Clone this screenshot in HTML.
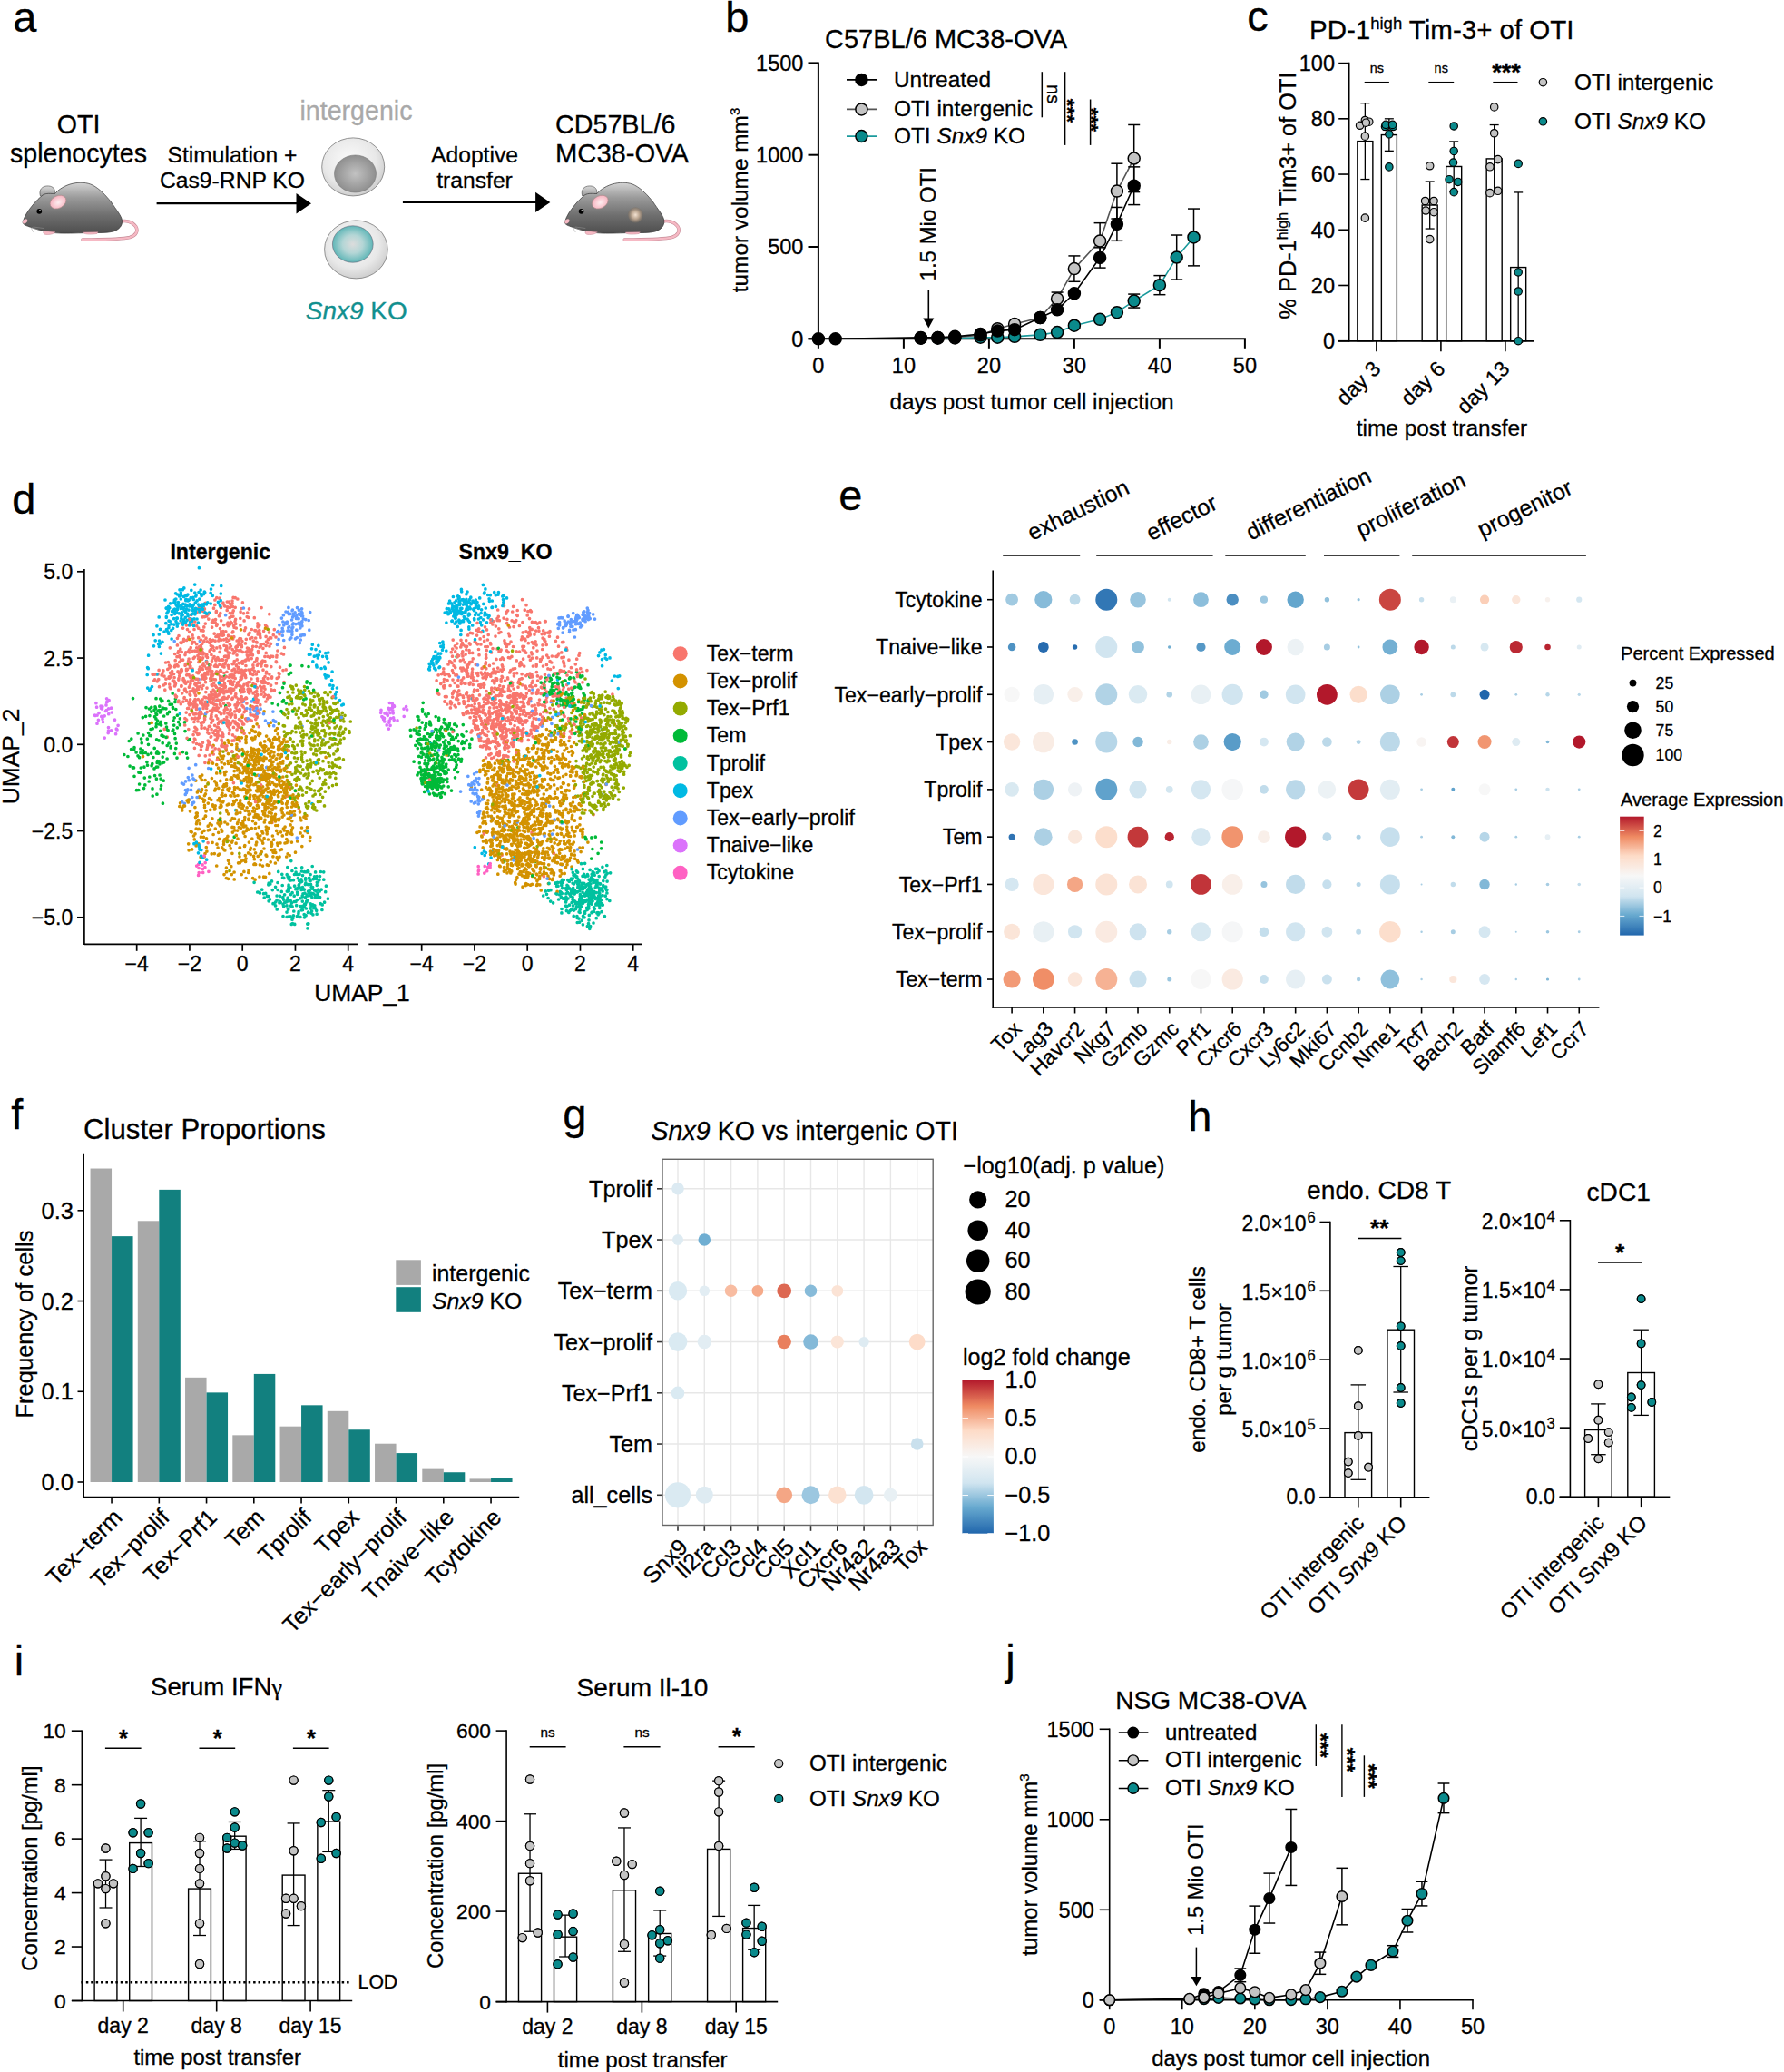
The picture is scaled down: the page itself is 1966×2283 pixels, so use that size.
<!DOCTYPE html>
<html><head><meta charset="utf-8"><title>Figure</title>
<style>html,body{margin:0;padding:0;background:#fff}svg{display:block}text{font-family:"Liberation Sans",sans-serif;stroke-width:.3px}text:not([fill]){stroke:#000}</style>
</head><body>
<svg width="1966" height="2283" viewBox="0 0 1966 2283" fill="#000">
<rect width="1966" height="2283" fill="#fff"/>
<defs><linearGradient id="mg" x1="0" y1="0" x2="0" y2="1"><stop offset="0" stop-color="#d4d4d4"/><stop offset="0.3" stop-color="#9a9a9a"/><stop offset="0.65" stop-color="#6e6e6e"/><stop offset="1" stop-color="#4e4e4e"/></linearGradient><linearGradient id="mg2" x1="0" y1="0" x2="0" y2="1"><stop offset="0" stop-color="#d8d8d8"/><stop offset="1" stop-color="#8a8a8a"/></linearGradient><radialGradient id="eg1" cx="0.5" cy="0.55" r="0.6"><stop offset="0" stop-color="#fdeef0"/><stop offset="0.6" stop-color="#f9c6cf"/><stop offset="1" stop-color="#f3a9b8"/></radialGradient><radialGradient id="tg"><stop offset="0" stop-color="#f3e2d2"/><stop offset="0.55" stop-color="#b9a38e"/><stop offset="1" stop-color="#7d7266" stop-opacity="0.6"/></radialGradient><radialGradient id="co" cx="0.45" cy="0.4" r="0.6"><stop offset="0" stop-color="#fbfbfb"/><stop offset="0.7" stop-color="#e8e8e8"/><stop offset="1" stop-color="#cfcfcf"/></radialGradient><radialGradient id="cn1" cx="0.5" cy="0.5" r="0.55"><stop offset="0" stop-color="#c2c2c2"/><stop offset="1" stop-color="#8a8a8a"/></radialGradient><radialGradient id="cn2" cx="0.5" cy="0.5" r="0.55"><stop offset="0" stop-color="#dcdcdc"/><stop offset="0.45" stop-color="#b4d6d6"/><stop offset="1" stop-color="#4fb0b1"/></radialGradient></defs>
<text x="14.2" y="35" font-size="47">a</text>
<text x="86.5" y="146.7" font-size="28.6" text-anchor="middle">OTI</text>
<text x="86.5" y="179.3" font-size="28.6" text-anchor="middle">splenocytes</text>
<g transform="translate(0 0)">
<path d="M132 244.2 C139 242.3 146 244.5 149.6 249.5 C152.6 254.5 150 259.6 143 261.6 C132 264.2 110 263.8 91 264" fill="none" stroke="#c58b97" stroke-width="3.6" stroke-linecap="round"/>
<path d="M132 244.2 C139 242.3 146 244.5 149.6 249.5 C152.6 254.5 150 259.6 143 261.6 C132 264.2 110 263.8 91 264" fill="none" stroke="#f6b9c4" stroke-width="2.5" stroke-linecap="round"/>
<path d="M44.5 216 C42.8 210.5 45 206.3 50 205.2 C55 204.2 59.6 206 60.3 210 C60.6 212 60.5 213 60.5 214.5 L52 219 Z" fill="url(#mg2)" stroke="#444" stroke-width="0.6"/>
<path d="M25.1 244.7 C27 238 31 232 36 226 C40 221 44 217.5 47 215 C51 212.5 56 213.5 60.5 213.5 C64 209 72 204 80 202.3 C88 200.5 96 201 102 204 C110 208 117 216 122 222 C128 231 134 238 134.5 243 C135 249 131 253 125 255 C118 257 108 256.4 100 256.5 C88 256.7 75 257.3 67 257 C59 256.7 52 256 48 254.8 C42 253 37 251.5 33.6 250.3 C29 248.7 25 247.5 25.1 244.7 Z" fill="url(#mg)" stroke="#333" stroke-width="0.7"/>
<path d="M49 254.5 C47 255.5 47.2 258 50.5 258.4 C55 259 59.5 257.5 61 255.8 Z" fill="#f6b9c4" stroke="#c58b97" stroke-width="0.5"/>
<path d="M92 256 C92 258 99 258.8 107 257.4 L108 255.8 Z" fill="#f6b9c4" stroke="#c58b97" stroke-width="0.5"/>
<path d="M33.5 250 L37 256 M35 250.5 L43.5 253.5 M36.5 250 L48 251.5" fill="none" stroke="#999" stroke-width="0.5"/>
<ellipse cx="27.6" cy="243.8" rx="3" ry="2.1" fill="#f6b9c4" transform="rotate(-35 27.6 243.8)"/>
<ellipse cx="64" cy="222.6" rx="9.4" ry="6.8" fill="url(#eg1)" stroke="#a88" stroke-width="0.6" transform="rotate(-27 64 222.6)"/>
<circle cx="43.3" cy="232.8" r="2.9" fill="#000"/>
<circle cx="44" cy="232.1" r="0.9" fill="#fff"/>
</g>
<line x1="172.6" y1="224.2" x2="330" y2="224.2" stroke="#000" stroke-width="2.2"/>
<path d="M326.5 213 L343 224.2 L326.5 235.4 Z" fill="#000"/>
<text x="256" y="179.4" font-size="24.6" text-anchor="middle">Stimulation +</text>
<text x="256" y="207.2" font-size="24.7" text-anchor="middle">Cas9-RNP KO</text>
<text x="392.5" y="132" font-size="28.6" text-anchor="middle" fill="#a9a9a9" stroke="#a9a9a9">intergenic</text>
<ellipse cx="389.2" cy="183.9" rx="34.5" ry="32" fill="url(#co)" stroke="#777" stroke-width="0.8"/>
<ellipse cx="391.5" cy="191.5" rx="23" ry="20.5" fill="url(#cn1)" stroke="#777" stroke-width="0.6"/>
<ellipse cx="392.4" cy="274.9" rx="34.8" ry="32" fill="url(#co)" stroke="#777" stroke-width="0.8"/>
<ellipse cx="388.8" cy="269" rx="22.4" ry="20.2" fill="url(#cn2)" stroke="#667" stroke-width="0.6"/>
<text x="392.8" y="352" font-size="28" text-anchor="middle" fill="#12908f" stroke="#12908f"><tspan font-style="italic">Snx9</tspan> KO</text>
<line x1="443.9" y1="222.9" x2="594" y2="222.9" stroke="#000" stroke-width="2.2"/>
<path d="M590.1 211.7 L606.3 222.9 L590.1 234.1 Z" fill="#000"/>
<text x="523" y="179.4" font-size="24.7" text-anchor="middle">Adoptive</text>
<text x="523" y="207.2" font-size="24.7" text-anchor="middle">transfer</text>
<text x="612" y="146.6" font-size="28.7">CD57BL/6</text>
<text x="612" y="179.4" font-size="29.2">MC38-OVA</text>
<g transform="translate(597.3 0)">
<path d="M132 244.2 C139 242.3 146 244.5 149.6 249.5 C152.6 254.5 150 259.6 143 261.6 C132 264.2 110 263.8 91 264" fill="none" stroke="#c58b97" stroke-width="3.6" stroke-linecap="round"/>
<path d="M132 244.2 C139 242.3 146 244.5 149.6 249.5 C152.6 254.5 150 259.6 143 261.6 C132 264.2 110 263.8 91 264" fill="none" stroke="#f6b9c4" stroke-width="2.5" stroke-linecap="round"/>
<path d="M44.5 216 C42.8 210.5 45 206.3 50 205.2 C55 204.2 59.6 206 60.3 210 C60.6 212 60.5 213 60.5 214.5 L52 219 Z" fill="url(#mg2)" stroke="#444" stroke-width="0.6"/>
<path d="M25.1 244.7 C27 238 31 232 36 226 C40 221 44 217.5 47 215 C51 212.5 56 213.5 60.5 213.5 C64 209 72 204 80 202.3 C88 200.5 96 201 102 204 C110 208 117 216 122 222 C128 231 134 238 134.5 243 C135 249 131 253 125 255 C118 257 108 256.4 100 256.5 C88 256.7 75 257.3 67 257 C59 256.7 52 256 48 254.8 C42 253 37 251.5 33.6 250.3 C29 248.7 25 247.5 25.1 244.7 Z" fill="url(#mg)" stroke="#333" stroke-width="0.7"/>
<path d="M49 254.5 C47 255.5 47.2 258 50.5 258.4 C55 259 59.5 257.5 61 255.8 Z" fill="#f6b9c4" stroke="#c58b97" stroke-width="0.5"/>
<path d="M92 256 C92 258 99 258.8 107 257.4 L108 255.8 Z" fill="#f6b9c4" stroke="#c58b97" stroke-width="0.5"/>
<path d="M33.5 250 L37 256 M35 250.5 L43.5 253.5 M36.5 250 L48 251.5" fill="none" stroke="#999" stroke-width="0.5"/>
<ellipse cx="27.6" cy="243.8" rx="3" ry="2.1" fill="#f6b9c4" transform="rotate(-35 27.6 243.8)"/>
<ellipse cx="64" cy="222.6" rx="9.4" ry="6.8" fill="url(#eg1)" stroke="#a88" stroke-width="0.6" transform="rotate(-27 64 222.6)"/>
<circle cx="43.3" cy="232.8" r="2.9" fill="#000"/>
<circle cx="44" cy="232.1" r="0.9" fill="#fff"/>
<ellipse cx="103" cy="236.8" rx="8.2" ry="8.6" fill="url(#tg)"/>
</g>
<text x="799.2" y="34.8" font-size="47">b</text>
<line x1="901.9" y1="374.3" x2="901.9" y2="68.4" stroke="#000" stroke-width="2"/>
<line x1="890.5" y1="373.3" x2="1372.9" y2="373.3" stroke="#000" stroke-width="2"/>
<line x1="890.5" y1="373.3" x2="901.9" y2="373.3" stroke="#000" stroke-width="2"/>
<text x="885.4" y="381.5" font-size="23.5" text-anchor="end">0</text>
<line x1="890.5" y1="272" x2="901.9" y2="272" stroke="#000" stroke-width="2"/>
<text x="885.4" y="280.2" font-size="23.5" text-anchor="end">500</text>
<line x1="890.5" y1="170.7" x2="901.9" y2="170.7" stroke="#000" stroke-width="2"/>
<text x="885.4" y="178.9" font-size="23.5" text-anchor="end">1000</text>
<line x1="890.5" y1="69.4" x2="901.9" y2="69.4" stroke="#000" stroke-width="2"/>
<text x="885.4" y="77.6" font-size="23.5" text-anchor="end">1500</text>
<line x1="901.9" y1="373.3" x2="901.9" y2="383.8" stroke="#000" stroke-width="2"/>
<text x="901.9" y="411.2" font-size="23.5" text-anchor="middle">0</text>
<line x1="995.9" y1="373.3" x2="995.9" y2="383.8" stroke="#000" stroke-width="2"/>
<text x="995.9" y="411.2" font-size="23.5" text-anchor="middle">10</text>
<line x1="1089.9" y1="373.3" x2="1089.9" y2="383.8" stroke="#000" stroke-width="2"/>
<text x="1089.9" y="411.2" font-size="23.5" text-anchor="middle">20</text>
<line x1="1183.9" y1="373.3" x2="1183.9" y2="383.8" stroke="#000" stroke-width="2"/>
<text x="1183.9" y="411.2" font-size="23.5" text-anchor="middle">30</text>
<line x1="1277.9" y1="373.3" x2="1277.9" y2="383.8" stroke="#000" stroke-width="2"/>
<text x="1277.9" y="411.2" font-size="23.5" text-anchor="middle">40</text>
<line x1="1371.9" y1="373.3" x2="1371.9" y2="383.8" stroke="#000" stroke-width="2"/>
<text x="1371.9" y="411.2" font-size="23.5" text-anchor="middle">50</text>
<text x="1042.5" y="52.8" font-size="29" text-anchor="middle">C57BL/6 MC38-OVA</text>
<text x="1137" y="450.8" font-size="24.4" text-anchor="middle">days post tumor cell injection</text>
<text transform="translate(824 220.5) rotate(-90)" font-size="24.4" text-anchor="middle">tumor volume mm<tspan font-size="15" dy="-9">3</tspan></text>
<line x1="1023.3" y1="319" x2="1023.3" y2="353" stroke="#000" stroke-width="1.6"/>
<path d="M1017.3 350.5 L1029.3 350.5 L1023.3 361.5 Z" fill="#000"/>
<text font-size="24" transform="translate(1031 309.4) rotate(-90)">1.5 Mio OTI</text>
<path d="M1014.7 372.69 L1033.5 372.69 L1052.3 372.49 L1080.5 371.68 L1099.3 371.68 L1118.1 370.87 L1146.3 368.84 L1165.1 366.01 L1183.9 358.71 L1212.1 351.82 L1230.9 344.13 L1249.7 331.56 L1277.9 314.14 L1296.7 283.55 L1315.5 261.46" fill="none" stroke="#1a9a9c" stroke-width="1.6" stroke-linejoin="round"/>
<line x1="1249.7" y1="324.07" x2="1249.7" y2="339.06" stroke="#000" stroke-width="1.5"/>
<line x1="1243.2" y1="324.07" x2="1256.2" y2="324.07" stroke="#000" stroke-width="1.5"/>
<line x1="1243.2" y1="339.06" x2="1256.2" y2="339.06" stroke="#000" stroke-width="1.5"/>
<line x1="1277.9" y1="303.61" x2="1277.9" y2="324.68" stroke="#000" stroke-width="1.5"/>
<line x1="1271.4" y1="303.61" x2="1284.4" y2="303.61" stroke="#000" stroke-width="1.5"/>
<line x1="1271.4" y1="324.68" x2="1284.4" y2="324.68" stroke="#000" stroke-width="1.5"/>
<line x1="1296.7" y1="259.03" x2="1296.7" y2="308.06" stroke="#000" stroke-width="1.5"/>
<line x1="1290.2" y1="259.03" x2="1303.2" y2="259.03" stroke="#000" stroke-width="1.5"/>
<line x1="1290.2" y1="308.06" x2="1303.2" y2="308.06" stroke="#000" stroke-width="1.5"/>
<line x1="1315.5" y1="230.06" x2="1315.5" y2="292.87" stroke="#000" stroke-width="1.5"/>
<line x1="1309" y1="230.06" x2="1322" y2="230.06" stroke="#000" stroke-width="1.5"/>
<line x1="1309" y1="292.87" x2="1322" y2="292.87" stroke="#000" stroke-width="1.5"/>
<circle cx="1014.7" cy="372.69" r="6.5" fill="#0a8a8c" stroke="#000" stroke-width="1.5"/>
<circle cx="1033.5" cy="372.69" r="6.5" fill="#0a8a8c" stroke="#000" stroke-width="1.5"/>
<circle cx="1052.3" cy="372.49" r="6.5" fill="#0a8a8c" stroke="#000" stroke-width="1.5"/>
<circle cx="1080.5" cy="371.68" r="6.5" fill="#0a8a8c" stroke="#000" stroke-width="1.5"/>
<circle cx="1099.3" cy="371.68" r="6.5" fill="#0a8a8c" stroke="#000" stroke-width="1.5"/>
<circle cx="1118.1" cy="370.87" r="6.5" fill="#0a8a8c" stroke="#000" stroke-width="1.5"/>
<circle cx="1146.3" cy="368.84" r="6.5" fill="#0a8a8c" stroke="#000" stroke-width="1.5"/>
<circle cx="1165.1" cy="366.01" r="6.5" fill="#0a8a8c" stroke="#000" stroke-width="1.5"/>
<circle cx="1183.9" cy="358.71" r="6.5" fill="#0a8a8c" stroke="#000" stroke-width="1.5"/>
<circle cx="1212.1" cy="351.82" r="6.5" fill="#0a8a8c" stroke="#000" stroke-width="1.5"/>
<circle cx="1230.9" cy="344.13" r="6.5" fill="#0a8a8c" stroke="#000" stroke-width="1.5"/>
<circle cx="1249.7" cy="331.56" r="6.5" fill="#0a8a8c" stroke="#000" stroke-width="1.5"/>
<circle cx="1277.9" cy="314.14" r="6.5" fill="#0a8a8c" stroke="#000" stroke-width="1.5"/>
<circle cx="1296.7" cy="283.55" r="6.5" fill="#0a8a8c" stroke="#000" stroke-width="1.5"/>
<circle cx="1315.5" cy="261.46" r="6.5" fill="#0a8a8c" stroke="#000" stroke-width="1.5"/>
<path d="M1014.7 372.29 L1033.5 372.08 L1052.3 371.68 L1080.5 369.25 L1099.3 362.16 L1118.1 357.09 L1146.3 350 L1165.1 329.13 L1183.9 296.11 L1212.1 265.52 L1230.9 210.61 L1249.7 174.55" fill="none" stroke="#555" stroke-width="1.6" stroke-linejoin="round"/>
<line x1="1165.1" y1="322.04" x2="1165.1" y2="336.22" stroke="#000" stroke-width="1.5"/>
<line x1="1158.6" y1="322.04" x2="1171.6" y2="322.04" stroke="#000" stroke-width="1.5"/>
<line x1="1158.6" y1="336.22" x2="1171.6" y2="336.22" stroke="#000" stroke-width="1.5"/>
<line x1="1183.9" y1="281.93" x2="1183.9" y2="310.29" stroke="#000" stroke-width="1.5"/>
<line x1="1177.4" y1="281.93" x2="1190.4" y2="281.93" stroke="#000" stroke-width="1.5"/>
<line x1="1177.4" y1="310.29" x2="1190.4" y2="310.29" stroke="#000" stroke-width="1.5"/>
<line x1="1212.1" y1="245.66" x2="1212.1" y2="285.37" stroke="#000" stroke-width="1.5"/>
<line x1="1205.6" y1="245.66" x2="1218.6" y2="245.66" stroke="#000" stroke-width="1.5"/>
<line x1="1205.6" y1="285.37" x2="1218.6" y2="285.37" stroke="#000" stroke-width="1.5"/>
<line x1="1230.9" y1="180.22" x2="1230.9" y2="241" stroke="#000" stroke-width="1.5"/>
<line x1="1224.4" y1="180.22" x2="1237.4" y2="180.22" stroke="#000" stroke-width="1.5"/>
<line x1="1224.4" y1="241" x2="1237.4" y2="241" stroke="#000" stroke-width="1.5"/>
<line x1="1249.7" y1="137.47" x2="1249.7" y2="211.63" stroke="#000" stroke-width="1.5"/>
<line x1="1243.2" y1="137.47" x2="1256.2" y2="137.47" stroke="#000" stroke-width="1.5"/>
<line x1="1243.2" y1="211.63" x2="1256.2" y2="211.63" stroke="#000" stroke-width="1.5"/>
<circle cx="1014.7" cy="372.29" r="6.5" fill="#c4c4c4" stroke="#000" stroke-width="1.5"/>
<circle cx="1033.5" cy="372.08" r="6.5" fill="#c4c4c4" stroke="#000" stroke-width="1.5"/>
<circle cx="1052.3" cy="371.68" r="6.5" fill="#c4c4c4" stroke="#000" stroke-width="1.5"/>
<circle cx="1080.5" cy="369.25" r="6.5" fill="#c4c4c4" stroke="#000" stroke-width="1.5"/>
<circle cx="1099.3" cy="362.16" r="6.5" fill="#c4c4c4" stroke="#000" stroke-width="1.5"/>
<circle cx="1118.1" cy="357.09" r="6.5" fill="#c4c4c4" stroke="#000" stroke-width="1.5"/>
<circle cx="1146.3" cy="350" r="6.5" fill="#c4c4c4" stroke="#000" stroke-width="1.5"/>
<circle cx="1165.1" cy="329.13" r="6.5" fill="#c4c4c4" stroke="#000" stroke-width="1.5"/>
<circle cx="1183.9" cy="296.11" r="6.5" fill="#c4c4c4" stroke="#000" stroke-width="1.5"/>
<circle cx="1212.1" cy="265.52" r="6.5" fill="#c4c4c4" stroke="#000" stroke-width="1.5"/>
<circle cx="1230.9" cy="210.61" r="6.5" fill="#c4c4c4" stroke="#000" stroke-width="1.5"/>
<circle cx="1249.7" cy="174.55" r="6.5" fill="#c4c4c4" stroke="#000" stroke-width="1.5"/>
<path d="M901.9 373.3 L920.7 373.3 L1014.7 371.88 L1033.5 371.88 L1052.3 370.87 L1080.5 368.03 L1099.3 364.59 L1118.1 363.17 L1146.3 350 L1165.1 341.29 L1183.9 323.26 L1212.1 283.95 L1230.9 246.88 L1249.7 204.74" fill="none" stroke="#000" stroke-width="1.6" stroke-linejoin="round"/>
<line x1="1212.1" y1="272.81" x2="1212.1" y2="295.1" stroke="#000" stroke-width="1.5"/>
<line x1="1205.6" y1="272.81" x2="1218.6" y2="272.81" stroke="#000" stroke-width="1.5"/>
<line x1="1205.6" y1="295.1" x2="1218.6" y2="295.1" stroke="#000" stroke-width="1.5"/>
<line x1="1230.9" y1="228.44" x2="1230.9" y2="265.31" stroke="#000" stroke-width="1.5"/>
<line x1="1224.4" y1="228.44" x2="1237.4" y2="228.44" stroke="#000" stroke-width="1.5"/>
<line x1="1224.4" y1="265.31" x2="1237.4" y2="265.31" stroke="#000" stroke-width="1.5"/>
<line x1="1249.7" y1="183.87" x2="1249.7" y2="225.6" stroke="#000" stroke-width="1.5"/>
<line x1="1243.2" y1="183.87" x2="1256.2" y2="183.87" stroke="#000" stroke-width="1.5"/>
<line x1="1243.2" y1="225.6" x2="1256.2" y2="225.6" stroke="#000" stroke-width="1.5"/>
<circle cx="901.9" cy="373.3" r="6.5" fill="#000" stroke="#000" stroke-width="1.5"/>
<circle cx="920.7" cy="373.3" r="6.5" fill="#000" stroke="#000" stroke-width="1.5"/>
<circle cx="1014.7" cy="371.88" r="6.5" fill="#000" stroke="#000" stroke-width="1.5"/>
<circle cx="1033.5" cy="371.88" r="6.5" fill="#000" stroke="#000" stroke-width="1.5"/>
<circle cx="1052.3" cy="370.87" r="6.5" fill="#000" stroke="#000" stroke-width="1.5"/>
<circle cx="1080.5" cy="368.03" r="6.5" fill="#000" stroke="#000" stroke-width="1.5"/>
<circle cx="1099.3" cy="364.59" r="6.5" fill="#000" stroke="#000" stroke-width="1.5"/>
<circle cx="1118.1" cy="363.17" r="6.5" fill="#000" stroke="#000" stroke-width="1.5"/>
<circle cx="1146.3" cy="350" r="6.5" fill="#000" stroke="#000" stroke-width="1.5"/>
<circle cx="1165.1" cy="341.29" r="6.5" fill="#000" stroke="#000" stroke-width="1.5"/>
<circle cx="1183.9" cy="323.26" r="6.5" fill="#000" stroke="#000" stroke-width="1.5"/>
<circle cx="1212.1" cy="283.95" r="6.5" fill="#000" stroke="#000" stroke-width="1.5"/>
<circle cx="1230.9" cy="246.88" r="6.5" fill="#000" stroke="#000" stroke-width="1.5"/>
<circle cx="1249.7" cy="204.74" r="6.5" fill="#000" stroke="#000" stroke-width="1.5"/>
<line x1="933" y1="87.9" x2="966.6" y2="87.9" stroke="#000" stroke-width="1.6"/>
<circle cx="949.4" cy="87.9" r="6.5" fill="#000" stroke="#000" stroke-width="1.5"/>
<line x1="933" y1="120.4" x2="966.6" y2="120.4" stroke="#555" stroke-width="1.6"/>
<circle cx="949.4" cy="120.4" r="6.5" fill="#c4c4c4" stroke="#000" stroke-width="1.5"/>
<line x1="933" y1="150.1" x2="966.6" y2="150.1" stroke="#1a9a9c" stroke-width="1.6"/>
<circle cx="949.4" cy="150.1" r="6.5" fill="#0a8a8c" stroke="#000" stroke-width="1.5"/>
<text x="985" y="95.8" font-size="24.4">Untreated</text>
<text x="985" y="128.3" font-size="24.4">OTI intergenic</text>
<text x="985" y="157.7" font-size="24.4">OTI <tspan font-style="italic">Snx9</tspan> KO</text>
<line x1="1148.3" y1="79.2" x2="1148.3" y2="129.3" stroke="#000" stroke-width="1.5"/>
<line x1="1173.6" y1="79.2" x2="1173.6" y2="159.9" stroke="#000" stroke-width="1.5"/>
<line x1="1201.6" y1="109.5" x2="1201.6" y2="159.9" stroke="#000" stroke-width="1.5"/>
<text font-size="20" text-anchor="middle" transform="translate(1153.7 103.6) rotate(90)">ns</text>
<text font-size="22.5" text-anchor="middle" font-weight="bold" transform="translate(1168.7 122) rotate(90)">***</text>
<text font-size="22.5" text-anchor="middle" font-weight="bold" transform="translate(1195.4 132) rotate(90)">***</text>
<text x="1374.2" y="34" font-size="47">c</text>
<line x1="1486.7" y1="376.5" x2="1486.7" y2="68.8" stroke="#000" stroke-width="1.6"/>
<line x1="1474.8" y1="375.7" x2="1690.2" y2="375.7" stroke="#000" stroke-width="1.6"/>
<rect x="1495.86" y="155.61" width="17" height="220.09" fill="#fff" stroke="#000" stroke-width="1.4"/>
<rect x="1522.36" y="148.57" width="17" height="227.13" fill="#fff" stroke="#000" stroke-width="1.4"/>
<rect x="1567.19" y="226.02" width="17" height="149.68" fill="#fff" stroke="#000" stroke-width="1.4"/>
<rect x="1593.69" y="183.47" width="17" height="192.23" fill="#fff" stroke="#000" stroke-width="1.4"/>
<rect x="1638.18" y="174.9" width="17" height="200.8" fill="#fff" stroke="#000" stroke-width="1.4"/>
<rect x="1664.68" y="294.58" width="17" height="81.12" fill="#fff" stroke="#000" stroke-width="1.4"/>
<line x1="1474.8" y1="375.7" x2="1690.2" y2="375.7" stroke="#000" stroke-width="1.6"/>
<line x1="1504.36" y1="113.68" x2="1504.36" y2="197.55" stroke="#000" stroke-width="1.3"/>
<line x1="1499.36" y1="113.68" x2="1509.36" y2="113.68" stroke="#000" stroke-width="1.3"/>
<line x1="1499.36" y1="197.55" x2="1509.36" y2="197.55" stroke="#000" stroke-width="1.3"/>
<line x1="1530.86" y1="130.82" x2="1530.86" y2="166.33" stroke="#000" stroke-width="1.3"/>
<line x1="1525.86" y1="130.82" x2="1535.86" y2="130.82" stroke="#000" stroke-width="1.3"/>
<line x1="1525.86" y1="166.33" x2="1535.86" y2="166.33" stroke="#000" stroke-width="1.3"/>
<line x1="1575.69" y1="200" x2="1575.69" y2="252.04" stroke="#000" stroke-width="1.3"/>
<line x1="1570.69" y1="200" x2="1580.69" y2="200" stroke="#000" stroke-width="1.3"/>
<line x1="1570.69" y1="252.04" x2="1580.69" y2="252.04" stroke="#000" stroke-width="1.3"/>
<line x1="1602.19" y1="155.92" x2="1602.19" y2="211.02" stroke="#000" stroke-width="1.3"/>
<line x1="1597.19" y1="155.92" x2="1607.19" y2="155.92" stroke="#000" stroke-width="1.3"/>
<line x1="1597.19" y1="211.02" x2="1607.19" y2="211.02" stroke="#000" stroke-width="1.3"/>
<line x1="1646.68" y1="137.55" x2="1646.68" y2="212.24" stroke="#000" stroke-width="1.3"/>
<line x1="1641.68" y1="137.55" x2="1651.68" y2="137.55" stroke="#000" stroke-width="1.3"/>
<line x1="1641.68" y1="212.24" x2="1651.68" y2="212.24" stroke="#000" stroke-width="1.3"/>
<line x1="1673.18" y1="211.94" x2="1673.18" y2="377.23" stroke="#000" stroke-width="1.3"/>
<line x1="1668.18" y1="211.94" x2="1678.18" y2="211.94" stroke="#000" stroke-width="1.3"/>
<line x1="1668.18" y1="377.23" x2="1678.18" y2="377.23" stroke="#000" stroke-width="1.3"/>
<circle cx="1504.36" cy="132.49" r="4.2" fill="#c4c4c4" stroke="#000" stroke-width="1.2"/>
<circle cx="1498.59" cy="138.27" r="4.2" fill="#c4c4c4" stroke="#000" stroke-width="1.2"/>
<circle cx="1508.78" cy="134.19" r="4.2" fill="#c4c4c4" stroke="#000" stroke-width="1.2"/>
<circle cx="1505.38" cy="135.21" r="4.2" fill="#c4c4c4" stroke="#000" stroke-width="1.2"/>
<circle cx="1504.36" cy="150.16" r="4.2" fill="#c4c4c4" stroke="#000" stroke-width="1.2"/>
<circle cx="1504.36" cy="240.17" r="4.2" fill="#c4c4c4" stroke="#000" stroke-width="1.2"/>
<circle cx="1526.51" cy="139.52" r="4.2" fill="#0a8a8c" stroke="#000" stroke-width="1.2"/>
<circle cx="1535.2" cy="139.52" r="4.2" fill="#0a8a8c" stroke="#000" stroke-width="1.2"/>
<circle cx="1530.86" cy="147.78" r="4.2" fill="#0a8a8c" stroke="#000" stroke-width="1.2"/>
<circle cx="1530.86" cy="183.92" r="4.2" fill="#0a8a8c" stroke="#000" stroke-width="1.2"/>
<circle cx="1527.12" cy="137.42" r="4.2" fill="#0a8a8c" stroke="#000" stroke-width="1.2"/>
<circle cx="1534.59" cy="137.42" r="4.2" fill="#0a8a8c" stroke="#000" stroke-width="1.2"/>
<circle cx="1575.69" cy="182.77" r="4.2" fill="#c4c4c4" stroke="#000" stroke-width="1.2"/>
<circle cx="1570.6" cy="221.49" r="4.2" fill="#c4c4c4" stroke="#000" stroke-width="1.2"/>
<circle cx="1580.11" cy="221.49" r="4.2" fill="#c4c4c4" stroke="#000" stroke-width="1.2"/>
<circle cx="1571.28" cy="232.02" r="4.2" fill="#c4c4c4" stroke="#000" stroke-width="1.2"/>
<circle cx="1580.11" cy="233.72" r="4.2" fill="#c4c4c4" stroke="#000" stroke-width="1.2"/>
<circle cx="1575.69" cy="263.61" r="4.2" fill="#c4c4c4" stroke="#000" stroke-width="1.2"/>
<circle cx="1602.19" cy="138.95" r="4.2" fill="#0a8a8c" stroke="#000" stroke-width="1.2"/>
<circle cx="1602.19" cy="166.46" r="4.2" fill="#0a8a8c" stroke="#000" stroke-width="1.2"/>
<circle cx="1601.51" cy="179.03" r="4.2" fill="#0a8a8c" stroke="#000" stroke-width="1.2"/>
<circle cx="1597.09" cy="197.71" r="4.2" fill="#0a8a8c" stroke="#000" stroke-width="1.2"/>
<circle cx="1606.6" cy="200.43" r="4.2" fill="#0a8a8c" stroke="#000" stroke-width="1.2"/>
<circle cx="1602.19" cy="211.64" r="4.2" fill="#0a8a8c" stroke="#000" stroke-width="1.2"/>
<circle cx="1646.68" cy="117.89" r="4.2" fill="#c4c4c4" stroke="#000" stroke-width="1.2"/>
<circle cx="1646.68" cy="146.76" r="4.2" fill="#c4c4c4" stroke="#000" stroke-width="1.2"/>
<circle cx="1650.76" cy="175.63" r="4.2" fill="#c4c4c4" stroke="#000" stroke-width="1.2"/>
<circle cx="1641.93" cy="183.78" r="4.2" fill="#c4c4c4" stroke="#000" stroke-width="1.2"/>
<circle cx="1641.93" cy="212.66" r="4.2" fill="#c4c4c4" stroke="#000" stroke-width="1.2"/>
<circle cx="1650.76" cy="210.28" r="4.2" fill="#c4c4c4" stroke="#000" stroke-width="1.2"/>
<circle cx="1673.18" cy="180.39" r="4.2" fill="#0a8a8c" stroke="#000" stroke-width="1.2"/>
<circle cx="1673.18" cy="299.95" r="4.2" fill="#0a8a8c" stroke="#000" stroke-width="1.2"/>
<circle cx="1673.18" cy="321.01" r="4.2" fill="#0a8a8c" stroke="#000" stroke-width="1.2"/>
<circle cx="1673.18" cy="375.7" r="4.2" fill="#0a8a8c" stroke="#000" stroke-width="1.2"/>
<line x1="1475.2" y1="375.7" x2="1486.7" y2="375.7" stroke="#000" stroke-width="1.6"/>
<text x="1471" y="384" font-size="23.5" text-anchor="end">0</text>
<line x1="1475.2" y1="314.48" x2="1486.7" y2="314.48" stroke="#000" stroke-width="1.6"/>
<text x="1471" y="322.78" font-size="23.5" text-anchor="end">20</text>
<line x1="1475.2" y1="253.26" x2="1486.7" y2="253.26" stroke="#000" stroke-width="1.6"/>
<text x="1471" y="261.56" font-size="23.5" text-anchor="end">40</text>
<line x1="1475.2" y1="192.04" x2="1486.7" y2="192.04" stroke="#000" stroke-width="1.6"/>
<text x="1471" y="200.34" font-size="23.5" text-anchor="end">60</text>
<line x1="1475.2" y1="130.82" x2="1486.7" y2="130.82" stroke="#000" stroke-width="1.6"/>
<text x="1471" y="139.12" font-size="23.5" text-anchor="end">80</text>
<line x1="1475.2" y1="69.6" x2="1486.7" y2="69.6" stroke="#000" stroke-width="1.6"/>
<text x="1471" y="77.9" font-size="23.5" text-anchor="end">100</text>
<line x1="1516.9" y1="375.7" x2="1516.9" y2="387.2" stroke="#000" stroke-width="1.6"/>
<text font-size="23.5" text-anchor="end" transform="translate(1522.9 407.7) rotate(-45)">day 3</text>
<line x1="1587.9" y1="375.7" x2="1587.9" y2="387.2" stroke="#000" stroke-width="1.6"/>
<text font-size="23.5" text-anchor="end" transform="translate(1593.9 407.7) rotate(-45)">day 6</text>
<line x1="1658.9" y1="375.7" x2="1658.9" y2="387.2" stroke="#000" stroke-width="1.6"/>
<text font-size="23.5" text-anchor="end" transform="translate(1664.9 407.7) rotate(-45)">day 13</text>
<text x="1443" y="43.1" font-size="29.5">PD-1<tspan font-size="18.5" dy="-11.5">high</tspan><tspan dy="11.5"> Tim-3+ of OTI</tspan></text>
<text transform="translate(1428 215.5) rotate(-90)" font-size="25.4" text-anchor="middle">% PD-1<tspan font-size="16" dy="-9.5">high</tspan><tspan dy="9.5"> Tim3+ of OTI</tspan></text>
<text x="1589" y="479.6" font-size="24.4" text-anchor="middle">time post transfer</text>
<line x1="1503.7" y1="90.7" x2="1530.9" y2="90.7" stroke="#000" stroke-width="1.5"/>
<text x="1517.3" y="79.5" font-size="14.5" text-anchor="middle">ns</text>
<line x1="1574.3" y1="90.7" x2="1602.2" y2="90.7" stroke="#000" stroke-width="1.5"/>
<text x="1588.25" y="79.5" font-size="14.5" text-anchor="middle">ns</text>
<line x1="1645.3" y1="90.7" x2="1672.5" y2="90.7" stroke="#000" stroke-width="1.5"/>
<text x="1659.9" y="89.2" font-size="27" text-anchor="middle" font-weight="bold">***</text>
<circle cx="1700.4" cy="90.7" r="4.2" fill="#c4c4c4" stroke="#000" stroke-width="1.2"/>
<circle cx="1700.4" cy="133.8" r="4.2" fill="#0a8a8c" stroke="#000" stroke-width="1.2"/>
<text x="1735" y="99.2" font-size="24.4">OTI intergenic</text>
<text x="1735" y="142" font-size="24.4">OTI <tspan font-style="italic">Snx9</tspan> KO</text>
<text x="13.2" y="566" font-size="47">d</text>
<line x1="92.9" y1="627" x2="92.9" y2="1041.1" stroke="#000" stroke-width="1.7"/>
<line x1="92.9" y1="1040.3" x2="394.5" y2="1040.3" stroke="#000" stroke-width="1.7"/>
<line x1="406.3" y1="1040.3" x2="707.7" y2="1040.3" stroke="#000" stroke-width="1.7"/>
<line x1="85" y1="629.8" x2="92.9" y2="629.8" stroke="#000" stroke-width="1.7"/>
<text x="80.2" y="638.3" font-size="23" text-anchor="end">5.0</text>
<line x1="85" y1="725.05" x2="92.9" y2="725.05" stroke="#000" stroke-width="1.7"/>
<text x="80.2" y="733.55" font-size="23" text-anchor="end">2.5</text>
<line x1="85" y1="820.3" x2="92.9" y2="820.3" stroke="#000" stroke-width="1.7"/>
<text x="80.2" y="828.8" font-size="23" text-anchor="end">0.0</text>
<line x1="85" y1="915.55" x2="92.9" y2="915.55" stroke="#000" stroke-width="1.7"/>
<text x="80.2" y="924.05" font-size="23" text-anchor="end">−2.5</text>
<line x1="85" y1="1010.8" x2="92.9" y2="1010.8" stroke="#000" stroke-width="1.7"/>
<text x="80.2" y="1019.3" font-size="23" text-anchor="end">−5.0</text>
<line x1="150.68" y1="1040.3" x2="150.68" y2="1047.8" stroke="#000" stroke-width="1.7"/>
<text x="150.68" y="1070.3" font-size="23" text-anchor="middle">−4</text>
<line x1="208.94" y1="1040.3" x2="208.94" y2="1047.8" stroke="#000" stroke-width="1.7"/>
<text x="208.94" y="1070.3" font-size="23" text-anchor="middle">−2</text>
<line x1="267.2" y1="1040.3" x2="267.2" y2="1047.8" stroke="#000" stroke-width="1.7"/>
<text x="267.2" y="1070.3" font-size="23" text-anchor="middle">0</text>
<line x1="325.46" y1="1040.3" x2="325.46" y2="1047.8" stroke="#000" stroke-width="1.7"/>
<text x="325.46" y="1070.3" font-size="23" text-anchor="middle">2</text>
<line x1="383.72" y1="1040.3" x2="383.72" y2="1047.8" stroke="#000" stroke-width="1.7"/>
<text x="383.72" y="1070.3" font-size="23" text-anchor="middle">4</text>
<line x1="464.68" y1="1040.3" x2="464.68" y2="1047.8" stroke="#000" stroke-width="1.7"/>
<text x="464.68" y="1070.3" font-size="23" text-anchor="middle">−4</text>
<line x1="522.94" y1="1040.3" x2="522.94" y2="1047.8" stroke="#000" stroke-width="1.7"/>
<text x="522.94" y="1070.3" font-size="23" text-anchor="middle">−2</text>
<line x1="581.2" y1="1040.3" x2="581.2" y2="1047.8" stroke="#000" stroke-width="1.7"/>
<text x="581.2" y="1070.3" font-size="23" text-anchor="middle">0</text>
<line x1="639.46" y1="1040.3" x2="639.46" y2="1047.8" stroke="#000" stroke-width="1.7"/>
<text x="639.46" y="1070.3" font-size="23" text-anchor="middle">2</text>
<line x1="697.72" y1="1040.3" x2="697.72" y2="1047.8" stroke="#000" stroke-width="1.7"/>
<text x="697.72" y="1070.3" font-size="23" text-anchor="middle">4</text>
<text x="399" y="1102.6" font-size="26.4" text-anchor="middle">UMAP_1</text>
<text font-size="26.4" text-anchor="middle" transform="translate(21 833.5) rotate(-90)">UMAP_2</text>
<text x="242.8" y="615.8" font-size="23.2" text-anchor="middle" font-weight="bold">Intergenic</text>
<text x="557" y="615.8" font-size="23.2" text-anchor="middle" font-weight="bold">Snx9_KO</text>
<path d="M232.8 743.2h.01M243.5 762.6h.01M270.3 781.4h.01M248.4 756.3h.01M243.0 827.4h.01M240.6 726.1h.01M195.1 732.6h.01M267.2 788.1h.01M228.5 724.4h.01M174.0 742.9h.01M214.4 824.3h.01M237.3 767.8h.01M245.7 745.8h.01M298.4 709.3h.01M218.4 741.7h.01M198.2 724.1h.01M264.1 703.7h.01M288.3 750.5h.01M220.8 774.9h.01M256.1 761.4h.01M268.0 756.1h.01M283.1 725.5h.01M270.6 738.3h.01M247.9 668.0h.01M251.2 733.4h.01M252.7 705.2h.01M256.7 746.6h.01M298.4 755.5h.01M227.1 722.9h.01M192.0 750.7h.01M259.2 795.2h.01M264.0 774.8h.01M288.4 731.3h.01M281.2 762.5h.01M233.5 765.9h.01M208.2 732.2h.01M225.6 778.0h.01M297.2 702.8h.01M235.9 716.5h.01M264.9 749.0h.01M198.9 708.0h.01M262.4 799.2h.01M187.1 746.5h.01M229.0 743.0h.01M247.2 792.7h.01M252.3 663.1h.01M200.3 738.9h.01M210.3 729.6h.01M230.3 800.4h.01M242.9 714.0h.01M222.1 717.4h.01M215.5 752.6h.01M253.6 759.2h.01M234.1 755.6h.01M238.2 741.0h.01M256.7 703.9h.01M226.8 768.7h.01M210.2 713.6h.01M257.2 719.9h.01M228.0 758.1h.01M216.6 807.1h.01M247.0 786.0h.01M284.4 717.6h.01M279.9 773.1h.01M184.8 737.4h.01M232.0 791.6h.01M251.8 801.1h.01M302.4 760.5h.01M217.1 717.7h.01M280.9 694.6h.01M253.1 804.0h.01M253.9 665.7h.01M249.4 827.1h.01M262.2 798.6h.01M258.2 728.7h.01M215.9 755.1h.01M232.7 745.1h.01M293.2 719.4h.01M290.9 749.7h.01M208.8 696.3h.01M202.2 706.6h.01M258.7 783.9h.01M196.9 772.1h.01M186.7 754.0h.01M193.1 733.0h.01M209.3 733.2h.01M213.7 772.8h.01M251.5 761.7h.01M259.8 687.3h.01M242.3 751.7h.01M207.6 780.4h.01M259.2 658.7h.01M237.3 762.8h.01M229.8 682.1h.01M246.1 732.2h.01M199.8 756.2h.01M260.4 797.7h.01M270.5 691.9h.01M282.3 712.3h.01M231.8 738.6h.01M226.5 746.9h.01M236.6 805.3h.01M247.3 667.5h.01M293.5 707.1h.01M195.4 710.9h.01M215.6 766.3h.01M286.0 713.3h.01M244.4 762.7h.01M186.3 747.3h.01M233.0 790.1h.01M223.4 818.2h.01M255.1 701.8h.01M266.0 729.8h.01M184.3 812.0h.01M245.6 727.1h.01M259.9 713.2h.01M273.6 751.8h.01M254.7 796.5h.01M187.9 745.5h.01M221.4 796.3h.01M247.0 734.9h.01M259.2 788.2h.01M235.4 775.6h.01M212.1 699.9h.01M195.0 723.7h.01M226.3 832.8h.01M196.0 739.9h.01M261.6 752.4h.01M204.4 731.5h.01M209.9 753.2h.01M211.6 709.1h.01M208.9 787.6h.01M276.3 721.1h.01M232.6 774.4h.01M248.7 779.3h.01M242.6 803.8h.01M283.4 774.4h.01M265.8 748.3h.01M222.5 758.7h.01M244.6 759.8h.01M283.2 789.6h.01M284.0 740.1h.01M257.0 794.4h.01M236.0 781.8h.01M278.4 721.8h.01M257.2 731.5h.01M235.0 769.7h.01M279.0 753.4h.01M186.1 746.0h.01M259.8 764.7h.01M268.7 798.0h.01M266.2 767.7h.01M190.4 750.2h.01M219.3 669.2h.01M209.9 734.1h.01M185.3 729.6h.01M216.9 674.8h.01M298.7 702.9h.01M209.6 770.8h.01M291.9 728.7h.01M203.0 769.2h.01M237.4 742.0h.01M293.9 690.7h.01M247.5 723.4h.01M243.3 760.2h.01M233.5 839.2h.01M285.3 800.7h.01M288.3 751.9h.01M276.0 759.6h.01M189.6 739.5h.01M242.7 776.3h.01M266.6 794.9h.01M257.0 731.3h.01M239.1 783.1h.01M242.5 739.4h.01M270.4 744.4h.01M240.8 706.0h.01M244.6 816.9h.01M274.0 759.0h.01M266.4 740.8h.01M283.6 766.1h.01M244.8 698.4h.01M233.2 754.7h.01M245.9 664.2h.01M286.5 697.9h.01M236.9 661.0h.01M298.6 755.0h.01M232.8 765.4h.01M296.8 676.7h.01M295.0 747.6h.01M244.6 821.9h.01M233.1 803.7h.01M236.7 781.5h.01M214.3 814.0h.01M239.8 724.5h.01M211.2 781.8h.01M203.2 768.5h.01M214.1 805.8h.01M264.9 761.5h.01M249.4 703.9h.01M247.3 782.5h.01M207.8 803.5h.01M242.1 718.4h.01M210.5 677.4h.01M221.7 719.1h.01M259.0 776.9h.01M196.1 733.9h.01M256.6 754.4h.01M238.7 742.0h.01M208.1 726.0h.01M229.5 817.0h.01M295.5 766.4h.01M252.5 777.4h.01M236.4 734.0h.01M249.3 727.4h.01M282.2 778.9h.01M263.1 716.8h.01M226.8 762.6h.01M237.5 755.8h.01M237.5 682.6h.01M304.6 729.6h.01M206.5 693.6h.01M250.3 663.0h.01M272.5 714.1h.01M245.8 664.9h.01M289.7 752.5h.01M234.7 705.4h.01M273.4 762.4h.01M246.5 769.9h.01M246.7 688.6h.01M266.0 770.8h.01M230.1 735.3h.01M203.4 760.1h.01M206.6 780.5h.01M224.5 795.6h.01M269.5 694.6h.01M234.9 827.4h.01M246.6 756.1h.01M257.2 672.9h.01M240.8 701.8h.01M192.6 734.4h.01M229.1 816.0h.01M254.9 743.8h.01M249.9 821.8h.01M292.6 733.5h.01M259.6 682.3h.01M236.7 776.4h.01M250.0 707.2h.01M246.9 741.5h.01M263.2 751.5h.01M287.7 757.3h.01M260.3 692.0h.01M201.9 773.1h.01M168.2 743.1h.01M272.6 717.6h.01M295.4 704.7h.01M238.4 673.3h.01M286.7 756.1h.01M225.9 742.2h.01M240.3 701.6h.01M256.2 715.7h.01M283.0 778.7h.01M246.4 699.7h.01M258.0 737.0h.01M363.1 796.4h.01M253.6 751.9h.01M220.0 673.4h.01M227.9 721.6h.01M288.6 731.0h.01M249.9 740.3h.01M290.8 762.7h.01M242.2 699.6h.01M275.7 703.7h.01M264.4 782.3h.01M216.6 819.5h.01M278.7 712.4h.01M267.4 663.9h.01M264.1 781.5h.01M231.0 771.8h.01M283.9 686.9h.01M216.9 777.0h.01M253.6 687.8h.01M283.1 790.3h.01M261.2 726.9h.01M219.9 720.3h.01M226.5 664.4h.01M263.5 792.5h.01M209.3 755.4h.01M243.9 794.0h.01M222.7 715.3h.01M295.0 723.3h.01M234.6 774.1h.01M199.5 738.7h.01M277.7 715.5h.01M225.8 787.5h.01M269.0 754.4h.01M252.6 746.3h.01M239.6 771.1h.01M259.2 747.4h.01M239.5 813.1h.01M238.8 658.6h.01M203.3 751.9h.01M264.3 755.7h.01M232.3 711.3h.01M257.8 701.7h.01M223.3 679.8h.01M213.2 817.8h.01M241.7 758.6h.01M251.1 686.1h.01M296.8 742.8h.01M229.9 769.2h.01M280.6 754.5h.01M280.8 774.0h.01M197.9 722.5h.01M205.5 771.7h.01M264.8 681.3h.01M252.0 736.2h.01M275.5 717.4h.01M231.0 771.4h.01M242.6 745.4h.01M257.8 751.0h.01M275.8 793.4h.01M199.2 741.3h.01M256.5 809.8h.01M221.9 771.8h.01M239.4 734.4h.01M281.4 754.6h.01M281.9 771.9h.01M304.4 752.9h.01M192.5 756.0h.01M217.9 722.4h.01M245.3 700.2h.01M249.6 712.2h.01M228.2 706.8h.01M255.5 753.7h.01M312.0 738.6h.01M230.4 820.7h.01M211.4 745.8h.01M279.3 706.1h.01M329.3 891.4h.01M292.2 765.7h.01M263.4 706.7h.01M214.8 754.0h.01M220.3 784.2h.01M257.1 658.4h.01M210.0 746.4h.01M254.8 758.9h.01M298.7 723.0h.01M244.7 733.8h.01M259.2 812.1h.01M239.2 801.0h.01M245.9 695.7h.01M277.2 794.0h.01M245.4 727.3h.01M182.9 748.1h.01M249.7 797.3h.01M283.3 757.9h.01M210.2 750.0h.01M239.3 687.8h.01M208.6 715.8h.01M187.8 758.7h.01M242.1 712.6h.01M261.7 773.5h.01M203.9 791.7h.01M240.4 797.4h.01M228.5 823.4h.01M214.7 791.9h.01M227.4 736.3h.01M208.4 757.2h.01M231.8 768.0h.01M240.2 743.0h.01M244.9 755.3h.01M258.0 691.2h.01M227.5 678.9h.01M263.9 730.8h.01M193.2 766.0h.01M256.1 697.0h.01M228.7 803.6h.01M230.8 708.2h.01M253.4 669.3h.01M237.2 815.2h.01M246.7 704.8h.01M216.7 713.8h.01M268.5 675.8h.01M289.9 714.3h.01M246.9 769.7h.01M298.9 761.4h.01M257.6 689.4h.01M251.9 733.7h.01M277.5 742.3h.01M312.5 721.0h.01M255.2 788.0h.01M224.2 747.5h.01M205.6 793.2h.01M257.4 801.4h.01M281.7 703.0h.01" stroke="#F8766D" stroke-width="3.7" stroke-linecap="round" fill="none"/>
<path d="M321.9 919.3h.01M255.0 839.3h.01M276.1 842.0h.01M258.1 854.5h.01M316.3 889.4h.01M236.7 870.9h.01M301.5 814.4h.01M208.1 936.8h.01M303.7 889.7h.01M297.9 829.9h.01M300.4 921.0h.01M276.8 824.3h.01M304.8 814.7h.01M299.6 899.8h.01M282.3 848.0h.01M292.4 855.5h.01M281.6 952.5h.01M245.5 870.5h.01M269.8 931.5h.01M258.6 914.9h.01M324.6 887.7h.01M265.3 912.4h.01M282.7 862.1h.01M263.5 827.4h.01M291.6 896.1h.01M261.1 814.4h.01M324.6 897.9h.01M222.5 869.5h.01M300.6 849.6h.01M316.4 915.9h.01M301.3 823.1h.01M292.2 887.4h.01M304.8 848.6h.01M289.3 846.5h.01M237.5 869.0h.01M254.8 954.7h.01M284.7 921.4h.01M285.0 807.0h.01M254.9 877.0h.01M295.0 899.1h.01M241.9 880.2h.01M285.4 900.9h.01M266.6 886.4h.01M268.2 887.8h.01M200.8 890.3h.01M300.2 854.1h.01M257.6 882.5h.01M273.9 902.1h.01M316.9 817.1h.01M270.9 814.5h.01M281.4 806.2h.01M319.7 850.8h.01M296.8 962.4h.01M304.2 857.1h.01M270.2 893.2h.01M247.2 925.2h.01M260.8 825.1h.01M280.9 864.3h.01M306.3 876.3h.01M281.6 939.8h.01M320.1 908.9h.01M289.5 954.1h.01M311.2 895.7h.01M296.9 906.5h.01M326.5 860.3h.01M255.9 940.3h.01M287.7 901.0h.01M289.0 926.4h.01M294.2 845.3h.01M263.0 885.7h.01M237.3 913.2h.01M299.1 891.4h.01M277.4 804.1h.01M258.2 849.6h.01M314.0 878.5h.01M240.7 903.7h.01M240.7 917.3h.01M278.9 847.4h.01M224.6 883.3h.01M339.0 917.3h.01M316.1 873.5h.01M268.1 804.8h.01M293.4 827.4h.01M271.8 849.9h.01M330.8 901.0h.01M241.2 908.1h.01M261.6 907.4h.01M274.9 885.8h.01M303.7 939.4h.01M267.9 907.3h.01M251.9 886.2h.01M256.2 926.0h.01M300.2 874.0h.01M260.1 929.2h.01M327.6 887.3h.01M295.3 889.6h.01M217.3 896.1h.01M257.7 844.6h.01M236.5 891.9h.01M238.7 851.9h.01M273.6 894.0h.01M299.2 896.1h.01M305.6 883.7h.01M270.5 879.9h.01M261.9 834.4h.01M277.4 859.1h.01M285.9 966.0h.01M290.5 854.8h.01M218.9 929.8h.01M295.4 863.1h.01M216.5 907.7h.01M265.7 861.6h.01M290.4 837.3h.01M197.8 888.5h.01M246.5 833.0h.01M306.0 884.3h.01M277.3 857.5h.01M294.8 879.3h.01M264.3 851.5h.01M310.4 935.9h.01M269.1 830.0h.01M267.0 890.7h.01M305.4 847.3h.01M332.8 932.6h.01M326.8 877.7h.01M275.2 880.6h.01M289.7 873.5h.01M294.5 853.9h.01M316.0 928.4h.01M303.5 904.9h.01M274.2 861.7h.01M271.9 831.9h.01M250.9 926.8h.01M316.2 825.9h.01M293.3 914.4h.01M288.0 847.9h.01M266.9 790.2h.01M322.3 885.2h.01M234.1 928.3h.01M292.5 966.3h.01M326.4 865.2h.01M300.6 834.3h.01M297.9 844.5h.01M311.1 890.6h.01M308.3 824.9h.01M288.1 872.5h.01M297.6 864.3h.01M264.1 934.0h.01M266.4 842.8h.01M302.6 883.7h.01M224.4 922.3h.01M255.6 820.5h.01M289.0 837.6h.01M307.4 848.2h.01M264.1 848.9h.01M314.2 811.0h.01M272.4 870.6h.01M271.9 851.6h.01M226.6 866.5h.01M283.4 887.4h.01M289.1 843.6h.01M312.0 838.5h.01M294.7 881.4h.01M270.5 836.6h.01M276.6 885.8h.01M310.4 819.6h.01M310.0 840.8h.01M315.6 864.7h.01M226.5 899.0h.01M303.5 897.3h.01M255.7 858.5h.01M270.3 845.0h.01M294.2 918.8h.01M248.7 924.3h.01M207.7 929.8h.01M283.9 834.4h.01M286.4 857.4h.01M337.1 915.1h.01M292.2 852.4h.01M315.7 869.4h.01M292.1 891.6h.01M320.6 918.7h.01M310.4 831.7h.01M260.9 823.0h.01M251.6 896.8h.01M305.6 871.2h.01M227.3 933.6h.01M309.4 848.0h.01M301.1 939.1h.01M284.4 922.2h.01M303.4 951.0h.01M277.8 834.8h.01M246.6 927.4h.01M262.1 906.0h.01M303.6 804.8h.01M273.2 839.9h.01M267.9 904.6h.01M266.1 907.5h.01M305.1 864.9h.01M261.8 857.1h.01M247.9 906.0h.01M295.2 868.2h.01M240.6 846.2h.01M283.6 883.5h.01M279.6 825.4h.01M216.2 913.2h.01M246.0 882.8h.01M283.1 797.8h.01M244.7 933.9h.01M300.5 847.0h.01M298.4 796.2h.01M263.9 888.8h.01M299.5 936.6h.01M295.3 872.7h.01M240.0 907.0h.01M251.3 926.0h.01M295.1 848.6h.01M314.1 911.1h.01M277.5 813.3h.01M225.5 887.3h.01M274.1 897.6h.01M298.7 854.7h.01M288.7 857.0h.01M329.6 876.5h.01M249.4 956.2h.01M258.5 867.5h.01M215.0 918.8h.01M267.5 851.8h.01M309.0 928.8h.01M275.4 877.9h.01M252.5 951.5h.01M280.6 846.3h.01M278.4 893.8h.01M285.5 834.5h.01M287.1 881.4h.01M239.8 835.2h.01M213.5 921.0h.01M215.8 860.1h.01M309.6 849.8h.01M295.7 825.1h.01M298.7 903.5h.01M306.5 825.3h.01M316.7 835.2h.01M226.0 940.5h.01M307.0 826.7h.01M295.4 925.0h.01M295.8 862.8h.01M299.3 827.9h.01M246.0 866.4h.01M311.7 841.0h.01M221.4 922.2h.01M258.5 902.2h.01M307.8 812.3h.01M308.1 816.7h.01M284.7 825.5h.01M274.1 958.9h.01M296.1 814.9h.01M251.6 968.3h.01M285.3 880.2h.01M246.4 935.8h.01M283.6 899.4h.01M272.6 828.4h.01M262.5 846.9h.01M274.4 851.1h.01M303.5 872.5h.01M315.5 885.9h.01M317.2 876.9h.01M281.5 836.4h.01M249.1 850.3h.01M279.7 864.7h.01M245.6 883.8h.01M225.5 889.5h.01M275.8 886.9h.01M306.2 918.6h.01M211.2 916.8h.01M276.3 934.4h.01M273.6 939.9h.01M322.9 898.1h.01M295.7 856.8h.01M289.0 859.3h.01M255.6 857.3h.01M321.4 914.3h.01M291.1 783.9h.01M271.3 811.7h.01M296.9 884.6h.01M222.9 880.1h.01M293.2 877.3h.01M209.5 893.8h.01M320.5 900.3h.01M323.0 875.9h.01M296.5 838.1h.01M311.1 825.0h.01M234.5 841.1h.01M240.1 934.1h.01M308.3 835.2h.01M225.6 881.9h.01M305.2 944.7h.01M284.2 854.0h.01M271.3 856.6h.01M298.6 878.3h.01M225.1 944.0h.01M285.1 847.3h.01M211.6 935.9h.01M318.0 861.9h.01M284.5 881.4h.01M263.2 888.0h.01M266.8 806.8h.01M274.4 928.1h.01M289.8 886.2h.01M279.9 877.1h.01M235.1 821.4h.01M288.9 916.2h.01M337.9 898.7h.01M222.7 854.1h.01M317.1 940.8h.01M293.8 857.4h.01M216.3 899.5h.01M244.2 876.1h.01M303.1 845.8h.01M334.9 900.2h.01M221.1 944.4h.01M231.4 907.7h.01M321.4 928.1h.01M269.5 932.5h.01M229.2 910.2h.01M282.2 839.2h.01M257.3 886.0h.01M288.3 856.6h.01M287.4 947.6h.01" stroke="#D39200" stroke-width="3.7" stroke-linecap="round" fill="none"/>
<path d="M366.0 814.0h.01M368.3 782.6h.01M314.4 821.3h.01M337.8 809.7h.01M333.5 821.3h.01M329.9 858.5h.01M334.1 812.1h.01M346.7 816.7h.01M359.0 818.8h.01M356.7 776.0h.01M368.1 792.2h.01M343.2 789.2h.01M355.3 848.7h.01M318.5 776.0h.01M328.1 856.5h.01M233.3 749.0h.01M294.4 882.6h.01M324.9 858.9h.01M366.3 821.0h.01M368.3 796.4h.01M337.4 873.2h.01M356.1 775.8h.01M369.0 801.9h.01M368.3 808.2h.01M314.5 810.6h.01M347.7 827.4h.01M345.1 850.4h.01M329.2 889.4h.01M360.4 773.1h.01M365.0 807.5h.01M342.9 825.1h.01M339.0 843.9h.01M349.2 827.5h.01M355.3 769.6h.01M341.2 868.9h.01M374.0 806.8h.01M344.8 810.9h.01M311.8 772.9h.01M372.1 820.5h.01M266.4 802.2h.01M349.0 799.1h.01M373.7 817.8h.01M361.9 817.4h.01M351.0 785.1h.01M363.7 851.9h.01M328.8 760.2h.01M343.7 773.0h.01M345.7 830.8h.01M352.2 857.1h.01M329.4 869.6h.01M323.3 879.1h.01M333.9 839.5h.01M346.9 797.7h.01M350.3 837.4h.01M378.3 806.1h.01M363.3 832.7h.01M357.1 774.6h.01M360.9 799.5h.01M352.5 772.7h.01M379.0 813.4h.01M375.5 793.1h.01M334.1 764.7h.01M372.2 825.2h.01M356.0 838.7h.01M327.0 857.7h.01M358.3 872.2h.01M358.6 780.0h.01M323.2 817.4h.01M337.3 782.7h.01M343.0 869.5h.01M366.6 784.2h.01M344.6 889.5h.01M357.1 780.4h.01M359.3 796.2h.01M354.7 796.4h.01M341.7 780.3h.01M378.4 836.9h.01M240.2 760.9h.01M361.4 788.1h.01M339.1 847.2h.01M342.7 842.8h.01M365.1 852.5h.01M344.8 801.1h.01M380.0 788.3h.01M335.4 765.6h.01M346.6 871.0h.01M263.8 940.3h.01M352.8 875.3h.01M338.2 838.2h.01M358.7 762.9h.01M346.0 821.4h.01M363.1 801.9h.01M369.7 814.7h.01M342.0 806.6h.01M370.5 864.4h.01M350.5 796.6h.01M357.8 794.6h.01M354.9 818.5h.01M336.0 829.3h.01M336.6 853.2h.01M340.5 779.8h.01M347.8 841.9h.01M323.0 783.0h.01M351.7 770.4h.01M357.1 804.6h.01M380.6 803.1h.01M340.5 761.5h.01M370.0 782.4h.01M349.8 798.8h.01M335.9 766.8h.01M328.0 843.8h.01M329.9 796.1h.01M314.1 787.6h.01M206.2 731.4h.01M335.5 756.5h.01M340.7 883.3h.01M369.9 836.8h.01M347.9 825.5h.01M264.8 760.0h.01M369.9 852.5h.01M368.7 807.7h.01M347.2 805.1h.01M370.7 827.6h.01M355.6 783.3h.01M352.0 824.9h.01M333.8 847.8h.01M363.1 794.1h.01M350.7 871.4h.01M325.3 882.0h.01M324.7 830.0h.01M346.3 840.4h.01M340.1 852.2h.01M375.0 810.4h.01M367.2 843.3h.01M358.4 852.6h.01M320.7 864.6h.01M321.2 770.4h.01M371.0 844.3h.01M371.3 781.7h.01M385.1 807.3h.01M225.8 789.6h.01M366.1 768.7h.01M355.6 878.3h.01M357.5 887.9h.01M365.1 781.5h.01M344.8 771.9h.01M364.7 786.2h.01M377.7 808.2h.01M342.4 796.0h.01M329.6 764.6h.01" stroke="#93AA00" stroke-width="3.7" stroke-linecap="round" fill="none"/>
<path d="M167.8 841.5h.01M160.6 789.3h.01M191.7 799.1h.01M172.7 787.3h.01M175.8 778.2h.01M201.4 828.6h.01M186.5 784.4h.01M170.2 824.4h.01M152.9 851.1h.01M163.6 807.5h.01M258.2 922.2h.01M143.1 844.1h.01M146.5 769.6h.01M177.1 858.1h.01M334.7 770.8h.01M177.1 795.3h.01M189.4 776.1h.01M155.3 846.0h.01M144.8 814.1h.01M183.5 801.1h.01M177.6 798.9h.01M173.9 830.0h.01M177.9 772.8h.01M345.6 760.4h.01M300.1 775.0h.01M147.5 845.9h.01M179.2 834.1h.01M152.0 832.8h.01M156.2 818.7h.01M320.7 741.3h.01M193.4 770.1h.01M193.7 824.6h.01M158.9 845.2h.01M184.1 836.0h.01M287.4 940.5h.01M195.4 788.2h.01M188.1 822.6h.01M164.9 788.6h.01M166.6 830.1h.01M188.0 824.0h.01M159.3 857.1h.01M164.9 810.4h.01M171.5 780.4h.01M176.0 841.8h.01M203.5 795.9h.01M175.4 838.9h.01M168.0 868.9h.01M247.8 745.2h.01M147.7 825.9h.01M207.7 815.3h.01M172.0 800.7h.01M150.5 870.7h.01M176.3 784.9h.01M177.7 782.6h.01M177.6 865.7h.01M320.1 733.0h.01M153.6 864.0h.01M248.7 777.7h.01M206.6 835.1h.01M340.0 734.5h.01M178.5 810.1h.01M164.2 861.0h.01M160.4 829.5h.01M166.8 779.3h.01M193.8 781.5h.01M175.3 798.0h.01M166.0 803.5h.01M176.4 797.3h.01M311.5 785.2h.01M171.9 791.9h.01M136.8 831.5h.01M338.5 757.7h.01M198.3 798.7h.01M311.2 773.0h.01" stroke="#00BA38" stroke-width="3.7" stroke-linecap="round" fill="none"/>
<path d="M332.7 971.0h.01M311.2 975.5h.01M343.8 984.7h.01M320.3 998.1h.01M312.0 996.3h.01M339.7 960.6h.01M312.0 1009.6h.01M352.5 965.6h.01M328.9 1006.5h.01M339.5 1005.4h.01M346.6 981.0h.01M320.8 948.6h.01M333.5 1002.6h.01M319.0 966.3h.01M305.1 991.7h.01M332.2 1002.8h.01M345.7 1000.6h.01M348.7 1003.3h.01M323.4 969.7h.01M291.2 989.0h.01M355.2 996.9h.01M297.8 973.9h.01M306.7 960.4h.01M349.2 975.3h.01M318.1 975.1h.01M339.8 1017.8h.01M329.6 974.5h.01M330.8 989.8h.01M333.5 977.5h.01M317.2 966.0h.01M316.0 1005.1h.01M292.7 984.3h.01M340.2 983.6h.01M354.1 980.2h.01M341.7 985.2h.01M297.4 990.8h.01M356.8 969.2h.01M342.9 1006.1h.01M332.0 968.9h.01M317.7 1001.9h.01M308.6 987.4h.01M327.6 983.1h.01M332.7 955.8h.01M316.2 992.6h.01M317.8 968.1h.01M321.9 959.5h.01M334.0 984.8h.01M290.6 984.7h.01M322.1 983.7h.01M310.3 982.4h.01M361.4 990.2h.01M336.4 974.6h.01M308.4 993.3h.01M317.1 989.2h.01M331.1 972.0h.01M330.9 1010.4h.01M347.4 986.4h.01M320.3 992.7h.01M344.9 1007.8h.01M348.2 981.8h.01M327.4 1009.5h.01M303.8 993.8h.01M321.5 994.9h.01M317.5 992.8h.01M342.6 986.8h.01M335.5 1010.8h.01M318.2 981.9h.01M330.2 977.7h.01M339.6 982.1h.01M343.8 988.6h.01" stroke="#00C19F" stroke-width="3.7" stroke-linecap="round" fill="none"/>
<path d="M224.2 667.9h.01M238.2 772.3h.01M230.4 675.2h.01M163.6 722.2h.01M222.1 671.7h.01M224.7 673.7h.01M175.3 699.0h.01M201.9 665.3h.01M198.3 786.4h.01M369.5 765.3h.01M220.0 673.9h.01M162.7 758.1h.01M201.2 677.6h.01M213.0 672.4h.01M199.1 684.0h.01M243.3 654.0h.01M206.7 676.3h.01M208.0 672.1h.01M194.8 681.1h.01M369.7 768.8h.01M186.8 669.8h.01M207.2 661.9h.01M227.4 728.7h.01M174.7 709.7h.01M181.0 696.0h.01M216.2 929.1h.01M222.1 656.5h.01M374.5 771.6h.01M350.3 724.9h.01M225.3 652.2h.01M185.8 698.2h.01M199.9 678.7h.01M185.5 672.4h.01M288.7 857.6h.01M206.9 655.1h.01M219.6 671.6h.01M232.2 665.0h.01M217.0 671.0h.01M183.9 675.7h.01M362.3 745.1h.01M191.9 688.1h.01M220.4 667.0h.01M164.8 760.7h.01M195.5 671.6h.01M222.5 669.7h.01M203.1 673.0h.01M162.6 735.6h.01M208.7 689.0h.01M198.0 649.8h.01M219.1 931.0h.01M354.1 736.5h.01M219.4 625.7h.01M224.6 654.6h.01M343.5 714.8h.01M192.3 661.2h.01M220.2 933.3h.01M162.2 743.5h.01M187.2 684.6h.01M219.8 660.1h.01M217.0 682.0h.01M204.8 656.2h.01M208.8 681.5h.01M191.8 663.9h.01M221.6 943.0h.01M192.7 676.3h.01M209.0 665.9h.01M197.3 675.8h.01M204.4 674.2h.01M207.5 661.5h.01M197.3 667.9h.01M228.7 663.9h.01M204.8 661.7h.01M193.0 663.2h.01M194.6 674.8h.01M182.8 686.7h.01M183.5 670.2h.01M194.0 684.6h.01M188.9 687.6h.01" stroke="#00B9E3" stroke-width="3.7" stroke-linecap="round" fill="none"/>
<path d="M356.1 814.8h.01M340.2 683.5h.01M219.0 870.0h.01M330.3 688.2h.01M292.5 794.2h.01M305.6 696.7h.01M207.3 856.5h.01M321.9 695.6h.01M295.5 797.2h.01M219.7 781.2h.01M325.9 687.6h.01M305.5 710.3h.01M277.2 772.8h.01M209.0 881.1h.01M293.7 845.6h.01M319.1 695.1h.01M219.1 748.5h.01M316.4 685.2h.01M248.6 677.7h.01M203.3 885.3h.01M325.1 674.9h.01M322.3 688.0h.01M229.7 846.5h.01M312.7 705.5h.01M312.8 688.8h.01M290.5 786.6h.01M213.6 884.1h.01M321.4 897.9h.01M326.9 678.5h.01M211.9 854.0h.01M212.9 857.8h.01M321.6 683.0h.01M307.1 704.4h.01M321.9 699.3h.01M208.2 859.7h.01M332.5 685.5h.01M220.3 706.4h.01M316.2 687.4h.01M330.9 691.8h.01M331.3 705.0h.01M329.4 672.2h.01M317.4 674.3h.01M207.0 882.9h.01" stroke="#619CFF" stroke-width="3.7" stroke-linecap="round" fill="none"/>
<path d="M112.7 778.4h.01M119.5 801.5h.01M115.2 788.8h.01M104.5 788.2h.01M117.0 776.9h.01M122.6 780.2h.01M106.6 779.2h.01M127.6 808.7h.01M117.3 782.5h.01M113.5 795.5h.01M112.3 780.5h.01M105.0 788.5h.01M130.1 799.3h.01M105.9 774.7h.01M119.7 780.8h.01M111.8 789.4h.01M116.4 783.5h.01M109.0 785.6h.01M113.3 789.6h.01" stroke="#DB72FB" stroke-width="3.7" stroke-linecap="round" fill="none"/>
<path d="M229.9 960.3h.01M218.6 964.4h.01M223.7 961.4h.01M218.7 952.3h.01M223.1 952.9h.01" stroke="#FF61C3" stroke-width="3.7" stroke-linecap="round" fill="none"/>
<path d="M251.4 689.7h.01M222.9 775.4h.01M242.8 675.7h.01M318.5 827.2h.01M248.8 695.8h.01M279.1 763.9h.01M235.0 713.3h.01M243.4 669.4h.01M195.4 703.3h.01M215.0 814.9h.01M277.8 702.5h.01M288.1 765.1h.01M173.2 750.8h.01M231.2 716.9h.01M204.0 721.6h.01M279.1 781.5h.01M259.9 757.0h.01M239.9 699.8h.01M238.4 815.9h.01M214.3 763.1h.01M260.1 768.0h.01M219.4 820.3h.01M222.1 799.4h.01M199.3 775.7h.01M285.8 785.5h.01M242.6 762.9h.01M230.1 818.7h.01M230.3 769.7h.01M215.8 748.1h.01M299.6 745.8h.01M238.8 713.9h.01M252.2 794.6h.01M253.8 796.3h.01M266.9 706.5h.01M265.4 762.8h.01M213.1 758.9h.01M227.9 775.3h.01M251.6 700.7h.01M168.5 743.1h.01M245.4 769.0h.01M223.5 724.8h.01M211.9 747.7h.01M238.7 776.8h.01M178.9 741.8h.01M287.9 758.1h.01M247.5 782.1h.01M200.7 763.8h.01M244.1 815.2h.01M225.3 720.0h.01M287.8 869.7h.01M291.0 756.3h.01M295.0 708.5h.01M244.6 795.7h.01M207.6 728.4h.01M274.7 763.8h.01M203.3 750.2h.01M204.1 733.3h.01M204.0 759.0h.01M271.6 769.5h.01M272.8 722.3h.01M206.1 813.3h.01M290.5 747.5h.01M260.7 716.2h.01M231.1 832.0h.01M307.1 741.6h.01M225.4 670.9h.01M209.3 735.6h.01M182.6 730.0h.01M180.2 755.0h.01M231.5 800.3h.01M253.3 675.4h.01M187.3 713.8h.01M214.5 724.0h.01M300.7 723.4h.01M255.3 668.2h.01M249.3 761.0h.01M237.6 732.8h.01M255.8 786.8h.01M205.4 688.8h.01M205.7 743.8h.01M249.7 793.0h.01M265.1 770.1h.01M205.5 737.3h.01M198.5 741.2h.01M305.2 747.4h.01M225.7 741.7h.01M267.4 770.5h.01M221.5 784.4h.01M262.7 735.4h.01M243.5 778.0h.01M258.8 718.8h.01M284.5 740.2h.01M367.1 767.7h.01M268.2 778.9h.01M214.0 693.5h.01M223.3 694.5h.01M256.0 738.7h.01M243.6 771.1h.01M219.9 717.5h.01M257.8 744.5h.01M277.6 737.5h.01M256.4 668.4h.01M253.1 680.7h.01M282.4 707.4h.01M275.1 697.3h.01M295.2 753.2h.01M235.7 753.0h.01M292.6 688.8h.01M212.6 744.8h.01M251.6 700.0h.01M261.0 712.1h.01M229.2 676.7h.01M262.8 741.3h.01M218.0 756.9h.01M224.5 707.4h.01M254.4 712.1h.01M238.7 739.9h.01M219.2 832.4h.01M261.6 755.2h.01M228.8 821.0h.01M214.8 685.0h.01M275.2 721.9h.01M280.3 680.7h.01M248.7 716.0h.01M215.8 802.4h.01M233.9 745.0h.01M200.1 686.5h.01M250.3 781.5h.01M219.1 715.1h.01M275.7 742.6h.01M261.4 777.1h.01M219.1 808.8h.01M266.6 805.1h.01M269.4 741.9h.01M207.2 743.4h.01M257.0 759.4h.01M308.5 735.2h.01M273.8 680.3h.01M224.2 730.8h.01M250.8 785.8h.01M192.1 746.6h.01M218.4 752.2h.01M259.1 796.7h.01M256.3 769.2h.01M234.9 683.4h.01M223.6 733.1h.01M298.8 734.6h.01M270.2 769.9h.01M308.0 698.7h.01M253.8 798.4h.01M286.6 700.3h.01M289.5 728.1h.01M224.3 700.8h.01M233.0 740.2h.01M215.1 791.8h.01M255.4 686.5h.01M272.2 794.8h.01M204.5 732.6h.01M287.4 711.8h.01M291.4 752.0h.01M241.0 740.5h.01M302.2 760.6h.01M225.7 802.1h.01M243.6 683.8h.01M197.0 700.5h.01M272.7 675.0h.01M273.9 738.0h.01M292.9 773.0h.01M209.3 761.9h.01M212.1 688.1h.01M271.0 727.2h.01M196.7 760.2h.01M227.7 780.4h.01M243.8 761.4h.01M231.3 783.3h.01M237.0 809.7h.01M298.9 759.9h.01M270.6 792.0h.01M221.7 822.5h.01M197.7 744.7h.01M241.6 727.3h.01M253.3 709.7h.01M241.8 659.2h.01M299.9 906.3h.01M267.0 743.8h.01M252.2 687.5h.01M193.1 754.7h.01M237.1 706.2h.01M225.4 733.9h.01M230.2 773.1h.01M217.1 753.0h.01M196.8 717.7h.01M222.1 786.5h.01M198.2 830.4h.01M238.0 772.2h.01M218.6 759.5h.01M284.2 771.3h.01M241.4 784.6h.01M243.5 786.7h.01M228.1 677.7h.01M230.3 766.0h.01M263.5 704.8h.01M257.9 815.9h.01M253.0 713.9h.01M231.7 747.8h.01M282.0 769.0h.01M280.1 779.5h.01M225.3 748.3h.01M261.2 739.9h.01M193.2 727.7h.01M233.3 705.8h.01M223.1 770.8h.01M211.5 791.7h.01M199.9 755.6h.01M214.9 801.4h.01M269.6 728.0h.01M292.4 751.9h.01M223.6 721.0h.01M284.6 696.1h.01M209.7 766.1h.01M256.0 816.2h.01M243.4 750.2h.01M236.3 766.1h.01M222.5 821.9h.01M276.6 761.4h.01M218.6 716.7h.01M272.0 753.3h.01M235.5 670.2h.01M263.7 739.9h.01M187.5 741.3h.01M249.3 745.7h.01M179.9 738.9h.01M276.9 717.7h.01M234.3 712.3h.01M251.0 669.2h.01M281.7 766.7h.01M232.2 812.2h.01M256.1 731.6h.01M239.9 807.7h.01M214.9 774.4h.01M244.5 820.2h.01M238.1 765.2h.01M259.0 684.7h.01M216.7 689.7h.01M236.6 799.3h.01M204.7 718.9h.01M264.9 688.9h.01M284.1 690.8h.01M233.0 766.7h.01M237.9 701.5h.01M192.5 751.8h.01M233.8 739.6h.01M240.0 811.1h.01M233.9 822.8h.01M212.1 707.1h.01M301.3 699.7h.01M214.8 764.0h.01M280.4 739.3h.01M228.3 731.1h.01M259.2 669.3h.01M269.2 762.0h.01M248.3 821.7h.01M233.8 784.4h.01M197.7 729.5h.01M192.7 720.5h.01M207.6 702.0h.01M216.5 779.4h.01M256.0 664.7h.01M226.3 743.6h.01M281.8 792.6h.01M228.8 777.0h.01M228.6 740.3h.01M187.1 757.2h.01M223.1 718.3h.01M217.9 748.4h.01M255.7 702.8h.01M219.4 789.3h.01M293.1 711.5h.01M262.2 736.3h.01M282.5 757.3h.01M219.9 787.4h.01M268.2 744.0h.01M221.5 713.1h.01M241.9 732.2h.01M175.1 738.4h.01M242.5 759.5h.01M265.1 674.2h.01M223.5 673.2h.01M224.1 744.7h.01M245.7 809.3h.01M228.5 777.3h.01M241.7 795.2h.01M235.4 748.7h.01M226.3 687.1h.01M226.5 776.0h.01M241.5 760.9h.01M273.9 699.5h.01M256.0 662.0h.01M232.4 715.4h.01M220.4 735.0h.01M315.8 876.8h.01M280.6 729.5h.01M224.8 690.9h.01M237.7 726.6h.01M235.1 760.2h.01M281.4 771.1h.01M283.7 750.6h.01M231.1 717.8h.01M231.3 704.5h.01M207.4 717.9h.01M212.1 784.8h.01M251.6 750.5h.01M218.0 794.8h.01M263.7 782.5h.01M242.7 762.0h.01M238.3 674.7h.01M245.1 796.6h.01M237.5 734.1h.01M266.6 747.0h.01M313.0 751.5h.01M186.9 746.8h.01M253.1 744.0h.01M214.3 760.5h.01M266.2 710.9h.01M229.7 773.7h.01M181.8 760.2h.01M243.3 749.0h.01M279.2 735.8h.01M273.1 759.6h.01M281.6 883.4h.01M216.4 760.3h.01M283.8 783.3h.01M220.0 726.6h.01M232.7 811.6h.01M202.6 704.3h.01M264.3 816.7h.01M222.7 719.0h.01M287.8 734.0h.01M211.6 775.9h.01M221.4 705.0h.01M238.7 779.5h.01M240.4 771.6h.01M247.0 768.0h.01M244.2 821.2h.01M229.1 928.6h.01M219.5 740.1h.01M222.1 802.2h.01M204.7 753.2h.01M222.7 709.3h.01M246.8 764.0h.01M307.4 745.9h.01M220.5 773.2h.01M194.0 768.1h.01M254.4 750.2h.01M252.5 808.4h.01M224.0 755.3h.01M210.3 776.0h.01M283.4 733.2h.01M281.1 768.5h.01M215.5 786.7h.01M274.5 670.9h.01M214.7 717.2h.01M277.2 725.6h.01M270.9 733.5h.01M266.7 773.6h.01M249.9 723.4h.01M215.1 772.7h.01" stroke="#F8766D" stroke-width="3.7" stroke-linecap="round" fill="none"/>
<path d="M246.4 866.9h.01M293.9 884.3h.01M286.4 952.8h.01M284.9 837.7h.01M291.5 858.6h.01M315.7 919.2h.01M259.6 845.2h.01M240.8 868.4h.01M299.3 820.6h.01M261.4 848.8h.01M281.7 864.2h.01M254.3 934.9h.01M322.6 884.4h.01M271.6 873.9h.01M268.2 909.4h.01M307.9 861.6h.01M243.6 889.1h.01M261.6 895.9h.01M292.0 889.6h.01M290.8 858.3h.01M274.6 855.2h.01M322.5 911.8h.01M318.8 861.9h.01M286.3 834.4h.01M277.0 832.9h.01M300.3 892.2h.01M262.3 826.6h.01M218.4 903.6h.01M308.8 865.5h.01M247.0 963.6h.01M321.7 879.8h.01M280.4 846.8h.01M317.2 902.0h.01M216.1 931.8h.01M290.0 827.1h.01M269.6 903.4h.01M255.6 928.1h.01M307.9 864.3h.01M293.6 811.1h.01M271.1 946.1h.01M278.8 805.4h.01M246.5 930.3h.01M301.9 939.3h.01M313.1 862.1h.01M293.3 911.1h.01M286.6 819.7h.01M287.7 868.1h.01M264.5 934.1h.01M233.2 940.8h.01M275.1 870.3h.01M262.0 854.4h.01M309.8 872.5h.01M214.3 924.9h.01M297.2 879.1h.01M308.1 844.8h.01M304.1 836.5h.01M297.2 815.4h.01M286.5 857.4h.01M257.8 911.7h.01M271.1 818.4h.01M300.9 943.8h.01M292.9 853.8h.01M316.5 865.0h.01M238.7 865.1h.01M321.5 889.0h.01M270.3 858.5h.01M280.9 876.5h.01M312.9 898.1h.01M299.2 822.8h.01M273.6 856.1h.01M250.6 908.0h.01M318.5 842.8h.01M249.1 825.2h.01M295.2 879.5h.01M276.5 828.2h.01M264.3 950.7h.01M250.0 894.2h.01M284.7 846.3h.01M229.3 885.1h.01M277.1 861.5h.01M157.5 833.6h.01M311.7 826.5h.01M293.1 869.3h.01M287.2 834.9h.01M207.3 884.0h.01M260.7 831.9h.01M244.7 916.1h.01M269.8 877.8h.01M249.5 865.8h.01M277.6 851.5h.01M241.7 879.6h.01M299.1 900.5h.01M244.7 845.7h.01M244.7 834.1h.01M302.1 902.3h.01M305.7 929.1h.01M289.3 859.0h.01M222.4 859.4h.01M315.8 827.6h.01M218.1 871.4h.01M300.1 819.1h.01M280.2 880.3h.01M319.2 942.5h.01M299.0 879.2h.01M263.3 903.2h.01M296.2 882.8h.01M282.7 891.0h.01M315.9 885.6h.01M277.8 924.1h.01M255.1 856.9h.01M284.2 868.5h.01M291.1 923.7h.01M242.2 889.4h.01M230.5 879.7h.01M249.9 923.5h.01M242.0 830.6h.01M294.2 916.3h.01M254.8 836.0h.01M290.6 835.9h.01M293.6 855.9h.01M317.2 862.2h.01M323.4 885.9h.01M250.3 887.0h.01M238.7 842.6h.01M291.7 886.6h.01M223.5 944.8h.01M218.0 913.6h.01M272.5 862.0h.01M286.0 868.1h.01M259.9 855.3h.01M296.5 886.0h.01M318.9 896.4h.01M207.8 881.1h.01M292.2 898.7h.01M313.0 827.7h.01M272.3 847.9h.01M281.2 806.5h.01M326.8 884.7h.01M284.0 867.1h.01M258.9 832.9h.01M286.2 826.7h.01M302.7 900.5h.01M272.4 860.9h.01M236.6 860.8h.01M277.3 912.6h.01M297.2 837.8h.01M286.2 883.0h.01M285.1 826.9h.01M210.2 916.2h.01M283.4 832.1h.01M332.5 912.0h.01M280.8 813.8h.01M260.5 881.6h.01M302.7 936.2h.01M276.1 777.9h.01M295.3 885.6h.01M221.0 856.8h.01M312.9 823.6h.01M254.1 858.6h.01M219.5 878.0h.01M270.3 942.7h.01M268.9 849.5h.01M244.9 874.2h.01M321.0 917.1h.01M301.0 839.4h.01M304.7 835.8h.01M306.3 831.7h.01M341.5 926.5h.01M307.3 903.7h.01M268.9 960.4h.01M306.4 909.5h.01M282.5 826.3h.01M291.0 823.7h.01M300.0 886.9h.01M298.7 882.3h.01M273.3 849.7h.01M284.1 898.2h.01M283.3 919.1h.01M295.7 912.3h.01M229.7 840.7h.01M325.7 871.4h.01M311.2 885.2h.01M286.8 920.8h.01M262.0 924.2h.01M305.6 902.9h.01M301.9 828.9h.01M292.4 892.9h.01M281.4 837.2h.01M264.0 943.8h.01M243.3 886.8h.01M280.7 951.8h.01M308.3 850.0h.01M284.1 839.4h.01M286.7 808.5h.01M297.6 848.4h.01M271.6 873.1h.01M299.1 875.3h.01M286.6 820.3h.01M302.1 889.7h.01M234.4 886.8h.01M290.5 838.6h.01M316.8 860.7h.01M285.2 841.4h.01M294.3 952.9h.01M241.2 836.9h.01M359.1 834.4h.01M302.3 852.4h.01M289.6 866.9h.01M287.0 940.9h.01M287.5 902.1h.01M249.4 967.6h.01M318.7 902.7h.01M280.5 840.4h.01M307.9 902.1h.01M283.3 871.8h.01M280.3 946.7h.01M284.2 943.4h.01M301.9 855.9h.01M310.5 867.4h.01M277.6 847.8h.01M275.5 896.8h.01M269.2 858.5h.01M298.2 949.8h.01M293.2 835.4h.01M276.2 941.4h.01M242.1 827.5h.01M297.7 833.0h.01M220.4 907.7h.01M281.3 811.8h.01M316.3 834.9h.01M279.2 832.8h.01M243.9 914.2h.01M270.9 878.1h.01M310.8 860.6h.01M279.4 837.8h.01M299.3 928.3h.01M308.7 839.9h.01M226.4 874.8h.01M262.6 950.8h.01M251.5 841.4h.01M320.4 877.3h.01M268.7 918.1h.01M325.5 939.2h.01M253.9 876.5h.01M260.9 820.2h.01M300.1 903.7h.01M246.7 866.7h.01M266.1 948.8h.01M289.1 822.0h.01M256.4 917.1h.01M315.7 834.8h.01M275.9 870.7h.01M255.0 844.1h.01M229.2 862.9h.01M291.0 857.7h.01M275.7 833.5h.01M281.1 969.2h.01M242.8 851.8h.01M268.3 869.1h.01M257.9 834.8h.01M270.8 910.1h.01M249.5 892.6h.01M310.3 833.3h.01M285.5 870.7h.01M272.3 856.7h.01M306.8 822.6h.01M289.7 929.1h.01M265.3 860.2h.01M307.6 822.1h.01M316.4 859.7h.01M295.7 845.9h.01M259.1 836.5h.01M267.9 888.0h.01M341.8 922.4h.01M317.1 917.0h.01M303.1 902.9h.01M239.0 930.2h.01M222.5 917.4h.01M249.6 960.7h.01M262.6 814.2h.01M267.2 832.6h.01M311.9 856.0h.01M290.0 857.0h.01M238.7 954.0h.01M221.6 872.4h.01M203.5 888.0h.01M240.0 881.7h.01M297.0 860.6h.01M271.3 915.5h.01M333.5 921.2h.01M299.2 932.2h.01M328.0 878.8h.01M272.1 889.8h.01M242.7 883.0h.01M310.4 891.4h.01M312.2 877.2h.01M289.7 918.0h.01M319.3 866.8h.01M296.6 799.6h.01M220.2 855.5h.01M295.8 853.6h.01M255.6 703.0h.01M285.9 861.5h.01M315.0 817.3h.01M225.4 876.6h.01M247.8 853.7h.01M301.9 885.2h.01M297.6 856.2h.01M257.6 874.2h.01M278.9 827.4h.01M290.6 966.2h.01M273.3 846.3h.01M198.6 884.8h.01M272.8 842.5h.01M258.5 870.0h.01M275.0 807.6h.01M219.2 913.4h.01M311.3 920.9h.01M282.4 833.8h.01M264.8 881.9h.01M298.8 887.0h.01M313.8 873.5h.01M274.1 858.7h.01M308.1 944.0h.01M286.0 847.6h.01M280.4 894.2h.01M269.3 848.2h.01M295.5 953.3h.01M276.1 864.5h.01M261.7 825.4h.01M267.0 825.7h.01M277.4 829.5h.01M282.5 897.6h.01M241.6 924.4h.01M278.6 967.6h.01M307.4 873.4h.01M258.8 841.6h.01" stroke="#D39200" stroke-width="3.7" stroke-linecap="round" fill="none"/>
<path d="M357.7 763.1h.01M374.0 790.1h.01M316.7 821.6h.01M315.7 808.8h.01M324.6 879.2h.01M333.6 876.1h.01M253.0 959.4h.01M350.1 765.0h.01M374.8 802.9h.01M356.4 794.0h.01M375.7 801.1h.01M371.3 800.0h.01M349.9 820.9h.01M323.0 759.1h.01M332.5 786.4h.01M352.2 771.9h.01M316.0 781.6h.01M338.7 794.3h.01M339.0 842.7h.01M316.0 845.5h.01M345.0 808.2h.01M355.8 864.4h.01M332.7 836.8h.01M325.3 852.0h.01M326.8 847.8h.01M348.4 831.8h.01M373.4 807.5h.01M363.6 823.3h.01M346.8 777.1h.01M312.2 799.6h.01M364.2 762.6h.01M322.6 821.7h.01M346.8 889.7h.01M351.7 849.3h.01M359.8 851.9h.01M319.5 813.7h.01M352.3 776.1h.01M322.5 782.8h.01M352.2 870.2h.01M354.0 785.1h.01M326.6 860.3h.01M246.0 828.1h.01M360.6 774.2h.01M340.0 854.5h.01M356.6 805.6h.01M363.9 779.2h.01M347.6 801.5h.01M338.9 785.7h.01M332.2 828.1h.01M335.8 760.3h.01M354.2 868.5h.01M333.4 819.7h.01M316.9 768.4h.01M284.5 861.6h.01M355.8 799.3h.01M356.1 778.7h.01M332.0 868.7h.01M333.8 775.8h.01M351.7 808.6h.01M322.1 805.7h.01M345.3 788.5h.01M321.9 853.3h.01M295.2 693.4h.01M363.9 855.9h.01M355.8 815.6h.01M345.0 877.0h.01M376.4 789.1h.01M350.5 852.3h.01M325.9 800.2h.01M361.2 852.4h.01M319.0 864.6h.01M354.7 769.6h.01M313.4 825.6h.01M378.8 806.9h.01M213.6 746.7h.01M348.9 797.6h.01M358.8 808.2h.01M256.0 828.4h.01M356.8 772.4h.01M346.5 784.8h.01M315.7 844.2h.01M369.5 815.2h.01M350.4 883.4h.01M377.3 785.4h.01M339.7 888.6h.01M341.8 775.1h.01M317.3 832.5h.01M354.6 821.1h.01M327.5 767.4h.01M333.4 811.7h.01M372.9 783.3h.01M343.8 800.3h.01M329.1 790.8h.01M361.1 787.8h.01M329.7 768.8h.01M358.2 829.2h.01M353.1 883.2h.01M372.2 774.1h.01M325.8 849.8h.01M320.4 840.8h.01M377.9 791.8h.01M277.9 755.5h.01M346.0 787.4h.01M340.6 842.9h.01M370.7 790.4h.01M369.8 857.4h.01M329.0 800.8h.01M341.7 763.7h.01M328.0 835.6h.01M350.4 782.3h.01M312.6 786.4h.01M338.6 890.1h.01M334.8 809.4h.01M326.2 839.3h.01M373.7 787.2h.01M325.7 845.7h.01M350.7 841.0h.01M344.2 803.1h.01M357.6 779.1h.01M368.6 808.9h.01M358.9 863.9h.01M374.2 835.4h.01M332.9 831.4h.01M321.9 758.7h.01M350.7 809.7h.01M352.7 786.2h.01M327.3 783.1h.01M338.3 857.0h.01M329.5 780.1h.01M351.6 871.3h.01M372.7 835.9h.01M375.1 818.9h.01M344.2 860.4h.01M350.2 779.9h.01M338.2 867.6h.01M342.1 771.1h.01M370.2 827.6h.01M369.1 819.8h.01M326.6 829.4h.01M347.2 875.2h.01M313.6 849.1h.01M348.8 893.0h.01M317.0 790.6h.01M318.3 822.3h.01M356.3 847.8h.01M367.7 851.2h.01M315.2 822.2h.01M363.2 844.3h.01M346.1 891.8h.01" stroke="#93AA00" stroke-width="3.7" stroke-linecap="round" fill="none"/>
<path d="M171.9 786.1h.01M195.0 835.1h.01M176.0 854.0h.01M162.3 814.2h.01M185.1 804.7h.01M158.6 868.6h.01M184.5 786.7h.01M337.1 769.8h.01M175.6 782.6h.01M231.0 732.7h.01M172.4 797.7h.01M325.3 871.1h.01M368.0 813.9h.01M168.2 877.0h.01M171.0 778.8h.01M338.2 750.8h.01M148.0 823.7h.01M190.1 805.3h.01M176.7 805.3h.01M322.8 784.0h.01M192.2 790.8h.01M167.1 843.7h.01M180.2 860.2h.01M184.2 821.5h.01M185.6 772.4h.01M168.2 802.8h.01M172.4 845.1h.01M342.1 753.0h.01M176.7 770.1h.01M182.8 797.0h.01M170.6 789.7h.01M311.5 757.7h.01M319.4 733.3h.01M190.4 779.3h.01M191.0 794.0h.01M176.2 782.8h.01M166.8 784.1h.01M172.6 814.8h.01M209.2 814.5h.01M205.5 830.2h.01M193.1 813.7h.01M321.3 772.0h.01M306.4 776.7h.01M157.8 810.0h.01M190.2 764.0h.01M168.9 834.5h.01M242.6 849.4h.01M178.1 810.4h.01M161.0 779.6h.01M183.1 812.4h.01M183.6 803.3h.01M310.0 783.7h.01M155.6 814.0h.01M150.1 828.9h.01M186.0 819.0h.01M332.9 733.6h.01M173.6 794.1h.01M146.3 845.8h.01M164.4 797.1h.01M175.1 815.9h.01M173.7 845.0h.01M173.2 840.4h.01M318.3 743.1h.01M164.5 781.0h.01M178.9 772.2h.01M170.0 846.9h.01M173.2 827.9h.01M343.4 811.0h.01" stroke="#00BA38" stroke-width="3.7" stroke-linecap="round" fill="none"/>
<path d="M296.0 987.5h.01M322.1 998.9h.01M351.9 969.4h.01M284.4 983.0h.01M333.5 964.6h.01M336.7 969.2h.01M348.7 968.4h.01M327.2 979.4h.01M302.0 995.5h.01M323.4 1008.8h.01M341.3 981.3h.01M312.6 998.5h.01M343.6 1003.9h.01M336.9 972.9h.01M343.0 998.2h.01M326.7 997.7h.01M303.6 997.9h.01M316.0 997.9h.01M296.2 973.1h.01M324.6 976.2h.01M300.3 980.6h.01M305.2 1001.9h.01M309.2 994.4h.01M301.0 995.7h.01M342.5 974.4h.01M283.7 983.0h.01M344.6 977.6h.01M343.1 977.2h.01M316.8 955.5h.01M338.0 985.8h.01M350.1 985.4h.01M350.6 980.1h.01M332.5 960.0h.01M315.3 993.9h.01M294.4 987.4h.01M349.3 972.3h.01M331.1 998.6h.01M337.7 993.2h.01M346.8 997.8h.01M330.9 970.1h.01M306.1 980.5h.01M339.4 959.6h.01M329.1 1004.5h.01M305.1 987.0h.01M342.1 985.5h.01M336.7 967.5h.01M324.2 987.2h.01M306.0 972.5h.01M341.2 969.9h.01M342.2 995.8h.01M350.0 984.0h.01M328.1 983.8h.01M329.6 970.5h.01M311.8 988.7h.01M345.1 968.7h.01M342.1 1000.9h.01M340.7 967.4h.01M316.3 982.1h.01M324.2 993.5h.01M352.2 982.0h.01M333.3 993.1h.01M352.6 988.5h.01M338.8 1018.1h.01M335.5 960.7h.01M303.6 977.3h.01M317.7 979.6h.01M350.6 971.8h.01M318.3 979.9h.01M337.8 960.7h.01M332.9 979.5h.01M319.9 978.1h.01M310.8 963.3h.01M324.7 1018.4h.01M353.2 995.7h.01M335.4 980.1h.01M338.9 1022.8h.01M354.9 1002.5h.01M336.5 996.5h.01M349.1 1007.2h.01" stroke="#00C19F" stroke-width="3.7" stroke-linecap="round" fill="none"/>
<path d="M358.3 736.4h.01M242.7 667.8h.01M187.6 664.8h.01M219.0 652.5h.01M193.9 666.0h.01M169.1 699.6h.01M185.1 673.8h.01M189.1 704.0h.01M200.4 674.8h.01M211.4 684.5h.01M216.1 656.0h.01M192.6 673.6h.01M214.7 644.1h.01M202.8 647.9h.01M179.0 707.4h.01M205.8 656.3h.01M222.3 666.2h.01M184.0 694.8h.01M183.3 680.3h.01M193.8 660.0h.01M217.1 661.9h.01M259.8 892.7h.01M232.6 847.1h.01M350.8 711.3h.01M172.9 689.8h.01M204.2 680.4h.01M186.1 689.1h.01M196.4 663.6h.01M346.3 723.2h.01M242.3 666.6h.01M344.8 728.9h.01M194.9 687.1h.01M172.9 742.8h.01M218.4 686.2h.01M215.3 664.1h.01M221.8 936.6h.01M166.1 758.9h.01M279.5 770.3h.01M343.9 885.5h.01M221.5 654.6h.01M202.4 683.2h.01M215.6 670.4h.01M175.2 679.9h.01M358.8 719.7h.01M361.8 719.0h.01M348.7 733.2h.01M219.4 933.1h.01M219.9 936.1h.01M357.7 735.1h.01M206.7 661.0h.01M213.9 929.7h.01M199.4 670.6h.01M177.4 720.1h.01M340.4 721.3h.01M176.5 693.4h.01M201.2 669.4h.01M191.4 674.0h.01M226.2 675.0h.01M227.7 773.4h.01M211.0 677.1h.01M366.4 758.5h.01M186.0 684.1h.01M201.9 686.0h.01M240.4 663.3h.01M175.5 706.1h.01M223.5 671.3h.01M214.0 681.9h.01M214.5 671.9h.01M193.4 675.3h.01M192.6 671.1h.01M215.7 657.0h.01M209.6 685.3h.01M224.1 926.8h.01M225.0 665.3h.01M314.5 829.5h.01M214.9 676.8h.01M205.8 661.1h.01M215.2 675.3h.01M213.3 660.5h.01M360.6 725.3h.01M204.7 673.6h.01M234.7 644.7h.01M207.1 678.4h.01M182.0 661.0h.01M171.2 705.8h.01M363.8 754.9h.01M192.5 662.9h.01M169.5 711.8h.01M202.7 669.7h.01M199.3 660.0h.01M214.8 653.0h.01M183.3 679.7h.01M201.6 688.1h.01M199.8 681.3h.01M188.7 694.5h.01M216.4 928.2h.01M232.5 649.1h.01M333.9 762.9h.01M189.1 677.5h.01M243.7 645.5h.01M366.1 740.2h.01M204.6 685.5h.01M205.1 667.5h.01" stroke="#00B9E3" stroke-width="3.7" stroke-linecap="round" fill="none"/>
<path d="M285.7 854.5h.01M263.6 826.1h.01M311.9 695.2h.01M333.6 699.7h.01M192.2 706.5h.01M311.3 700.2h.01M206.8 869.8h.01M333.1 800.3h.01M317.9 669.4h.01M302.9 795.0h.01M205.4 873.6h.01M322.6 679.9h.01M310.4 681.1h.01M324.3 678.5h.01M210.5 870.4h.01M211.0 865.1h.01M322.4 672.0h.01M275.9 784.9h.01M322.1 672.8h.01M311.9 685.0h.01M331.6 700.7h.01M330.3 708.4h.01M321.9 692.5h.01M336.8 682.6h.01M202.5 864.1h.01M268.4 773.0h.01M329.6 686.2h.01M306.4 695.7h.01M327.2 702.5h.01M317.0 695.0h.01M318.3 676.6h.01M319.8 676.4h.01M211.6 886.5h.01M376.3 790.4h.01M332.6 670.8h.01M200.7 883.7h.01M335.3 699.7h.01M204.3 875.4h.01M334.3 681.8h.01M318.8 690.5h.01M226.6 786.4h.01M330.8 677.2h.01M328.4 687.0h.01M332.8 684.8h.01M323.2 686.8h.01M317.8 691.7h.01" stroke="#619CFF" stroke-width="3.7" stroke-linecap="round" fill="none"/>
<path d="M126.5 793.2h.01M107.1 788.1h.01M128.3 803.2h.01M107.0 797.2h.01M111.0 778.2h.01M119.2 807.6h.01M111.5 780.2h.01M122.6 804.9h.01M119.7 786.7h.01M113.0 792.2h.01" stroke="#DB72FB" stroke-width="3.7" stroke-linecap="round" fill="none"/>
<path d="M223.3 957.5h.01M219.1 956.5h.01M225.9 955.7h.01M219.2 961.6h.01" stroke="#FF61C3" stroke-width="3.7" stroke-linecap="round" fill="none"/>
<path d="M263.3 799.4h.01M217.8 809.3h.01M181.0 745.1h.01M213.1 809.6h.01M222.4 744.3h.01M221.4 826.1h.01M286.9 702.4h.01M233.5 685.8h.01M251.2 724.6h.01M240.4 810.3h.01M234.6 743.7h.01M218.7 692.2h.01M271.9 774.9h.01M233.7 773.8h.01M248.6 730.3h.01M247.0 711.3h.01M236.8 666.4h.01M211.9 717.3h.01M250.2 687.8h.01M288.5 729.1h.01M198.8 715.2h.01M213.9 795.5h.01M174.7 748.7h.01M268.7 739.2h.01M233.6 691.2h.01M271.3 704.3h.01M230.0 808.2h.01M248.1 731.7h.01M308.0 742.4h.01M238.2 788.9h.01M296.9 712.0h.01M233.6 782.3h.01M251.8 734.3h.01M241.7 764.7h.01M263.8 801.1h.01M292.3 752.1h.01M288.1 669.6h.01M199.4 727.4h.01M285.8 689.0h.01M275.3 751.5h.01M216.7 709.7h.01M196.0 719.3h.01M170.6 748.8h.01M239.8 791.9h.01M261.5 782.5h.01M267.3 718.4h.01M284.4 731.1h.01M320.5 867.7h.01M248.8 824.0h.01M251.6 722.6h.01M221.2 774.0h.01M234.9 807.3h.01M276.1 787.7h.01M282.0 769.5h.01M266.4 712.7h.01M255.8 827.9h.01M283.6 765.3h.01M232.0 747.4h.01M262.1 752.4h.01M272.2 679.6h.01M261.8 660.0h.01M226.8 747.2h.01M253.7 753.4h.01M252.4 762.0h.01M201.6 692.1h.01M201.6 727.2h.01M310.3 720.1h.01M284.1 689.5h.01M191.5 742.5h.01M271.0 718.4h.01M253.5 776.6h.01M262.2 833.7h.01M213.2 725.4h.01M228.1 736.8h.01M242.1 751.5h.01M218.3 770.7h.01M257.7 759.9h.01M209.0 765.1h.01M289.4 757.6h.01M261.0 721.8h.01M224.9 706.1h.01M240.9 825.3h.01M196.3 773.4h.01M253.4 784.0h.01M226.5 776.2h.01M230.7 767.3h.01M220.7 756.4h.01M247.5 753.4h.01M267.9 762.4h.01M217.8 757.9h.01M257.4 862.6h.01M219.9 724.6h.01M243.7 705.2h.01M271.1 768.9h.01M215.1 791.0h.01M224.1 780.5h.01M243.8 740.2h.01M208.6 682.4h.01M226.0 777.5h.01M187.0 745.3h.01M271.1 783.0h.01M187.7 734.3h.01M260.3 732.8h.01M197.3 741.4h.01M223.3 795.9h.01M268.5 759.2h.01M254.2 790.1h.01M205.6 705.5h.01M235.5 780.1h.01M280.4 789.1h.01M261.1 775.9h.01M274.1 714.5h.01M290.6 695.3h.01M204.5 761.2h.01M225.3 747.6h.01M269.1 683.9h.01M234.5 765.0h.01M278.8 788.1h.01M296.5 696.9h.01M205.2 785.1h.01M243.8 810.8h.01M238.6 689.3h.01M261.1 706.0h.01M227.0 703.2h.01M269.1 784.6h.01M242.5 775.6h.01M237.8 804.5h.01M246.0 749.5h.01M252.1 797.6h.01M267.2 771.8h.01M199.7 738.3h.01M228.1 784.6h.01M281.2 762.5h.01M250.1 769.4h.01M224.1 695.1h.01M278.9 732.9h.01M233.5 728.2h.01M248.1 757.4h.01M282.4 787.0h.01M209.1 745.1h.01M175.5 756.7h.01M186.9 735.8h.01M213.5 776.3h.01M293.4 742.0h.01M267.2 728.5h.01M226.5 751.7h.01M278.3 778.6h.01M278.9 743.5h.01M241.1 765.9h.01M293.6 740.4h.01M254.1 781.9h.01M259.1 767.0h.01M225.2 768.2h.01M212.1 737.1h.01M200.0 737.5h.01M288.0 760.4h.01M222.5 747.8h.01M186.6 733.2h.01M284.0 782.4h.01M206.9 751.2h.01M215.1 776.3h.01M178.1 743.9h.01M237.2 685.8h.01M263.4 784.2h.01M216.1 760.0h.01M261.2 740.6h.01M267.0 777.4h.01M224.5 744.1h.01M284.6 719.3h.01M251.4 718.9h.01M246.4 822.6h.01M270.4 708.9h.01M208.0 775.3h.01M258.3 717.6h.01M261.1 803.9h.01M249.1 779.6h.01M205.5 738.7h.01M292.0 745.5h.01M291.0 767.5h.01M233.0 787.3h.01M241.5 704.7h.01M249.9 716.0h.01M212.7 750.0h.01M265.5 703.9h.01M227.7 729.0h.01M218.9 729.5h.01M202.9 749.9h.01M181.2 803.4h.01M246.0 759.3h.01M208.7 773.4h.01M271.8 791.9h.01M170.6 743.1h.01M245.3 759.5h.01M286.8 776.7h.01M241.4 678.7h.01M235.0 770.8h.01M205.8 762.6h.01M212.8 703.1h.01M254.2 745.6h.01M245.9 769.4h.01M283.9 773.7h.01M222.6 726.3h.01M232.0 750.5h.01M228.7 806.9h.01M240.4 801.6h.01M218.8 786.7h.01M256.9 679.1h.01M287.6 731.9h.01M277.8 720.7h.01M293.8 733.8h.01M282.4 743.0h.01M304.0 702.0h.01M247.5 761.9h.01M297.3 724.4h.01M260.1 779.8h.01M246.5 775.1h.01M302.3 693.7h.01M290.0 738.2h.01M262.4 770.2h.01M258.7 737.9h.01M256.4 675.1h.01M265.1 716.6h.01M261.4 712.5h.01M223.4 737.5h.01M276.9 748.0h.01M252.7 787.3h.01M207.5 703.8h.01M263.1 730.5h.01M225.6 792.7h.01M225.5 791.1h.01M251.2 774.7h.01M294.6 769.9h.01M244.9 806.9h.01M267.4 731.2h.01M192.5 734.7h.01M234.6 793.3h.01M253.3 719.3h.01M225.9 840.3h.01M251.2 719.1h.01M219.9 790.5h.01M202.1 747.5h.01M271.4 792.9h.01M208.7 718.8h.01M232.8 796.2h.01M284.1 699.0h.01M220.4 752.3h.01M304.8 724.0h.01M239.4 837.2h.01M260.8 755.2h.01M169.8 750.0h.01M244.5 761.0h.01M206.5 737.6h.01M203.7 799.0h.01M212.2 688.1h.01M196.9 747.7h.01M239.2 780.8h.01M222.6 736.7h.01M262.8 736.4h.01M290.4 751.7h.01M242.7 747.9h.01M250.2 672.4h.01M230.8 817.6h.01M255.3 761.5h.01M265.8 757.1h.01M238.0 727.8h.01M282.0 694.9h.01M240.0 805.7h.01M218.7 702.7h.01M250.1 793.6h.01M252.7 761.1h.01M225.5 679.6h.01M247.1 769.6h.01M298.0 768.1h.01M213.7 787.0h.01M260.5 733.7h.01M199.9 708.4h.01M256.3 743.9h.01M244.1 822.3h.01M194.5 767.5h.01M234.8 685.9h.01M299.5 747.1h.01M264.7 741.4h.01M249.6 714.4h.01M216.8 803.5h.01M254.3 685.4h.01M287.2 710.0h.01M238.6 757.5h.01M226.1 773.3h.01M243.8 697.7h.01M233.0 769.2h.01M283.1 707.9h.01M196.6 717.8h.01M262.3 800.2h.01M214.3 707.6h.01M241.7 753.8h.01M256.8 695.9h.01M250.5 668.8h.01M243.1 738.6h.01M239.1 767.3h.01M275.5 740.0h.01M315.2 737.9h.01M219.5 737.5h.01M277.3 693.5h.01M201.9 749.0h.01M219.7 712.6h.01M200.2 718.3h.01M212.4 761.3h.01M236.3 761.6h.01M230.5 837.1h.01M249.8 762.5h.01M236.2 698.2h.01M243.4 755.0h.01M247.2 747.3h.01M266.2 738.0h.01M240.4 780.0h.01M266.1 760.4h.01M255.8 770.3h.01M232.5 762.3h.01M251.8 767.6h.01M240.8 771.3h.01M282.8 761.7h.01M266.1 670.5h.01M224.1 779.9h.01M244.8 726.8h.01M265.3 746.3h.01M196.8 749.1h.01M237.2 824.8h.01M272.8 755.6h.01M282.7 727.4h.01M304.3 728.8h.01M295.8 768.3h.01M287.6 864.9h.01M252.4 759.0h.01M216.5 781.4h.01M259.4 790.3h.01M248.0 730.7h.01M208.0 743.4h.01M244.4 770.8h.01M269.1 808.2h.01M235.1 725.0h.01M259.0 741.3h.01M270.5 728.0h.01M267.5 797.8h.01M313.4 713.4h.01M248.7 723.0h.01M305.0 722.3h.01M251.2 687.0h.01M261.2 797.7h.01M188.8 744.3h.01M305.9 717.0h.01M291.9 723.4h.01M230.8 738.9h.01M218.4 791.3h.01M270.8 746.6h.01M250.6 799.6h.01M273.0 725.2h.01M215.0 770.6h.01M243.7 695.9h.01M237.4 748.9h.01M221.4 694.7h.01M221.3 711.5h.01M223.8 777.2h.01M290.4 709.5h.01M292.0 759.2h.01M293.1 701.4h.01M208.8 777.0h.01M274.2 727.0h.01M218.6 725.7h.01M280.6 755.6h.01M235.2 831.0h.01M272.3 721.8h.01M232.6 789.1h.01M249.9 790.1h.01M242.5 692.6h.01M254.9 679.2h.01M182.3 753.6h.01M285.8 694.6h.01M262.8 710.2h.01M193.5 753.3h.01M213.3 779.0h.01M231.6 735.9h.01M239.2 810.4h.01M216.9 740.9h.01M236.1 723.7h.01M232.1 732.7h.01M254.6 763.9h.01M283.5 747.8h.01M245.8 811.5h.01M232.9 721.4h.01M228.0 825.7h.01M232.5 706.9h.01M265.4 710.9h.01M265.2 794.0h.01M254.5 760.9h.01" stroke="#F8766D" stroke-width="3.7" stroke-linecap="round" fill="none"/>
<path d="M294.1 878.8h.01M286.0 882.0h.01M270.1 921.5h.01M243.5 905.7h.01M254.4 837.0h.01M274.2 852.3h.01M292.9 822.6h.01M279.6 943.4h.01M282.1 930.8h.01M219.0 763.8h.01M292.0 827.1h.01M331.1 917.9h.01M247.6 819.1h.01M227.0 893.8h.01M248.4 876.4h.01M251.5 948.2h.01M309.4 916.8h.01M303.8 909.5h.01M243.2 832.9h.01M303.9 853.6h.01M238.3 863.1h.01M313.3 914.9h.01M229.3 914.8h.01M286.6 924.8h.01M272.2 912.9h.01M284.4 830.5h.01M312.7 870.0h.01M302.4 864.4h.01M279.3 800.6h.01M316.7 883.4h.01M306.7 877.7h.01M298.2 837.1h.01M302.9 872.7h.01M301.6 925.2h.01M305.7 859.0h.01M312.9 814.6h.01M236.9 890.6h.01M314.0 929.0h.01M220.5 728.0h.01M275.7 936.3h.01M274.4 884.3h.01M324.4 893.8h.01M268.3 845.7h.01M307.3 813.8h.01M266.6 870.5h.01M267.9 831.0h.01M288.3 938.5h.01M245.0 877.1h.01M251.0 869.5h.01M290.5 897.2h.01M280.3 935.8h.01M294.3 853.4h.01M309.8 831.5h.01M290.8 851.0h.01M274.9 832.0h.01M284.5 866.5h.01M267.1 890.5h.01M167.2 796.3h.01M281.8 842.9h.01M307.6 858.6h.01M274.6 866.7h.01M292.0 871.0h.01M306.8 945.6h.01M306.4 947.6h.01M247.1 864.7h.01M304.2 866.0h.01M308.3 821.4h.01M284.0 881.0h.01M247.5 841.8h.01M253.0 868.4h.01M278.3 853.3h.01M227.9 938.1h.01M291.0 935.0h.01M279.9 900.2h.01M285.1 871.7h.01M294.3 865.1h.01M227.2 870.8h.01M250.9 921.4h.01M273.9 903.3h.01M314.1 868.2h.01M300.8 872.0h.01M216.4 896.1h.01M242.3 909.8h.01M232.8 881.3h.01M321.7 895.1h.01M263.3 911.6h.01M270.8 849.0h.01M293.1 942.2h.01M262.0 876.5h.01M224.4 902.1h.01M236.3 940.6h.01M218.9 903.9h.01M331.9 903.8h.01M254.6 836.9h.01M291.5 849.0h.01M292.9 880.2h.01M269.5 839.2h.01M302.8 812.7h.01M200.7 893.0h.01M282.6 871.1h.01M287.8 844.8h.01M217.4 873.0h.01M206.1 882.0h.01M208.9 704.5h.01M243.7 907.1h.01M254.1 904.1h.01M306.1 845.3h.01M268.5 910.9h.01M270.6 949.4h.01M292.1 870.3h.01M292.5 692.2h.01M295.0 878.1h.01M247.7 925.0h.01M293.8 943.2h.01M227.5 923.8h.01M306.1 931.3h.01M251.4 830.5h.01M264.8 841.8h.01M310.6 839.9h.01M274.5 837.2h.01M289.8 822.9h.01M242.8 860.4h.01M214.9 889.6h.01M217.0 905.7h.01M202.4 888.1h.01M291.9 822.2h.01M264.8 895.4h.01M312.4 913.0h.01M299.6 842.9h.01M285.2 902.9h.01M240.4 942.2h.01M314.8 846.2h.01M291.3 824.5h.01M282.7 928.2h.01M271.4 834.9h.01M266.2 963.6h.01M233.2 909.1h.01M286.3 867.1h.01M326.2 888.2h.01M249.5 863.5h.01M300.0 842.9h.01M287.2 819.1h.01M296.4 895.2h.01M330.5 894.8h.01M279.7 877.1h.01M281.9 836.7h.01M260.6 892.8h.01M299.1 878.8h.01M233.9 901.8h.01M300.1 862.2h.01M310.2 893.0h.01M283.0 900.2h.01M224.9 881.3h.01M315.8 924.6h.01M310.4 865.6h.01M306.2 842.2h.01M288.7 854.2h.01M231.5 914.1h.01M268.3 917.2h.01M252.1 818.3h.01M274.5 879.3h.01M265.5 693.8h.01M327.7 926.9h.01M302.0 870.3h.01M255.7 843.8h.01M301.9 832.8h.01M288.1 875.1h.01M264.1 826.9h.01M243.9 888.1h.01M281.9 854.5h.01M249.7 858.9h.01M256.3 886.6h.01M319.6 894.2h.01M311.5 818.0h.01M283.3 878.4h.01M251.5 830.6h.01M256.0 911.4h.01M278.1 837.3h.01M272.2 865.8h.01M233.4 857.5h.01M299.1 906.3h.01M280.5 830.3h.01M311.2 900.1h.01M297.4 816.8h.01M299.7 930.2h.01M215.5 900.6h.01M285.4 889.4h.01M281.4 897.6h.01M261.6 915.1h.01M268.6 860.4h.01M273.1 872.8h.01M295.4 857.2h.01M284.5 809.5h.01M298.6 839.8h.01M290.1 877.7h.01M262.7 812.6h.01M253.1 931.6h.01M235.1 919.5h.01M278.2 813.4h.01M269.9 869.7h.01M247.4 851.2h.01M258.1 961.0h.01M302.7 899.3h.01M258.3 883.7h.01M308.5 936.6h.01M258.2 968.9h.01M302.2 875.3h.01M291.4 828.6h.01M294.2 889.8h.01M264.2 869.6h.01M291.7 816.9h.01M295.9 830.4h.01M291.3 906.0h.01M251.1 815.7h.01M256.3 872.9h.01M277.3 851.0h.01M281.6 907.3h.01M315.2 875.8h.01M319.6 877.5h.01M285.7 839.0h.01M298.1 873.5h.01M306.9 824.5h.01M277.4 826.7h.01M256.2 901.7h.01M295.7 854.6h.01M312.5 864.2h.01M308.9 840.9h.01M273.8 961.4h.01M268.5 947.9h.01M313.7 873.2h.01M290.5 838.4h.01M273.7 866.8h.01M315.7 944.0h.01M279.9 952.5h.01M260.3 920.4h.01M288.8 837.5h.01M290.3 872.9h.01M302.6 845.8h.01M242.8 901.7h.01M273.9 884.9h.01M283.9 887.3h.01M319.6 869.3h.01M274.3 842.6h.01M281.3 912.5h.01M297.6 895.1h.01M263.2 857.0h.01M226.4 899.4h.01M217.2 898.9h.01M281.4 907.5h.01M321.7 904.6h.01M270.3 836.0h.01M273.9 914.2h.01M233.6 829.3h.01M263.1 848.1h.01M252.1 871.3h.01M298.7 827.8h.01M317.6 926.6h.01M335.9 899.7h.01M289.7 871.2h.01M285.4 810.4h.01M245.6 835.7h.01M296.1 814.4h.01M311.2 880.2h.01M260.0 845.4h.01M275.6 887.3h.01M337.1 902.0h.01M237.2 887.8h.01M306.1 808.8h.01M275.8 876.1h.01M291.6 821.6h.01M241.3 904.5h.01M266.9 908.9h.01M268.6 828.0h.01M291.1 834.2h.01M285.2 911.4h.01M225.0 915.3h.01M269.8 900.5h.01M279.5 890.1h.01M271.5 846.7h.01M255.3 963.6h.01M336.1 915.6h.01M297.9 871.5h.01M244.1 840.0h.01M231.8 892.3h.01M310.1 883.5h.01M305.4 802.5h.01M251.0 838.6h.01M284.9 922.7h.01M264.6 884.5h.01M260.3 896.7h.01M241.7 941.1h.01M316.6 896.0h.01M293.5 860.6h.01M219.4 878.4h.01M247.8 937.0h.01M261.6 867.8h.01M289.6 893.9h.01M271.1 967.5h.01M281.7 826.7h.01M286.1 877.0h.01M226.1 859.5h.01M316.7 867.3h.01M316.4 850.3h.01M258.8 877.1h.01M266.3 812.8h.01M292.0 903.4h.01M281.0 900.0h.01M309.0 856.9h.01M235.0 888.4h.01M279.2 843.7h.01M338.5 911.7h.01M304.7 915.4h.01M278.5 904.6h.01M278.5 815.8h.01M315.6 865.2h.01M313.0 847.2h.01M275.7 870.2h.01M274.4 839.5h.01M284.6 828.6h.01" stroke="#D39200" stroke-width="3.7" stroke-linecap="round" fill="none"/>
<path d="M358.4 859.4h.01M250.2 927.4h.01M345.7 821.5h.01M317.1 762.6h.01M353.2 846.8h.01M321.8 775.6h.01M314.0 810.9h.01M352.8 783.7h.01M342.3 776.8h.01M330.9 769.3h.01M326.5 768.7h.01M343.4 796.8h.01M341.6 863.6h.01M331.8 761.4h.01M333.8 805.1h.01M372.5 810.0h.01M335.0 854.4h.01M332.7 816.1h.01M328.1 849.9h.01M325.6 851.0h.01M332.5 834.4h.01M351.2 766.3h.01M362.3 867.6h.01M340.5 781.5h.01M327.9 821.0h.01M343.5 782.5h.01M337.6 888.7h.01M368.0 808.4h.01M348.0 806.7h.01M365.8 795.1h.01M350.6 815.7h.01M361.7 830.4h.01M320.4 756.1h.01M320.6 807.6h.01M321.8 829.5h.01M320.9 770.2h.01M367.8 830.9h.01M361.4 765.7h.01M343.6 763.8h.01M326.3 787.2h.01M347.0 763.0h.01M353.8 829.7h.01M257.3 832.9h.01M317.7 861.0h.01M346.2 777.4h.01M341.9 837.2h.01M331.7 798.0h.01M329.0 802.0h.01M340.8 812.9h.01M326.3 755.2h.01M327.8 769.0h.01M375.4 815.2h.01M331.0 867.0h.01M386.3 795.0h.01M348.9 849.1h.01M350.7 783.1h.01M336.0 896.5h.01M360.9 793.3h.01M331.5 852.0h.01M324.4 824.8h.01M347.9 793.1h.01M342.3 845.0h.01M221.1 715.9h.01M332.1 768.6h.01M313.2 806.2h.01M346.3 767.5h.01M364.2 813.7h.01M336.2 776.8h.01M341.0 819.1h.01M369.5 775.4h.01M363.5 809.0h.01M352.5 824.5h.01M354.9 805.1h.01M324.5 834.9h.01M332.6 801.6h.01M367.8 775.1h.01M242.7 896.0h.01M349.5 807.5h.01M345.4 802.0h.01M338.0 845.4h.01M349.7 804.3h.01M356.3 829.0h.01M326.0 806.7h.01M346.8 778.0h.01M367.6 815.2h.01M324.1 822.8h.01M313.5 799.9h.01M317.9 786.2h.01M374.7 845.5h.01M320.1 814.2h.01M357.6 820.7h.01M322.3 756.9h.01M307.3 797.6h.01M363.5 791.2h.01M356.9 861.6h.01M345.2 886.7h.01M334.0 816.3h.01M331.4 764.0h.01M317.2 808.3h.01M364.4 780.9h.01M301.4 852.1h.01M350.0 809.8h.01M328.8 875.2h.01M349.4 785.8h.01M262.3 840.6h.01M238.9 742.5h.01M326.0 847.6h.01M353.1 812.6h.01M325.5 802.0h.01M337.3 788.2h.01M351.5 791.1h.01M356.3 789.6h.01M340.3 884.0h.01M334.8 788.6h.01M343.3 802.6h.01M322.1 867.8h.01M315.8 855.4h.01M336.8 885.8h.01M319.1 767.1h.01M330.9 816.9h.01M322.9 763.0h.01M368.8 843.2h.01M330.7 807.2h.01M318.0 784.5h.01M229.0 864.0h.01M352.6 812.5h.01M366.2 840.8h.01M333.3 870.9h.01M362.1 840.2h.01M372.1 826.8h.01M346.4 779.0h.01M358.0 810.8h.01M343.0 840.8h.01M350.0 766.8h.01M331.2 844.3h.01M367.6 843.9h.01M384.9 805.6h.01M324.7 780.9h.01M343.0 820.9h.01M360.1 783.8h.01M378.9 794.8h.01M359.1 782.9h.01M346.8 814.9h.01M364.3 790.5h.01M366.5 865.6h.01M329.1 850.1h.01M366.4 845.6h.01M332.5 810.9h.01M331.1 795.4h.01M351.4 836.7h.01M211.2 783.0h.01M365.7 785.3h.01" stroke="#93AA00" stroke-width="3.7" stroke-linecap="round" fill="none"/>
<path d="M204.0 805.6h.01M142.2 816.5h.01M312.5 771.7h.01M179.0 840.6h.01M271.5 879.1h.01M179.4 885.2h.01M144.6 825.5h.01M157.4 826.9h.01M159.8 864.9h.01M166.3 810.6h.01M164.8 856.0h.01M170.6 854.6h.01M154.9 829.4h.01M174.7 830.1h.01M179.2 818.7h.01M180.7 789.0h.01M172.5 829.9h.01M173.9 783.1h.01M338.0 752.1h.01M179.2 780.1h.01M315.2 774.8h.01M187.1 776.2h.01M307.3 883.7h.01M162.5 843.2h.01M153.6 834.7h.01M367.9 793.4h.01M182.9 780.8h.01M180.6 839.9h.01M190.6 780.3h.01M157.4 829.8h.01M161.9 839.6h.01M242.2 903.1h.01M172.0 769.7h.01M196.6 795.6h.01M152.7 870.5h.01M154.9 825.0h.01M148.0 855.3h.01M198.3 791.8h.01M194.3 819.1h.01M180.5 828.8h.01M172.9 875.2h.01M192.9 773.4h.01M267.4 831.1h.01M190.9 804.2h.01M140.9 833.5h.01M192.4 830.4h.01M172.4 858.2h.01M157.3 790.6h.01M170.0 782.4h.01M180.6 780.6h.01M173.4 838.7h.01M177.2 869.0h.01M273.2 843.4h.01M152.1 808.0h.01M154.4 851.3h.01M195.3 801.8h.01M180.2 811.3h.01M308.4 763.4h.01M192.5 808.4h.01M163.5 820.3h.01M313.0 753.1h.01M280.5 853.1h.01M163.1 831.4h.01M319.7 879.0h.01M307.8 855.8h.01" stroke="#00BA38" stroke-width="3.7" stroke-linecap="round" fill="none"/>
<path d="M329.2 975.6h.01M339.4 974.6h.01M325.7 956.5h.01M347.6 1000.8h.01M356.7 960.8h.01M335.2 1007.6h.01M347.2 989.2h.01M339.0 991.8h.01M320.4 985.6h.01M320.4 970.0h.01M327.3 991.6h.01M327.3 963.5h.01M312.8 967.4h.01M327.8 978.7h.01M333.2 988.0h.01M337.4 1001.0h.01M317.4 1001.3h.01M307.9 994.7h.01M335.9 984.1h.01M337.8 994.0h.01M337.1 1008.7h.01M344.1 979.2h.01M327.7 985.3h.01M320.1 1009.9h.01M335.7 999.6h.01M326.1 961.2h.01M318.0 1010.2h.01M344.7 996.8h.01M335.7 996.1h.01M318.1 978.6h.01M339.7 1005.1h.01M330.1 963.2h.01M313.6 985.8h.01M333.7 979.0h.01M311.5 967.1h.01M280.1 972.3h.01M342.1 970.4h.01M322.4 1017.5h.01M345.2 997.7h.01M299.5 970.9h.01M358.7 982.7h.01M353.4 960.5h.01M325.9 993.5h.01M347.6 960.9h.01M322.3 1011.1h.01M350.2 988.5h.01M333.2 987.1h.01M333.5 998.4h.01M349.1 965.5h.01M316.1 1010.3h.01M324.5 963.5h.01M312.7 991.2h.01M345.5 984.9h.01M357.6 994.2h.01M322.9 1011.5h.01M288.7 980.2h.01M319.3 969.9h.01M332.1 971.5h.01M344.2 954.5h.01M318.0 976.8h.01M295.8 974.8h.01M313.6 994.5h.01M323.8 1004.0h.01M342.1 963.6h.01M338.9 987.0h.01M359.4 976.2h.01M328.4 967.7h.01M346.9 968.1h.01M343.4 984.4h.01M336.6 988.5h.01M322.0 1013.2h.01M316.2 963.7h.01M340.7 967.6h.01M286.4 983.9h.01M346.6 965.8h.01M317.7 991.2h.01M321.3 1018.4h.01M325.8 979.7h.01M332.1 980.4h.01M296.1 992.8h.01M333.9 980.0h.01" stroke="#00C19F" stroke-width="3.7" stroke-linecap="round" fill="none"/>
<path d="M191.7 681.7h.01M227.4 665.8h.01M362.1 729.9h.01M213.5 689.4h.01M212.6 672.5h.01M219.7 667.5h.01M191.6 671.8h.01M294.2 877.6h.01M212.8 658.4h.01M348.0 715.6h.01M208.9 668.0h.01M344.3 710.2h.01M349.1 735.0h.01M212.6 676.0h.01M195.9 667.6h.01M199.3 653.1h.01M196.2 687.1h.01M210.8 650.3h.01M348.4 840.3h.01M365.6 749.5h.01M183.5 693.5h.01M243.2 661.7h.01M266.2 863.0h.01M185.3 696.7h.01M359.1 746.8h.01M202.0 670.6h.01M167.5 756.6h.01M351.3 721.8h.01M212.2 738.7h.01M210.2 658.5h.01M349.1 722.3h.01M177.0 708.9h.01M193.6 653.8h.01M227.7 947.2h.01M204.9 660.4h.01M199.7 667.2h.01M205.6 671.1h.01M358.0 743.5h.01M190.6 692.3h.01M218.5 939.8h.01M288.1 831.3h.01M201.3 649.7h.01M195.7 655.0h.01M195.3 681.2h.01M213.3 666.3h.01M195.8 669.9h.01M376.7 777.0h.01M208.2 661.0h.01M338.9 915.6h.01M370.7 762.5h.01M211.4 667.5h.01M223.5 944.6h.01M241.3 752.4h.01M195.3 690.1h.01M358.7 745.1h.01M227.9 676.1h.01M205.9 667.7h.01M202.6 657.4h.01M206.0 683.4h.01M211.6 682.3h.01M175.4 712.5h.01M212.3 667.9h.01M246.7 796.1h.01M208.9 688.2h.01M359.7 723.4h.01M360.3 744.5h.01M197.7 656.9h.01M215.4 673.4h.01M232.1 653.4h.01M352.4 717.8h.01M371.4 758.0h.01M185.9 691.6h.01M367.0 755.6h.01M342.0 720.9h.01M225.7 652.8h.01M232.3 653.6h.01M189.6 673.5h.01M218.5 666.0h.01M185.6 668.3h.01M234.3 656.3h.01M378.3 776.2h.01M280.8 756.7h.01M183.2 670.0h.01M199.4 656.0h.01M204.4 666.1h.01M163.3 736.7h.01M221.1 650.1h.01M194.7 667.2h.01M355.6 723.3h.01M212.1 669.3h.01M220.0 950.3h.01" stroke="#00B9E3" stroke-width="3.7" stroke-linecap="round" fill="none"/>
<path d="M273.3 791.9h.01M307.9 688.7h.01M287.1 781.2h.01M332.2 674.1h.01M283.4 786.4h.01M332.9 689.7h.01M329.4 676.3h.01M214.3 859.4h.01M323.1 676.7h.01M329.1 681.7h.01M312.4 677.7h.01M319.2 704.3h.01M331.3 700.1h.01M272.0 780.5h.01M341.7 674.6h.01M211.8 884.9h.01M320.9 702.8h.01M215.7 842.7h.01M340.8 694.2h.01M200.4 863.0h.01M310.0 696.1h.01M315.0 674.0h.01M333.0 675.2h.01M208.1 846.3h.01M300.9 784.1h.01M311.2 692.3h.01M301.7 799.7h.01M333.6 678.8h.01M204.5 870.5h.01M326.5 681.4h.01M282.8 780.3h.01M301.3 793.6h.01M268.4 670.0h.01M275.7 781.2h.01M280.9 783.4h.01M327.3 923.1h.01M204.5 860.9h.01M211.8 878.5h.01M206.0 871.6h.01M327.5 669.6h.01M217.1 878.5h.01M322.8 691.0h.01M303.8 795.2h.01M325.5 703.8h.01M332.6 678.7h.01M326.8 694.2h.01M314.6 686.2h.01" stroke="#619CFF" stroke-width="3.7" stroke-linecap="round" fill="none"/>
<path d="M119.5 805.1h.01M118.2 773.3h.01M117.6 773.7h.01M108.4 793.3h.01M123.2 785.0h.01M117.6 769.8h.01M129.0 804.0h.01M115.2 813.1h.01M120.1 771.7h.01M112.5 780.9h.01M112.6 778.8h.01" stroke="#DB72FB" stroke-width="3.7" stroke-linecap="round" fill="none"/>
<path d="M226.2 950.6h.01M216.7 954.1h.01M225.0 943.0h.01" stroke="#FF61C3" stroke-width="3.7" stroke-linecap="round" fill="none"/>
<path d="M597.4 757.9h.01M569.4 770.1h.01M528.5 765.9h.01M520.7 719.4h.01M536.5 802.6h.01M604.5 745.9h.01M537.0 794.2h.01M512.7 712.1h.01M513.8 715.8h.01M542.6 750.4h.01M622.0 733.9h.01M576.7 703.7h.01M496.5 772.8h.01M554.7 776.5h.01M540.8 710.0h.01M579.7 788.4h.01M552.3 775.6h.01M540.4 708.5h.01M532.9 821.6h.01M580.2 806.7h.01M571.4 794.0h.01M595.4 787.3h.01M490.1 743.4h.01M537.6 766.7h.01M585.1 804.4h.01M490.0 772.9h.01M527.7 781.6h.01M612.4 706.3h.01M521.2 754.4h.01M585.6 718.8h.01M575.9 685.7h.01M639.8 806.8h.01M544.5 768.7h.01M503.1 714.0h.01M556.6 709.6h.01M546.0 759.1h.01M516.1 767.9h.01M612.9 741.8h.01M547.6 749.3h.01M529.7 791.5h.01M514.1 786.1h.01M568.3 772.2h.01M600.5 759.1h.01M572.8 768.1h.01M608.8 753.5h.01M497.1 775.8h.01M592.7 760.7h.01M528.0 813.3h.01M573.5 792.0h.01M624.1 769.0h.01M523.2 707.2h.01M577.3 807.2h.01M535.2 788.1h.01M544.4 775.9h.01M496.3 729.7h.01M499.6 763.1h.01M552.1 800.3h.01M559.9 794.4h.01M488.8 740.3h.01M614.9 722.1h.01M600.5 778.4h.01M596.4 726.6h.01M556.9 812.4h.01M576.3 787.0h.01M587.3 795.5h.01M534.0 799.4h.01M534.7 795.2h.01M500.8 761.4h.01M547.6 798.5h.01M589.0 699.1h.01M597.2 698.6h.01M485.8 753.4h.01M626.9 727.2h.01M510.7 746.9h.01M526.9 809.6h.01M547.7 779.4h.01M489.1 751.4h.01M523.1 781.3h.01M596.2 764.5h.01M576.6 726.2h.01M551.8 786.8h.01M547.6 797.9h.01M540.0 789.6h.01M562.3 761.6h.01M550.0 717.9h.01M525.4 786.4h.01M558.7 709.8h.01M586.6 797.6h.01M514.5 738.7h.01M498.1 730.4h.01M514.5 712.3h.01M548.1 714.9h.01M514.1 764.8h.01M595.5 728.6h.01M551.5 795.7h.01M515.4 745.2h.01M540.6 818.3h.01M555.4 667.6h.01M548.8 758.7h.01M584.5 672.7h.01M602.6 773.6h.01M499.0 749.1h.01M560.2 718.6h.01M582.3 815.4h.01M621.2 757.2h.01M517.5 719.5h.01M612.1 764.8h.01M621.1 787.3h.01M612.2 766.7h.01M517.6 729.5h.01M589.3 787.5h.01M638.7 719.6h.01M591.1 792.2h.01M537.9 797.6h.01M543.6 684.7h.01M482.6 764.0h.01M508.8 749.4h.01M654.1 897.6h.01M550.4 788.8h.01M568.8 683.5h.01M519.6 746.7h.01M523.2 794.0h.01M552.8 766.4h.01M496.9 773.8h.01M543.9 737.3h.01M533.0 817.1h.01M525.9 781.2h.01M620.9 707.3h.01M558.1 803.8h.01M538.4 767.3h.01M541.0 764.6h.01M598.1 703.1h.01M522.5 789.3h.01M530.1 741.2h.01M602.7 793.7h.01M519.9 785.6h.01M674.9 765.1h.01M579.5 795.9h.01M537.5 741.9h.01M520.1 743.0h.01M565.3 737.1h.01M591.7 724.9h.01M575.1 747.5h.01M668.0 864.4h.01M541.0 774.6h.01M548.6 829.8h.01M576.2 696.9h.01M546.9 791.4h.01M582.9 786.4h.01M591.4 740.6h.01M542.5 786.1h.01M539.2 768.6h.01M615.8 759.4h.01M524.7 781.5h.01M545.3 805.4h.01M542.8 800.7h.01M563.1 784.8h.01M532.4 781.9h.01M550.3 683.7h.01M614.5 702.2h.01M540.8 745.2h.01M562.3 779.5h.01M576.7 783.4h.01M565.4 764.9h.01M536.2 745.7h.01M501.7 717.9h.01M594.7 685.9h.01M575.4 701.9h.01M598.7 694.9h.01M544.4 792.9h.01M553.7 803.8h.01M525.1 793.3h.01M471.5 852.4h.01M601.2 684.7h.01M518.1 790.6h.01M580.8 793.8h.01M558.0 782.5h.01M567.3 774.7h.01M553.5 724.8h.01M557.5 709.1h.01M566.2 809.9h.01M540.9 686.1h.01M546.3 809.4h.01M565.0 772.2h.01M567.7 784.3h.01M554.3 789.6h.01M569.3 786.1h.01M547.3 790.9h.01M564.2 820.4h.01M563.2 751.3h.01M576.2 773.1h.01M598.0 724.2h.01M547.0 726.4h.01M501.9 743.9h.01M612.9 723.3h.01M537.3 770.3h.01M582.6 809.4h.01M511.7 752.8h.01M531.7 823.0h.01M541.7 802.3h.01M626.4 791.6h.01M535.9 822.1h.01M508.0 705.3h.01M575.2 807.8h.01M567.6 736.5h.01M538.9 786.1h.01M553.3 793.3h.01M583.9 700.0h.01M509.5 708.7h.01M535.6 770.2h.01M535.3 797.4h.01M535.8 724.5h.01M531.1 736.4h.01M556.4 816.4h.01M496.5 774.7h.01M577.9 769.4h.01M586.9 745.7h.01M556.2 816.2h.01M591.1 710.8h.01M555.1 802.2h.01M582.3 697.2h.01M569.7 741.7h.01M549.8 798.4h.01M556.5 781.6h.01M517.2 753.1h.01M515.7 741.8h.01M525.4 769.8h.01M581.8 701.4h.01M615.4 742.4h.01M591.1 734.1h.01M617.3 738.6h.01M555.9 705.9h.01M483.1 743.8h.01M560.4 724.5h.01M510.1 710.6h.01M546.8 800.6h.01M614.6 768.0h.01M563.0 707.2h.01M587.4 709.0h.01M580.0 758.3h.01M569.9 777.3h.01M575.5 660.7h.01M560.2 768.1h.01M567.2 813.1h.01M574.6 704.7h.01M526.5 760.4h.01M551.3 778.4h.01M584.3 699.3h.01M576.2 811.4h.01M522.2 762.2h.01M498.7 768.1h.01M528.5 778.2h.01M556.1 762.2h.01M510.7 787.5h.01M550.6 776.6h.01M599.5 763.4h.01M601.4 782.2h.01M504.9 749.4h.01M569.9 791.3h.01M629.4 735.7h.01M556.3 798.4h.01M613.7 723.5h.01M567.4 767.4h.01M544.9 784.4h.01M519.7 782.1h.01M545.1 800.4h.01M541.7 835.5h.01M574.0 783.3h.01M522.9 785.4h.01M496.8 729.3h.01M628.5 747.4h.01M604.3 724.5h.01M605.6 697.1h.01M539.1 818.1h.01M550.5 829.7h.01M530.4 794.0h.01M565.0 767.2h.01M551.8 788.2h.01M559.9 790.8h.01M555.8 823.9h.01M526.8 744.4h.01M581.0 810.1h.01M597.6 777.0h.01M586.3 800.0h.01M597.2 793.8h.01M548.0 829.7h.01M543.0 796.7h.01M590.3 685.7h.01M610.1 735.3h.01M560.9 781.8h.01M572.8 733.7h.01M503.4 768.8h.01M559.4 779.7h.01M546.7 813.6h.01M615.2 754.8h.01M543.2 741.7h.01M575.7 754.8h.01M533.2 777.6h.01M553.1 739.3h.01M590.1 706.8h.01M563.9 723.4h.01M535.6 721.7h.01M585.7 784.3h.01M492.2 767.7h.01M567.6 767.8h.01M547.5 818.5h.01M564.1 683.8h.01M590.4 802.5h.01M573.9 729.7h.01M580.6 786.2h.01M635.7 726.2h.01M628.3 805.9h.01M544.8 740.0h.01M569.5 810.8h.01M574.1 793.6h.01M564.7 813.9h.01M539.7 831.7h.01M560.5 793.7h.01M511.3 775.2h.01M548.9 791.9h.01M565.6 809.7h.01M535.6 775.5h.01M555.9 818.9h.01M504.4 721.9h.01M561.9 725.0h.01M548.1 837.3h.01M610.3 781.4h.01M602.4 732.4h.01M554.2 762.2h.01M610.7 742.7h.01M615.8 760.8h.01M498.5 723.2h.01M560.9 755.9h.01M503.5 743.8h.01M571.7 827.3h.01M591.3 762.9h.01M591.4 764.3h.01M542.3 798.1h.01M559.2 816.2h.01M586.3 707.5h.01M568.0 766.9h.01M489.4 748.6h.01M574.7 814.9h.01M553.4 805.0h.01M549.2 740.1h.01M603.9 736.9h.01M508.7 710.6h.01M528.2 789.1h.01M543.6 731.0h.01M551.6 811.0h.01M503.7 756.0h.01M549.7 788.5h.01M565.3 822.4h.01M498.5 738.7h.01M632.2 797.9h.01" stroke="#F8766D" stroke-width="3.7" stroke-linecap="round" fill="none"/>
<path d="M564.7 915.5h.01M632.6 868.2h.01M560.5 914.7h.01M555.7 898.9h.01M580.1 871.7h.01M621.3 835.0h.01M548.3 838.1h.01M593.9 951.1h.01M636.3 911.1h.01M583.6 890.1h.01M578.4 916.5h.01M602.4 803.5h.01M528.2 916.2h.01M594.3 865.3h.01M630.3 844.9h.01M585.5 897.2h.01M567.9 924.7h.01M561.5 882.6h.01M579.8 890.6h.01M564.2 848.4h.01M569.1 868.5h.01M621.6 879.4h.01M581.2 825.2h.01M604.0 924.3h.01M568.7 930.8h.01M592.7 927.4h.01M593.8 818.8h.01M617.7 905.7h.01M532.5 926.9h.01M637.7 771.3h.01M607.1 840.8h.01M631.0 851.0h.01M595.5 930.8h.01M626.7 921.3h.01M620.1 845.6h.01M543.2 913.1h.01M578.0 875.3h.01M567.0 890.8h.01M608.8 948.6h.01M543.2 920.8h.01M536.1 849.5h.01M592.3 901.0h.01M605.0 809.9h.01M582.3 863.0h.01M537.5 885.6h.01M581.9 898.8h.01M625.7 920.2h.01M624.7 914.0h.01M543.6 901.9h.01M542.4 917.5h.01M567.6 919.0h.01M586.7 957.6h.01M582.5 839.1h.01M565.9 898.7h.01M591.9 970.4h.01M611.5 872.0h.01M583.0 902.7h.01M565.4 914.4h.01M625.2 906.8h.01M583.6 888.9h.01M629.1 774.2h.01M556.8 870.5h.01M607.8 834.5h.01M476.5 832.4h.01M631.1 930.2h.01M586.3 841.9h.01M533.2 837.7h.01M548.4 892.2h.01M549.9 840.8h.01M630.3 911.3h.01M550.6 954.2h.01M606.1 915.8h.01M604.1 864.5h.01M560.3 842.9h.01M617.9 836.0h.01M619.3 820.6h.01M624.8 911.1h.01M637.2 950.1h.01M587.5 959.1h.01M572.8 915.0h.01M575.8 882.2h.01M605.6 935.8h.01M568.5 860.7h.01M617.9 803.7h.01M633.9 789.5h.01M577.0 864.8h.01M592.9 825.0h.01M569.2 837.2h.01M583.4 923.8h.01M575.7 965.0h.01M575.7 905.7h.01M539.3 868.3h.01M570.6 887.7h.01M538.3 899.1h.01M580.5 940.4h.01M558.5 870.0h.01M610.5 961.9h.01M583.3 852.2h.01M543.0 914.2h.01M590.6 856.4h.01M559.7 844.7h.01M599.4 909.6h.01M569.3 905.1h.01M578.9 965.7h.01M579.5 864.9h.01M591.7 860.8h.01M596.2 981.0h.01M583.2 898.8h.01M587.6 909.2h.01M626.5 843.8h.01M557.5 878.3h.01M548.2 931.6h.01M565.0 885.4h.01M571.9 963.1h.01M532.4 838.2h.01M616.3 896.0h.01M544.8 886.6h.01M589.3 813.4h.01M557.5 891.7h.01M563.6 930.3h.01M608.5 815.9h.01M610.9 923.4h.01M624.0 892.4h.01M609.9 859.6h.01M603.6 904.5h.01M573.0 753.6h.01M564.7 892.7h.01M639.8 914.2h.01M531.8 901.0h.01M560.9 860.5h.01M595.1 918.6h.01M598.6 879.3h.01M618.8 914.1h.01M592.4 891.5h.01M540.3 874.2h.01M597.6 912.2h.01M577.5 870.5h.01M625.2 776.7h.01M597.6 944.8h.01M621.5 811.3h.01M581.7 939.2h.01M555.3 960.1h.01M573.2 945.8h.01M618.3 918.3h.01M633.8 888.7h.01M556.4 883.7h.01M618.5 811.2h.01M566.9 922.4h.01M541.4 904.8h.01M578.8 847.8h.01M573.1 837.1h.01M612.1 848.6h.01M639.0 855.9h.01M575.4 883.2h.01M587.4 850.9h.01M607.2 815.4h.01M573.4 855.8h.01M557.2 896.0h.01M595.6 913.0h.01M593.4 939.1h.01M621.4 921.7h.01M581.8 951.5h.01M590.4 887.2h.01M540.8 843.0h.01M573.1 855.5h.01M525.9 917.3h.01M605.9 877.6h.01M588.1 821.6h.01M558.5 880.9h.01M557.3 927.1h.01M561.5 910.8h.01M563.8 959.9h.01M591.7 817.5h.01M550.0 872.8h.01M603.4 902.7h.01M628.0 930.1h.01M599.3 867.0h.01M577.6 911.3h.01M568.2 895.3h.01M538.2 849.5h.01M626.5 844.8h.01M557.9 936.0h.01M574.8 963.8h.01M566.0 849.4h.01M626.4 905.7h.01M592.7 876.1h.01M596.6 929.9h.01M541.8 930.8h.01M578.3 916.5h.01M587.4 867.4h.01M552.9 919.8h.01M546.6 942.1h.01M572.0 850.6h.01M596.2 865.0h.01M558.9 961.8h.01M584.5 953.7h.01M532.5 843.7h.01M635.0 854.7h.01M565.9 878.6h.01M571.9 858.9h.01M599.5 962.6h.01M613.1 944.4h.01M545.5 886.8h.01M596.7 887.5h.01M630.0 848.0h.01M553.1 849.9h.01M559.2 948.8h.01M546.0 886.3h.01M602.8 881.7h.01M573.0 884.2h.01M606.5 858.0h.01M559.3 957.1h.01M590.9 811.6h.01M569.6 826.6h.01M585.5 887.5h.01M571.3 951.0h.01M555.7 935.2h.01M614.6 788.4h.01M616.1 937.1h.01M537.4 861.9h.01M636.6 892.3h.01M620.3 750.9h.01M595.3 957.5h.01M620.3 946.3h.01M553.0 849.5h.01M614.3 879.1h.01M551.2 954.7h.01M562.0 938.2h.01M628.5 850.2h.01M553.0 919.6h.01M567.6 882.8h.01M587.9 914.0h.01M555.5 849.9h.01M613.7 911.3h.01M542.5 904.0h.01M611.0 947.7h.01M558.5 940.8h.01M617.3 912.2h.01M569.0 826.4h.01M570.1 916.2h.01M641.1 855.7h.01M576.0 977.2h.01M628.2 937.4h.01M606.4 852.9h.01M573.3 847.2h.01M590.2 953.4h.01M622.0 826.8h.01M599.7 830.3h.01M563.3 947.0h.01M565.9 837.5h.01M554.7 870.4h.01M586.0 939.5h.01M562.4 859.1h.01M619.5 943.6h.01M537.0 895.5h.01M568.1 974.1h.01M632.4 916.8h.01M581.9 911.1h.01M590.6 866.7h.01M547.0 853.3h.01M577.7 934.2h.01M574.5 863.0h.01M554.7 949.0h.01M591.7 828.9h.01M597.6 797.6h.01M564.7 852.0h.01M580.2 833.2h.01M640.7 856.8h.01M560.3 871.2h.01M596.4 880.1h.01M611.3 903.8h.01M597.3 880.6h.01M592.6 869.2h.01M597.7 861.1h.01M532.9 916.5h.01M535.3 925.9h.01M568.9 862.2h.01M553.8 905.4h.01M616.7 940.2h.01M592.2 886.4h.01M596.7 826.2h.01M624.7 824.3h.01M584.7 887.9h.01M550.4 893.7h.01M588.0 836.5h.01M592.2 925.4h.01M549.0 917.1h.01M592.7 902.4h.01M558.6 818.0h.01M561.0 839.8h.01M557.9 877.7h.01M599.6 954.8h.01M547.7 865.4h.01M614.5 893.0h.01M617.2 965.2h.01M554.9 863.0h.01M574.9 944.2h.01M575.6 836.6h.01M574.3 861.6h.01M563.4 951.6h.01M547.6 862.2h.01M567.1 944.6h.01M480.4 819.1h.01M582.5 864.7h.01M553.8 875.9h.01M584.2 855.5h.01M622.2 962.4h.01M620.5 863.3h.01M579.8 892.3h.01M533.1 880.1h.01M627.7 839.3h.01M618.3 897.6h.01M536.1 849.6h.01M561.0 861.7h.01M570.3 953.4h.01M608.6 969.4h.01M566.6 928.1h.01M564.5 922.5h.01M563.4 869.8h.01M573.0 878.8h.01M642.5 874.6h.01M591.1 939.8h.01M561.5 900.2h.01M547.3 885.8h.01M578.2 886.2h.01M628.6 854.6h.01M556.1 872.0h.01M589.6 967.5h.01M571.1 881.1h.01M572.3 939.4h.01M609.6 939.8h.01M559.2 955.0h.01M625.5 933.7h.01M554.5 835.7h.01M529.1 910.9h.01M610.9 836.7h.01M581.4 879.1h.01M600.5 888.6h.01M570.1 841.7h.01M614.9 857.3h.01M584.3 945.4h.01M615.1 834.1h.01M568.4 864.4h.01M614.2 950.6h.01M551.4 841.7h.01M638.4 885.6h.01M630.6 914.7h.01M602.6 902.2h.01M577.3 902.8h.01M555.5 907.9h.01M571.8 834.8h.01M590.9 936.0h.01M558.6 935.7h.01M583.1 954.8h.01M582.0 842.3h.01M597.8 913.0h.01M621.6 818.1h.01M623.4 842.6h.01M592.2 974.0h.01M589.2 881.3h.01M633.3 893.9h.01M593.3 814.4h.01M564.0 931.3h.01M560.2 904.7h.01M613.6 832.9h.01M565.6 855.6h.01M570.4 952.5h.01M602.7 869.9h.01M564.0 945.9h.01M602.3 870.7h.01M587.0 870.4h.01M583.8 923.8h.01M534.5 854.0h.01M570.3 936.1h.01M560.9 892.9h.01M618.2 947.2h.01M580.1 911.8h.01M556.9 861.5h.01M533.0 895.0h.01M579.3 975.6h.01M619.5 885.4h.01M614.5 919.5h.01M563.3 953.2h.01M569.5 950.2h.01M568.7 831.7h.01M626.9 918.1h.01M602.2 907.0h.01M547.0 925.6h.01M618.2 783.6h.01M564.0 915.5h.01M616.7 837.1h.01M591.0 884.0h.01M548.4 759.5h.01M555.9 891.8h.01M548.8 850.1h.01M542.6 859.7h.01M584.1 924.5h.01M586.6 963.9h.01M625.6 927.9h.01M584.6 975.2h.01M583.2 942.2h.01M626.4 895.6h.01M601.7 812.9h.01M594.0 912.7h.01M605.0 934.9h.01M547.2 887.7h.01M581.1 848.0h.01M545.0 846.2h.01M598.2 938.1h.01M592.1 872.9h.01M541.8 875.2h.01M639.8 880.1h.01M540.9 932.5h.01M547.1 905.6h.01M619.0 936.2h.01M627.3 926.5h.01M574.7 885.5h.01M573.8 907.5h.01M617.7 887.4h.01M552.3 877.2h.01M578.7 956.9h.01M620.1 831.1h.01M562.4 846.6h.01M613.8 910.8h.01M588.8 890.5h.01M606.0 920.6h.01M590.5 866.6h.01M553.9 888.6h.01M571.1 943.4h.01M587.0 894.2h.01M550.8 885.0h.01M581.7 961.6h.01M534.9 850.4h.01M554.5 946.9h.01M579.5 903.8h.01M545.4 841.2h.01M597.5 963.8h.01M632.3 928.1h.01M629.2 887.6h.01M583.1 931.7h.01M536.3 928.5h.01M588.8 943.4h.01M594.8 974.9h.01M564.9 876.6h.01M617.3 959.8h.01M532.8 905.7h.01M570.4 939.1h.01M630.7 898.4h.01M574.2 948.0h.01" stroke="#D39200" stroke-width="3.7" stroke-linecap="round" fill="none"/>
<path d="M647.0 805.9h.01M664.8 853.0h.01M649.6 871.1h.01M660.1 805.1h.01M671.3 838.6h.01M608.8 776.8h.01M658.7 852.6h.01M646.9 791.3h.01M677.4 845.8h.01M677.1 838.3h.01M664.9 830.8h.01M670.2 861.5h.01M679.9 800.6h.01M658.5 837.6h.01M661.9 793.6h.01M645.7 844.2h.01M615.7 771.7h.01M676.7 827.5h.01M644.0 849.2h.01M684.5 832.2h.01M665.4 803.1h.01M668.9 792.0h.01M644.0 767.7h.01M641.6 814.2h.01M649.2 824.5h.01M662.2 837.8h.01M648.5 793.6h.01M642.8 879.5h.01M648.4 869.2h.01M673.2 845.0h.01M679.5 867.2h.01M647.0 817.8h.01M660.7 875.2h.01M679.1 841.1h.01M653.8 787.5h.01M673.4 852.1h.01M678.1 804.6h.01M675.1 846.9h.01M682.2 825.5h.01M641.4 895.8h.01M659.7 799.8h.01M650.0 886.4h.01M647.8 809.0h.01M669.9 784.5h.01M670.6 834.0h.01M640.1 846.4h.01M685.8 783.6h.01M643.4 850.3h.01M677.7 817.7h.01M629.9 785.3h.01M653.0 861.0h.01M647.0 816.5h.01M648.6 770.8h.01M655.7 887.3h.01M649.5 811.5h.01M655.4 887.3h.01M692.2 820.4h.01M683.5 780.3h.01M680.1 817.2h.01M676.8 783.4h.01M662.2 877.2h.01M659.4 828.1h.01M669.4 831.4h.01M658.1 860.5h.01M658.2 802.8h.01M671.6 793.0h.01M649.0 847.5h.01M661.9 775.1h.01M675.8 818.1h.01M651.1 772.7h.01M663.4 766.8h.01M661.7 800.6h.01M642.8 769.4h.01M670.5 812.4h.01M684.3 847.2h.01M653.2 837.6h.01M643.1 794.6h.01M691.6 820.1h.01M650.2 857.2h.01M650.4 769.1h.01M672.8 789.5h.01M642.6 844.0h.01M670.0 861.2h.01M652.8 785.5h.01M675.8 870.9h.01M648.1 791.6h.01M657.4 831.9h.01M678.5 772.2h.01M535.4 799.3h.01M668.3 882.0h.01M676.7 776.1h.01M677.1 856.0h.01M664.9 892.5h.01M682.0 810.2h.01M674.5 828.9h.01M643.8 774.5h.01M678.5 808.4h.01M647.5 833.8h.01M674.2 867.2h.01M685.4 838.5h.01M680.7 830.3h.01M665.5 885.4h.01M668.1 802.9h.01M660.5 812.3h.01M693.2 843.3h.01M654.1 827.3h.01M641.6 884.1h.01M676.3 837.6h.01M678.4 786.0h.01M643.1 798.1h.01M678.3 836.2h.01M672.2 808.5h.01M686.7 843.9h.01M645.9 860.4h.01M661.8 796.7h.01M664.1 812.6h.01M684.7 800.9h.01M642.1 827.1h.01M685.7 800.9h.01M646.8 873.6h.01M691.9 822.1h.01M648.0 808.1h.01M681.0 849.1h.01M606.2 785.6h.01M647.3 812.2h.01M649.1 771.4h.01M662.9 782.7h.01M680.6 812.4h.01M677.9 867.5h.01M675.5 767.6h.01M642.2 792.4h.01M665.0 821.5h.01M686.5 811.9h.01M663.6 815.6h.01M659.8 812.7h.01M668.0 863.8h.01M675.6 817.8h.01M654.3 764.5h.01M659.5 884.2h.01M654.6 834.9h.01M676.4 859.2h.01M687.7 850.3h.01M650.6 821.7h.01M653.2 835.4h.01M653.2 888.8h.01M649.0 859.5h.01M652.4 807.3h.01M653.7 803.6h.01M644.2 778.8h.01M646.0 822.5h.01M643.9 865.5h.01M648.5 879.7h.01M658.0 829.1h.01M648.0 794.9h.01M657.0 772.2h.01M650.5 801.0h.01M680.8 794.0h.01M665.1 813.8h.01M678.6 813.5h.01M683.9 842.3h.01M629.9 799.8h.01M681.2 845.6h.01M654.3 768.2h.01M660.5 831.9h.01M654.9 802.4h.01M669.8 796.8h.01M617.4 793.7h.01M653.6 849.9h.01M662.3 887.4h.01M669.2 774.3h.01M564.6 717.2h.01M677.5 827.1h.01M689.4 811.7h.01M670.1 837.8h.01M651.0 763.3h.01M650.4 847.8h.01M659.2 772.0h.01M689.6 817.2h.01M682.2 802.9h.01M690.9 845.3h.01M635.5 820.3h.01M667.1 827.3h.01M686.1 791.5h.01M674.7 876.7h.01M651.0 805.4h.01M639.0 800.5h.01M644.6 824.4h.01M621.2 882.7h.01M652.1 887.4h.01M656.7 799.1h.01M646.3 827.0h.01M661.8 872.6h.01M643.9 867.2h.01M656.1 789.3h.01M645.0 748.0h.01M684.1 845.6h.01M676.6 796.4h.01M685.2 775.1h.01M615.4 806.9h.01M654.5 768.2h.01M655.8 797.1h.01M660.8 815.4h.01M665.0 819.9h.01M679.4 842.7h.01M666.5 809.8h.01M661.8 819.7h.01M638.3 816.6h.01M653.3 819.9h.01M597.6 845.7h.01" stroke="#93AA00" stroke-width="3.7" stroke-linecap="round" fill="none"/>
<path d="M470.4 824.0h.01M555.6 949.4h.01M461.5 819.0h.01M494.1 825.5h.01M468.4 802.3h.01M496.1 810.2h.01M472.7 837.8h.01M481.7 830.0h.01M473.7 795.2h.01M486.6 801.2h.01M464.6 853.6h.01M482.4 869.5h.01M479.0 865.5h.01M474.6 855.1h.01M605.8 751.0h.01M613.6 758.4h.01M629.8 764.2h.01M618.8 764.4h.01M620.8 774.7h.01M479.2 863.4h.01M479.8 875.1h.01M601.6 747.1h.01M469.3 833.7h.01M478.6 818.8h.01M484.0 841.4h.01M599.9 757.3h.01M662.7 928.0h.01M471.6 865.5h.01M477.5 848.4h.01M617.1 777.0h.01M612.5 799.9h.01M462.9 801.7h.01M624.7 776.8h.01M477.4 857.5h.01M624.1 771.6h.01M477.2 858.6h.01M611.4 805.2h.01M486.7 801.5h.01M474.7 798.9h.01M636.5 743.5h.01M630.8 759.6h.01M478.8 817.4h.01M494.2 832.1h.01M499.7 804.7h.01M483.5 866.4h.01M473.4 817.6h.01M484.8 839.0h.01M472.8 857.0h.01M627.5 747.8h.01M624.5 775.8h.01M570.4 814.4h.01M468.6 787.0h.01M468.6 866.5h.01M481.0 866.5h.01M472.4 825.2h.01M622.9 778.8h.01M495.4 837.3h.01M486.7 868.0h.01M479.5 867.1h.01M467.9 858.5h.01M641.9 781.3h.01M480.2 789.6h.01M517.7 820.4h.01M464.5 834.2h.01M500.2 822.4h.01M484.1 823.5h.01M481.8 820.9h.01M622.7 773.6h.01M466.5 831.1h.01M613.1 785.2h.01M473.4 865.8h.01M589.7 949.5h.01M488.7 866.0h.01M514.1 805.8h.01M468.9 814.7h.01M485.0 875.0h.01M643.1 861.6h.01M459.9 853.9h.01M608.8 753.7h.01M502.5 812.6h.01M494.6 800.6h.01M484.8 862.5h.01M464.0 850.4h.01M599.4 754.2h.01M491.0 815.8h.01M475.5 847.8h.01M488.8 831.1h.01M465.6 784.1h.01M464.2 857.4h.01M495.1 798.6h.01M599.1 766.1h.01M631.6 767.6h.01M463.4 814.5h.01M492.2 851.7h.01M491.6 844.9h.01M491.3 843.1h.01M637.1 783.4h.01M477.5 859.8h.01M461.7 793.1h.01M465.2 849.4h.01M636.9 780.6h.01M504.9 831.5h.01M616.4 767.4h.01M466.4 863.3h.01M484.9 813.3h.01M483.7 791.2h.01M465.6 864.0h.01M487.0 837.7h.01M501.0 837.7h.01M609.1 765.3h.01M481.8 845.6h.01M641.6 786.1h.01M478.5 865.7h.01M474.0 858.6h.01M625.9 771.6h.01M476.7 820.2h.01M623.3 777.4h.01M479.0 823.3h.01M610.6 760.6h.01M483.7 853.3h.01M503.3 800.1h.01M475.9 858.6h.01M500.7 825.5h.01M549.3 714.3h.01M638.8 808.1h.01M559.8 837.7h.01M629.6 768.8h.01M467.9 860.1h.01M463.8 820.8h.01M468.5 837.9h.01M570.9 911.6h.01M492.8 861.5h.01M484.8 857.5h.01M470.7 824.0h.01M462.4 819.9h.01M648.0 772.1h.01M635.5 740.5h.01M467.3 853.5h.01M478.4 816.8h.01M501.6 798.0h.01M641.0 801.2h.01M480.3 823.6h.01M474.8 861.8h.01M477.9 836.2h.01M490.2 803.7h.01M644.2 771.1h.01M487.5 872.7h.01M460.9 851.9h.01M498.4 825.3h.01M480.0 846.6h.01M469.2 851.1h.01M639.9 758.5h.01M483.6 866.6h.01M504.2 809.9h.01M485.3 803.3h.01M481.8 835.0h.01M475.7 857.8h.01M632.7 747.8h.01M479.9 803.5h.01M637.7 773.4h.01M613.7 775.7h.01M459.8 807.8h.01M471.7 841.3h.01M484.3 858.9h.01M471.4 808.5h.01M647.8 821.5h.01M469.5 819.4h.01M496.9 823.6h.01M483.6 793.3h.01M470.1 831.2h.01M491.4 827.0h.01M638.9 744.4h.01M473.3 866.5h.01M500.7 837.8h.01M631.1 774.1h.01M481.4 844.5h.01M468.2 803.2h.01M484.7 804.6h.01M628.9 773.9h.01M607.5 807.2h.01M483.8 865.9h.01M605.1 762.6h.01M492.6 800.2h.01M496.0 827.1h.01M517.7 823.4h.01M629.0 791.9h.01M639.7 745.9h.01" stroke="#00BA38" stroke-width="3.7" stroke-linecap="round" fill="none"/>
<path d="M665.0 976.7h.01M644.2 965.3h.01M625.5 983.5h.01M665.8 960.7h.01M654.5 1004.4h.01M651.7 984.6h.01M662.3 980.4h.01M644.9 993.5h.01M649.7 993.1h.01M635.9 1009.5h.01M646.0 985.3h.01M656.9 996.1h.01M652.2 963.3h.01M624.0 988.7h.01M663.0 1004.7h.01M636.2 982.5h.01M633.8 993.6h.01M646.6 1000.3h.01M636.8 977.9h.01M618.0 972.1h.01M612.9 984.5h.01M662.8 995.3h.01M652.0 1005.7h.01M657.2 1011.7h.01M639.4 985.7h.01M627.2 971.1h.01M649.0 1013.8h.01M649.3 976.3h.01M631.3 961.3h.01M668.8 953.5h.01M653.8 986.8h.01M658.2 961.5h.01M659.5 987.2h.01M643.1 977.8h.01M629.9 983.8h.01M635.5 999.7h.01M651.9 996.2h.01M660.8 984.3h.01M645.2 965.8h.01M636.2 1011.4h.01M650.4 977.0h.01M639.3 995.8h.01M650.9 973.8h.01M655.2 964.2h.01M649.2 985.7h.01M612.6 973.2h.01M638.7 981.7h.01M654.9 987.3h.01M651.5 967.6h.01M618.9 1005.9h.01M613.6 976.3h.01M619.2 984.4h.01M642.4 957.4h.01M629.4 980.2h.01M667.8 964.0h.01M606.9 980.7h.01M604.6 981.2h.01M631.1 973.1h.01M626.1 979.1h.01M659.2 1007.8h.01M640.5 999.3h.01M654.0 1017.0h.01M641.2 973.5h.01M632.4 973.9h.01M617.7 972.2h.01M653.2 960.7h.01M642.9 994.3h.01M639.3 994.3h.01M631.5 997.9h.01M668.5 980.7h.01M637.1 976.6h.01M663.5 996.9h.01M634.2 982.3h.01M634.6 971.6h.01M648.2 980.0h.01M625.8 969.7h.01M658.3 957.3h.01M660.8 1000.4h.01M617.2 982.4h.01M636.6 961.2h.01M624.8 998.5h.01M650.4 970.5h.01M631.1 988.5h.01M649.3 1008.4h.01M659.9 983.4h.01M661.5 973.8h.01M639.6 980.0h.01M619.6 978.6h.01M647.9 965.1h.01M651.5 995.4h.01M632.4 1003.1h.01M659.0 1005.7h.01M638.6 1016.2h.01M626.8 1005.4h.01M652.4 979.8h.01M649.0 993.9h.01M658.9 993.5h.01M647.4 981.2h.01M655.3 1001.3h.01M663.9 955.3h.01M654.1 983.7h.01M638.1 997.2h.01M642.4 1018.8h.01M616.7 985.7h.01M668.9 984.0h.01M671.8 992.4h.01" stroke="#00C19F" stroke-width="3.7" stroke-linecap="round" fill="none"/>
<path d="M517.9 664.1h.01M523.5 704.7h.01M506.4 666.4h.01M513.9 660.3h.01M481.0 728.6h.01M503.8 669.4h.01M506.4 685.7h.01M538.7 951.9h.01M477.0 730.4h.01M660.9 718.9h.01M503.9 673.5h.01M492.3 670.7h.01M535.4 939.6h.01M482.1 729.2h.01M538.1 680.6h.01M554.8 663.6h.01M534.0 652.8h.01M682.7 744.8h.01M532.5 682.8h.01M508.9 670.3h.01M530.7 688.8h.01M526.0 663.6h.01M540.3 655.7h.01M515.4 671.5h.01M488.3 713.2h.01M508.9 660.9h.01M473.6 734.9h.01M516.6 663.4h.01M473.4 738.0h.01M500.4 668.5h.01M510.4 660.5h.01M553.1 841.3h.01M529.4 685.6h.01M475.7 728.4h.01M674.4 750.1h.01M506.0 684.1h.01M645.2 795.5h.01M502.6 661.8h.01M503.6 667.6h.01M502.7 677.9h.01M511.8 674.8h.01M539.1 659.8h.01M534.2 942.4h.01M514.2 670.3h.01M527.3 670.3h.01M528.7 658.9h.01M535.3 670.0h.01M506.5 662.5h.01M490.2 675.0h.01M472.7 737.2h.01M524.6 667.2h.01M643.9 816.9h.01M497.5 664.9h.01M520.7 688.9h.01M542.6 938.4h.01M663.6 733.7h.01M663.5 803.5h.01M499.6 672.8h.01M474.8 819.5h.01M480.8 725.5h.01M514.0 661.9h.01M534.1 678.0h.01M501.1 687.1h.01M498.8 667.8h.01M566.8 815.1h.01M494.6 670.8h.01M487.9 707.0h.01M484.7 708.5h.01M510.0 683.9h.01M524.6 675.3h.01M504.6 656.9h.01M475.0 731.3h.01M530.1 675.5h.01M477.7 725.2h.01M530.6 671.8h.01M665.4 715.6h.01M501.2 673.0h.01M497.9 684.3h.01M532.4 644.4h.01M541.6 682.9h.01M634.4 877.4h.01M521.9 671.5h.01M567.3 943.6h.01M648.9 808.2h.01M680.8 745.4h.01M549.4 652.7h.01M503.3 677.2h.01M520.1 769.7h.01M510.6 684.7h.01M516.9 676.0h.01M527.5 677.3h.01M533.5 937.8h.01M518.8 658.2h.01M505.9 657.6h.01M511.5 662.8h.01M612.9 787.7h.01M512.9 662.2h.01M508.7 676.4h.01" stroke="#00B9E3" stroke-width="3.7" stroke-linecap="round" fill="none"/>
<path d="M522.8 864.2h.01M645.1 684.7h.01M648.8 679.1h.01M527.3 880.1h.01M601.7 885.3h.01M524.8 857.8h.01M526.0 870.7h.01M586.9 760.0h.01M642.8 674.7h.01M623.6 689.4h.01M483.7 826.7h.01M626.3 685.0h.01M586.6 783.4h.01M620.6 691.6h.01M611.0 903.1h.01M608.6 919.1h.01M614.6 801.0h.01M624.3 688.2h.01M522.6 852.8h.01M520.2 862.8h.01M619.4 907.0h.01M649.6 675.7h.01M520.0 863.1h.01M527.3 885.8h.01M634.6 681.9h.01M633.0 684.6h.01M523.8 884.2h.01M521.1 874.0h.01M637.4 687.4h.01M527.0 882.1h.01M541.6 900.6h.01M525.0 874.5h.01M631.7 675.6h.01M523.1 875.0h.01M647.5 674.6h.01M638.3 680.6h.01M639.2 686.0h.01M523.5 868.0h.01M620.1 697.2h.01M597.2 800.1h.01M635.3 680.3h.01M639.7 690.9h.01M584.8 772.6h.01M645.9 678.9h.01M594.0 792.5h.01M633.4 702.0h.01M640.7 689.4h.01M643.2 677.7h.01M525.6 850.6h.01M663.8 875.3h.01M627.6 694.4h.01M643.7 682.2h.01M619.1 952.8h.01M642.3 683.4h.01M627.5 696.3h.01M569.1 945.6h.01M618.2 680.7h.01M644.5 680.9h.01" stroke="#619CFF" stroke-width="3.7" stroke-linecap="round" fill="none"/>
<path d="M430.5 791.6h.01M430.6 780.8h.01M434.2 793.3h.01M434.5 778.3h.01M423.5 791.4h.01M420.9 789.6h.01M429.1 794.2h.01M445.2 789.3h.01M428.8 796.1h.01M432.6 779.5h.01M448.6 781.9h.01" stroke="#DB72FB" stroke-width="3.7" stroke-linecap="round" fill="none"/>
<path d="M540.1 955.8h.01M527.6 958.0h.01M539.6 953.4h.01" stroke="#FF61C3" stroke-width="3.7" stroke-linecap="round" fill="none"/>
<path d="M585.9 742.9h.01M498.7 715.1h.01M586.0 743.3h.01M570.2 678.5h.01M536.5 810.4h.01M496.4 779.9h.01M561.0 803.9h.01M605.4 701.2h.01M609.1 767.1h.01M549.8 692.8h.01M551.6 760.2h.01M566.5 685.1h.01M499.2 705.1h.01M620.5 760.0h.01M504.8 766.2h.01M553.1 942.2h.01M514.5 733.1h.01M567.2 806.5h.01M553.9 734.5h.01M527.7 755.1h.01M490.3 773.2h.01M497.6 774.3h.01M553.6 783.0h.01M551.5 772.3h.01M533.2 800.8h.01M540.2 793.1h.01M510.1 785.9h.01M610.4 940.2h.01M556.3 825.7h.01M551.9 738.0h.01M544.8 776.3h.01M524.6 790.3h.01M555.7 801.5h.01M566.2 741.9h.01M519.0 806.9h.01M535.8 736.7h.01M552.2 751.1h.01M556.3 708.6h.01M517.3 708.9h.01M516.7 731.9h.01M516.4 777.5h.01M560.0 833.8h.01M545.3 758.2h.01M546.0 701.1h.01M583.0 723.4h.01M544.2 762.6h.01M564.8 803.2h.01M570.2 779.2h.01M584.4 693.6h.01M534.5 741.2h.01M515.3 734.9h.01M642.0 751.8h.01M566.0 690.6h.01M542.9 688.0h.01M583.6 696.4h.01M537.4 791.6h.01M638.0 722.2h.01M605.9 780.3h.01M632.0 778.4h.01M527.7 692.9h.01M560.7 828.1h.01M543.2 807.8h.01M554.7 832.5h.01M501.4 711.8h.01M592.8 801.4h.01M566.4 744.8h.01M574.9 732.5h.01M494.2 742.8h.01M546.1 770.2h.01M561.9 793.1h.01M513.9 740.0h.01M562.8 738.7h.01M554.5 756.7h.01M513.9 779.0h.01M592.6 750.0h.01M579.7 719.2h.01M578.2 784.4h.01M582.8 772.5h.01M629.7 758.0h.01M580.0 666.7h.01M551.6 800.6h.01M545.8 822.9h.01M588.2 791.4h.01M542.5 770.4h.01M566.6 812.4h.01M564.8 774.1h.01M539.7 779.8h.01M593.2 776.8h.01M634.3 731.8h.01M529.7 813.1h.01M483.8 765.1h.01M536.2 822.1h.01M527.3 784.2h.01M529.9 754.7h.01M532.1 807.5h.01M509.0 738.9h.01M566.2 769.8h.01M626.7 759.2h.01M548.2 817.9h.01M598.9 784.5h.01M518.4 752.1h.01M493.1 749.7h.01M582.5 775.7h.01M507.7 736.2h.01M579.6 767.4h.01M587.8 713.7h.01M557.8 781.8h.01M513.7 705.7h.01M577.6 782.5h.01M524.9 741.8h.01M603.7 697.1h.01M640.5 790.9h.01M586.2 693.4h.01M532.5 785.4h.01M558.0 777.3h.01M551.7 775.5h.01M579.2 756.4h.01M506.9 765.4h.01M538.0 814.4h.01M596.4 757.2h.01M559.5 746.8h.01M534.1 809.4h.01M602.7 768.2h.01M543.0 776.5h.01M551.1 777.8h.01M501.2 752.5h.01M570.4 806.2h.01M600.2 698.6h.01M545.3 817.3h.01M567.9 812.0h.01M589.2 777.0h.01M528.0 721.7h.01M549.3 758.8h.01M631.5 860.3h.01M522.4 772.2h.01M511.1 772.5h.01M624.8 716.2h.01M527.4 695.7h.01M600.7 774.8h.01M566.7 776.4h.01M561.2 768.5h.01M541.5 718.9h.01M549.4 829.0h.01M523.8 799.4h.01M608.3 723.0h.01M560.9 760.1h.01M561.5 700.8h.01M556.6 822.1h.01M551.2 796.3h.01M529.1 703.9h.01M569.8 779.7h.01M548.4 787.2h.01M588.1 802.6h.01M549.8 782.7h.01M535.1 731.7h.01M502.2 779.0h.01M533.3 752.6h.01M539.5 824.7h.01M561.0 709.6h.01M553.0 813.7h.01M524.4 784.8h.01M557.0 806.3h.01M599.7 705.0h.01M552.8 837.0h.01M579.1 756.0h.01M552.0 804.6h.01M511.6 775.3h.01M551.2 801.5h.01M536.0 761.6h.01M526.2 785.5h.01M593.0 763.7h.01M492.8 776.0h.01M567.3 773.2h.01M542.8 816.7h.01M596.7 796.3h.01M618.7 739.2h.01M530.7 798.1h.01M530.0 784.5h.01M520.0 804.9h.01M558.1 674.4h.01M595.4 747.1h.01M558.2 805.6h.01M548.7 736.1h.01M590.7 695.1h.01M526.0 770.2h.01M551.4 717.4h.01M586.2 777.8h.01M520.4 740.7h.01M593.5 691.7h.01M559.2 784.7h.01M635.0 806.6h.01M555.5 817.6h.01M599.9 704.4h.01M521.2 725.8h.01M503.8 709.1h.01M564.4 804.2h.01M551.9 696.5h.01M548.7 865.1h.01M576.8 766.6h.01M583.0 810.2h.01M536.5 693.9h.01M495.4 744.8h.01M605.2 744.8h.01M569.7 763.5h.01M565.6 668.3h.01M543.0 714.6h.01M571.8 815.7h.01M559.6 778.8h.01M547.5 740.2h.01M585.3 808.5h.01M525.2 694.3h.01M536.0 794.9h.01M532.9 734.8h.01M549.3 679.3h.01M558.0 832.9h.01M560.6 698.0h.01M595.6 726.6h.01M602.9 784.7h.01M531.6 804.5h.01M569.1 717.8h.01M520.0 729.2h.01M547.4 783.6h.01M573.4 780.4h.01M532.1 746.8h.01M574.7 816.7h.01M555.3 814.2h.01M600.9 706.7h.01M529.9 710.0h.01M548.1 792.5h.01M553.1 759.3h.01M556.5 750.1h.01M518.1 710.1h.01M550.5 827.6h.01M572.1 795.8h.01M575.8 798.3h.01M524.3 732.3h.01M600.5 706.8h.01M551.1 803.1h.01M517.1 716.7h.01M616.2 741.0h.01M570.7 809.4h.01M587.6 786.7h.01M572.4 780.2h.01M599.4 965.7h.01M578.7 704.0h.01M487.4 742.3h.01M510.3 726.9h.01M529.2 808.7h.01M486.5 742.6h.01M636.3 745.5h.01M560.4 758.7h.01M555.0 834.1h.01M559.5 816.2h.01M565.4 848.2h.01M564.7 752.3h.01M621.6 808.4h.01M527.5 715.5h.01M547.5 787.4h.01M537.4 705.0h.01M617.9 811.3h.01M538.4 823.8h.01M544.2 793.0h.01M568.3 764.4h.01M586.6 725.1h.01M489.2 757.9h.01M583.5 681.6h.01M548.6 793.4h.01M566.1 759.0h.01M548.9 819.7h.01M535.4 747.8h.01M536.9 819.0h.01M583.5 770.1h.01M525.4 800.5h.01M544.5 810.5h.01M516.3 772.5h.01M488.8 736.9h.01M537.6 774.8h.01M576.8 784.4h.01M561.9 775.0h.01M538.8 831.7h.01M545.9 767.8h.01M573.3 767.2h.01M545.5 768.7h.01M549.9 697.4h.01M573.0 804.8h.01M546.4 690.0h.01M574.0 764.8h.01M564.6 755.3h.01M541.8 758.2h.01M518.6 729.6h.01M522.4 794.2h.01M570.1 773.5h.01M557.8 676.1h.01M535.5 834.9h.01M618.8 718.9h.01M555.5 791.9h.01M558.0 811.6h.01M549.5 766.5h.01M572.0 791.0h.01M579.8 744.6h.01M590.6 782.3h.01M556.9 824.2h.01M609.1 772.8h.01M535.5 725.3h.01M540.8 682.9h.01M646.9 738.6h.01M551.4 772.8h.01M521.1 768.4h.01M552.5 781.2h.01M577.1 775.5h.01M590.4 780.7h.01M510.2 766.9h.01M565.7 821.0h.01M529.6 822.4h.01M536.4 822.5h.01M583.4 790.2h.01M593.0 774.7h.01M559.7 748.0h.01M556.7 777.0h.01M517.4 767.1h.01M526.8 783.7h.01M572.4 689.5h.01M579.0 705.6h.01M523.1 760.3h.01M595.1 798.5h.01M572.5 718.2h.01M551.3 764.0h.01M602.2 710.4h.01M588.3 800.1h.01M543.4 817.3h.01M500.0 733.5h.01M546.5 740.1h.01M517.4 754.1h.01M533.8 754.6h.01M572.9 787.6h.01M523.2 775.5h.01M561.5 691.0h.01M560.1 767.4h.01M546.0 816.1h.01M521.1 746.4h.01M532.9 770.0h.01M578.2 717.2h.01M578.5 795.0h.01M516.7 785.7h.01M520.7 766.4h.01M551.6 726.5h.01M620.8 728.5h.01M555.1 681.1h.01M554.4 737.4h.01M557.8 779.6h.01M597.5 753.0h.01M574.5 814.7h.01M602.7 722.1h.01M489.8 755.5h.01M544.4 768.6h.01M545.9 813.1h.01M577.5 712.3h.01M549.6 832.4h.01M557.8 785.4h.01M535.5 736.8h.01M581.6 743.1h.01M639.8 736.7h.01M533.7 706.4h.01M558.3 712.4h.01M572.1 765.8h.01M606.1 728.7h.01M566.8 804.0h.01M561.8 740.9h.01M534.2 793.7h.01" stroke="#F8766D" stroke-width="3.7" stroke-linecap="round" fill="none"/>
<path d="M623.2 799.8h.01M633.2 920.9h.01M551.7 840.8h.01M628.5 921.5h.01M564.5 910.4h.01M577.1 849.9h.01M606.3 906.8h.01M601.0 794.1h.01M588.1 871.7h.01M611.0 806.3h.01M492.0 831.9h.01M574.9 953.9h.01M556.8 922.0h.01M627.0 925.8h.01M548.5 899.9h.01M596.9 835.0h.01M628.7 771.3h.01M547.0 936.7h.01M590.1 913.4h.01M590.5 954.0h.01M598.0 926.9h.01M553.3 901.4h.01M608.2 932.7h.01M551.3 857.3h.01M578.3 832.8h.01M540.9 844.6h.01M559.8 839.0h.01M564.1 886.9h.01M538.5 841.8h.01M578.7 851.6h.01M578.7 939.9h.01M584.3 942.6h.01M628.7 933.5h.01M594.1 904.5h.01M604.8 835.3h.01M550.6 907.3h.01M618.7 919.2h.01M541.7 855.9h.01M626.0 842.4h.01M623.9 853.3h.01M589.8 941.2h.01M567.8 925.3h.01M588.2 914.8h.01M609.2 961.4h.01M651.1 832.6h.01M626.2 948.6h.01M547.2 888.1h.01M564.6 953.6h.01M638.9 908.8h.01M590.4 871.8h.01M596.9 928.3h.01M554.5 911.5h.01M621.4 926.6h.01M598.1 821.0h.01M597.4 809.7h.01M570.3 921.0h.01M582.3 932.4h.01M595.6 958.1h.01M543.5 886.1h.01M574.0 942.5h.01M576.8 960.4h.01M531.1 922.0h.01M581.9 824.7h.01M586.8 834.3h.01M547.8 907.5h.01M572.7 856.1h.01M548.4 947.5h.01M580.1 948.7h.01M573.3 960.5h.01M591.8 963.8h.01M600.4 940.9h.01M577.7 940.7h.01M542.5 940.3h.01M607.7 859.4h.01M610.2 851.2h.01M532.5 896.9h.01M582.2 907.7h.01M554.2 920.9h.01M584.5 912.5h.01M583.9 923.5h.01M580.8 874.7h.01M578.0 944.2h.01M567.0 874.9h.01M633.2 860.5h.01M602.9 899.3h.01M615.6 944.1h.01M580.0 940.3h.01M602.3 962.5h.01M623.1 820.8h.01M544.1 883.4h.01M554.5 850.3h.01M629.3 769.1h.01M629.9 774.0h.01M629.8 941.8h.01M624.2 880.4h.01M555.3 862.2h.01M528.9 850.4h.01M585.7 843.7h.01M564.7 939.1h.01M639.3 901.2h.01M557.4 874.0h.01M571.9 887.5h.01M574.0 863.4h.01M578.7 947.9h.01M542.8 848.2h.01M549.2 855.3h.01M614.3 847.6h.01M620.4 811.4h.01M606.8 852.7h.01M600.6 880.9h.01M586.4 824.6h.01M605.9 898.2h.01M597.9 830.0h.01M629.1 894.1h.01M545.3 924.1h.01M588.5 947.6h.01M544.5 854.4h.01M612.3 815.1h.01M582.3 915.9h.01M599.4 962.5h.01M611.4 844.4h.01M619.9 913.2h.01M580.3 891.7h.01M603.3 939.1h.01M561.5 957.7h.01M618.0 837.0h.01M577.6 924.8h.01M605.3 946.1h.01M575.4 952.3h.01M640.5 773.9h.01M600.7 908.5h.01M587.4 880.2h.01M594.8 898.4h.01M606.6 906.9h.01M607.2 810.5h.01M594.9 961.6h.01M551.8 878.0h.01M552.7 948.0h.01M584.4 896.1h.01M547.4 891.4h.01M632.9 845.7h.01M578.0 883.0h.01M623.5 836.4h.01M628.7 855.2h.01M550.1 918.4h.01M569.9 966.7h.01M546.8 869.2h.01M570.5 957.4h.01M617.9 959.4h.01M583.7 884.1h.01M591.1 935.6h.01M539.6 925.9h.01M583.8 913.6h.01M564.3 893.0h.01M556.4 894.8h.01M642.1 921.9h.01M588.9 870.5h.01M546.2 905.9h.01M551.5 837.8h.01M568.4 914.6h.01M582.1 965.1h.01M616.0 944.7h.01M620.5 862.6h.01M559.8 852.3h.01M530.7 870.0h.01M618.1 765.9h.01M602.1 813.7h.01M550.1 888.6h.01M580.8 899.8h.01M519.4 866.4h.01M541.4 899.4h.01M619.8 841.4h.01M571.4 863.5h.01M585.6 910.3h.01M623.6 876.1h.01M579.7 833.9h.01M569.0 946.9h.01M585.3 949.4h.01M555.0 923.3h.01M582.2 888.5h.01M599.3 885.5h.01M577.4 833.3h.01M586.0 949.7h.01M592.1 855.3h.01M604.8 968.1h.01M582.2 902.7h.01M537.0 916.8h.01M590.0 919.0h.01M609.9 888.9h.01M570.5 839.5h.01M567.2 886.7h.01M617.4 817.5h.01M539.6 845.6h.01M588.5 894.1h.01M586.1 918.8h.01M630.7 845.1h.01M586.0 871.5h.01M593.6 866.7h.01M549.7 865.6h.01M605.3 827.7h.01M585.3 930.3h.01M563.1 848.1h.01M545.0 895.3h.01M631.8 846.7h.01M624.8 870.7h.01M619.3 881.1h.01M541.7 892.7h.01M625.2 916.0h.01M605.9 958.1h.01M620.8 878.3h.01M565.4 891.3h.01M571.1 914.1h.01M546.8 872.0h.01M548.0 869.4h.01M565.9 941.5h.01M570.1 940.7h.01M597.5 899.3h.01M548.4 905.2h.01M568.1 936.7h.01M599.6 951.7h.01M579.2 907.3h.01M588.9 938.8h.01M601.3 888.4h.01M565.7 853.8h.01M554.6 907.7h.01M595.7 905.5h.01M638.4 892.5h.01M544.6 917.0h.01M581.1 884.5h.01M564.9 880.7h.01M557.2 858.9h.01M585.2 927.4h.01M590.8 845.1h.01M580.8 904.5h.01M548.7 853.1h.01M571.0 925.8h.01M580.4 967.1h.01M532.0 907.0h.01M553.3 862.4h.01M539.3 840.9h.01M595.9 912.9h.01M537.5 845.3h.01M583.3 938.3h.01M575.9 944.1h.01M617.8 952.2h.01M491.4 805.0h.01M591.7 935.4h.01M600.3 918.6h.01M561.3 884.6h.01M570.2 947.6h.01M562.6 922.0h.01M593.0 919.2h.01M569.4 845.0h.01M556.0 907.5h.01M597.3 867.4h.01M568.3 926.1h.01M576.7 915.2h.01M556.2 843.6h.01M566.3 928.8h.01M588.4 823.8h.01M535.6 867.7h.01M548.1 923.2h.01M558.4 855.2h.01M622.7 800.9h.01M573.0 949.1h.01M561.5 845.6h.01M586.6 965.4h.01M551.3 854.3h.01M564.0 895.5h.01M598.8 832.4h.01M565.0 848.3h.01M564.8 875.0h.01M624.4 919.7h.01M594.2 810.3h.01M584.7 873.7h.01M576.3 953.6h.01M625.2 949.7h.01M577.5 851.0h.01M579.8 854.1h.01M588.3 861.8h.01M567.2 887.8h.01M585.5 894.9h.01M538.1 870.2h.01M566.8 912.5h.01M552.4 915.2h.01M556.8 914.3h.01M543.0 878.0h.01M537.3 916.2h.01M565.4 923.7h.01M633.4 904.0h.01M558.8 859.8h.01M571.7 931.7h.01M570.3 924.8h.01M605.8 896.8h.01M599.4 791.3h.01M566.9 867.0h.01M581.7 966.2h.01M547.8 883.7h.01M610.3 964.0h.01M561.3 960.0h.01M569.2 908.5h.01M647.9 928.1h.01M558.4 934.9h.01M562.8 961.9h.01M605.9 805.6h.01M601.3 908.5h.01M562.4 958.5h.01M599.7 859.5h.01M534.0 734.7h.01M591.8 837.6h.01M595.3 916.7h.01M641.9 919.3h.01M619.2 764.3h.01M614.2 919.0h.01M560.1 847.8h.01M611.6 855.9h.01M596.8 825.7h.01M541.5 931.5h.01M582.6 871.0h.01M603.8 879.6h.01M603.9 851.9h.01M535.5 907.5h.01M580.8 875.7h.01M574.0 920.7h.01M586.4 974.3h.01M628.5 945.4h.01M555.8 959.9h.01M588.7 899.4h.01M582.8 938.6h.01M554.9 843.6h.01M578.4 934.6h.01M598.8 896.5h.01M607.7 838.5h.01M576.4 908.6h.01M576.1 857.5h.01M595.5 928.5h.01M571.2 866.9h.01M596.5 905.9h.01M550.7 929.7h.01M604.1 942.0h.01M557.4 920.1h.01M584.3 925.7h.01M617.4 958.5h.01M593.9 871.1h.01M592.7 944.4h.01M578.1 837.2h.01M561.4 905.7h.01M568.6 969.3h.01M628.3 892.0h.01M626.8 828.5h.01M540.3 869.9h.01M608.1 904.3h.01M629.4 822.5h.01M581.2 872.4h.01M640.2 887.6h.01M557.1 863.9h.01M625.8 904.8h.01M597.4 847.5h.01M578.1 966.4h.01M562.1 919.8h.01M571.5 950.7h.01M581.6 897.1h.01M548.5 879.7h.01M583.0 901.7h.01M577.2 921.3h.01M618.2 867.2h.01M580.4 964.1h.01M630.3 900.6h.01M555.4 924.7h.01M635.9 791.7h.01M571.9 956.3h.01M614.2 950.7h.01M612.4 800.2h.01M600.3 940.0h.01M619.5 844.4h.01M626.8 934.3h.01M566.9 939.5h.01M594.1 904.8h.01M597.2 885.4h.01M551.4 858.8h.01M550.4 845.7h.01M555.8 842.0h.01M573.0 929.8h.01M547.5 878.8h.01M540.6 941.6h.01M587.3 850.7h.01M603.2 823.4h.01M616.0 894.3h.01M608.1 826.4h.01M608.7 906.6h.01M580.2 961.5h.01M539.9 875.8h.01M584.0 882.0h.01M561.9 921.5h.01M563.6 870.2h.01M559.4 919.8h.01M543.1 913.5h.01M578.2 874.8h.01M571.8 900.0h.01M614.7 902.0h.01M572.7 858.6h.01M588.3 894.3h.01M567.2 893.2h.01M557.9 837.6h.01M553.1 882.9h.01M575.6 874.8h.01M611.6 949.9h.01M631.5 829.7h.01M597.5 896.4h.01M583.6 925.8h.01M580.7 934.2h.01M616.4 929.5h.01M582.4 913.9h.01M571.7 832.3h.01M579.9 907.2h.01M613.1 942.3h.01M603.0 926.4h.01M583.9 842.6h.01M592.0 938.6h.01M560.7 925.2h.01M550.6 893.9h.01M546.7 874.0h.01M597.9 848.9h.01M552.8 940.8h.01M582.4 946.3h.01M576.0 920.4h.01M603.4 934.3h.01M608.9 817.2h.01M566.8 939.7h.01M624.1 798.2h.01M611.2 928.9h.01M534.8 915.3h.01M615.0 930.5h.01M648.7 867.5h.01M595.5 908.2h.01M611.5 874.5h.01M643.4 861.4h.01M554.1 912.6h.01M534.0 842.6h.01M597.4 858.6h.01M622.8 844.0h.01M549.5 868.7h.01M594.0 890.6h.01M566.1 919.6h.01M538.5 840.2h.01M607.0 924.1h.01M532.5 847.5h.01M543.9 939.2h.01M616.5 856.8h.01M559.5 846.1h.01M583.1 931.3h.01M564.3 866.4h.01M548.9 918.9h.01M566.4 888.1h.01M554.8 915.8h.01" stroke="#D39200" stroke-width="3.7" stroke-linecap="round" fill="none"/>
<path d="M664.7 828.6h.01M676.7 853.7h.01M669.3 857.1h.01M689.7 802.7h.01M653.8 838.2h.01M656.3 833.0h.01M643.5 833.4h.01M643.8 896.0h.01M635.8 801.1h.01M656.4 775.3h.01M659.5 835.2h.01M671.9 879.0h.01M666.9 879.2h.01M680.2 818.3h.01M654.1 862.6h.01M663.0 769.3h.01M686.3 804.3h.01M459.1 802.0h.01M673.2 844.0h.01M656.3 806.9h.01M683.2 785.8h.01M681.7 794.6h.01M643.1 826.5h.01M668.9 839.7h.01M649.9 770.3h.01M682.9 850.3h.01M682.8 843.7h.01M663.7 766.0h.01M661.8 782.2h.01M641.7 772.9h.01M669.4 879.7h.01M663.0 827.7h.01M685.3 796.7h.01M656.1 824.7h.01M651.3 831.8h.01M674.1 771.9h.01M678.9 815.1h.01M652.2 816.9h.01M680.7 775.4h.01M657.5 812.5h.01M641.4 801.2h.01M687.6 841.2h.01M657.6 813.4h.01M647.7 878.6h.01M658.3 860.6h.01M678.6 822.3h.01M650.4 818.6h.01M663.0 811.7h.01M646.4 828.0h.01M680.5 776.4h.01M683.5 787.7h.01M655.5 814.3h.01M685.0 815.8h.01M565.0 778.6h.01M659.6 882.0h.01M672.0 828.5h.01M665.2 802.9h.01M659.0 834.5h.01M652.0 804.1h.01M617.4 786.7h.01M686.4 805.6h.01M673.8 875.3h.01M642.0 881.1h.01M645.2 855.9h.01M651.6 834.8h.01M655.5 888.8h.01M471.8 819.8h.01M645.8 821.9h.01M644.3 768.1h.01M646.5 800.5h.01M662.1 845.4h.01M651.7 895.2h.01M662.3 875.5h.01M652.5 762.6h.01M656.5 811.8h.01M649.2 870.5h.01M670.3 769.5h.01M661.3 865.5h.01M668.5 798.3h.01M672.2 819.6h.01M681.0 864.3h.01M660.5 830.5h.01M679.3 818.1h.01M642.5 778.9h.01M663.4 831.7h.01M644.8 789.1h.01M665.2 808.4h.01M660.6 870.3h.01M689.6 824.8h.01M689.0 792.2h.01M682.1 796.4h.01M669.2 812.8h.01M690.1 791.3h.01M652.5 798.3h.01M657.2 797.9h.01M678.0 828.1h.01M601.6 956.1h.01M670.5 859.9h.01M671.1 809.9h.01M672.2 826.8h.01M682.8 819.2h.01M539.4 764.0h.01M689.4 796.2h.01M665.8 877.6h.01M658.9 806.9h.01M667.6 824.3h.01M662.4 824.0h.01M619.5 800.3h.01M634.3 780.3h.01M678.2 863.8h.01M667.2 762.2h.01M657.4 786.9h.01M688.9 811.0h.01M684.3 815.4h.01M665.8 834.5h.01M665.8 787.6h.01M652.9 812.9h.01M641.0 800.5h.01M654.1 799.5h.01M674.4 796.2h.01M655.5 890.2h.01M663.3 867.6h.01M669.7 766.8h.01M685.9 809.3h.01M661.5 877.9h.01M649.8 842.5h.01M657.0 827.5h.01M682.2 797.4h.01M682.7 782.8h.01M665.7 872.7h.01M683.0 800.5h.01M665.9 872.1h.01M684.5 833.9h.01M665.7 774.2h.01M685.9 788.9h.01M627.2 768.5h.01M684.4 774.5h.01M667.8 792.7h.01M661.1 793.0h.01M672.1 872.9h.01M651.6 863.0h.01M650.1 854.4h.01M663.3 785.2h.01M658.5 851.2h.01M668.0 768.3h.01M645.3 847.3h.01M671.4 767.7h.01M644.5 789.0h.01M666.0 801.9h.01M664.3 833.2h.01M686.0 842.8h.01M683.1 801.8h.01M677.8 785.1h.01M662.4 815.4h.01M643.6 852.5h.01M644.3 873.9h.01M674.7 793.2h.01M656.4 813.0h.01M687.6 853.2h.01M683.9 821.7h.01M634.5 877.6h.01M643.9 847.6h.01M645.0 876.6h.01M670.0 789.5h.01M592.1 932.5h.01M646.6 777.7h.01M651.4 864.0h.01M683.9 849.4h.01M691.2 794.7h.01M648.0 809.4h.01M684.5 798.0h.01M681.2 801.9h.01M682.6 850.2h.01M659.2 872.2h.01M653.0 877.3h.01M671.8 799.6h.01M673.7 853.0h.01M667.8 808.6h.01M687.3 868.1h.01M644.5 769.3h.01M648.3 807.3h.01M667.2 793.5h.01M670.4 831.6h.01M676.6 793.5h.01M668.4 850.2h.01M686.5 791.0h.01M681.7 775.8h.01M681.4 789.3h.01M659.9 770.8h.01M657.6 784.1h.01M687.4 807.1h.01M682.2 772.4h.01M650.0 893.0h.01" stroke="#93AA00" stroke-width="3.7" stroke-linecap="round" fill="none"/>
<path d="M469.0 799.3h.01M625.4 771.0h.01M629.0 773.6h.01M645.5 923.7h.01M505.2 816.6h.01M611.2 752.3h.01M479.5 841.3h.01M471.3 847.4h.01M485.6 807.4h.01M482.8 850.8h.01M476.7 857.9h.01M501.6 823.7h.01M481.9 876.4h.01M463.4 814.2h.01M461.7 833.4h.01M471.5 831.7h.01M465.2 863.2h.01M485.3 821.0h.01M477.2 822.2h.01M477.0 861.6h.01M583.9 745.8h.01M485.5 857.6h.01M634.9 790.5h.01M482.9 832.6h.01M482.8 837.4h.01M486.6 861.2h.01M616.9 771.4h.01M503.2 723.6h.01M477.6 854.2h.01M459.4 816.4h.01M489.3 792.5h.01M495.1 818.8h.01M499.6 814.7h.01M469.5 861.6h.01M630.8 766.9h.01M490.3 874.7h.01M478.3 861.7h.01M487.8 839.2h.01M482.1 861.2h.01M588.1 838.0h.01M502.6 833.3h.01M623.2 741.1h.01M488.0 846.2h.01M504.5 850.6h.01M638.0 803.5h.01M488.1 849.6h.01M477.2 864.0h.01M508.8 819.3h.01M472.3 863.0h.01M475.2 856.8h.01M456.1 839.2h.01M466.2 859.8h.01M492.0 830.1h.01M629.6 769.7h.01M457.8 821.3h.01M638.2 756.9h.01M482.7 857.9h.01M590.2 818.6h.01M623.0 771.9h.01M489.1 796.2h.01M478.8 845.8h.01M467.9 850.2h.01M477.4 806.4h.01M656.3 922.2h.01M497.4 803.0h.01M475.0 859.5h.01M462.2 805.3h.01M460.0 789.6h.01M508.6 836.3h.01M562.5 753.1h.01M470.2 844.0h.01M469.9 861.5h.01M498.5 836.8h.01M504.4 825.1h.01M482.2 760.3h.01M638.7 757.8h.01M474.4 809.4h.01M486.7 842.8h.01M498.4 812.2h.01M630.4 766.9h.01M637.8 741.5h.01M468.0 841.4h.01M632.8 757.6h.01M475.9 809.3h.01M480.6 812.7h.01M466.9 854.2h.01M467.6 856.0h.01M469.6 857.0h.01M462.3 809.5h.01M481.3 810.0h.01M477.8 844.1h.01M462.3 840.7h.01M486.3 877.9h.01M497.5 871.1h.01M631.5 778.0h.01M512.1 818.7h.01M510.7 824.6h.01M472.5 854.6h.01M486.0 810.3h.01M503.2 842.9h.01M467.7 872.4h.01M500.7 798.2h.01M644.3 876.0h.01M460.9 789.9h.01M475.5 866.3h.01M662.6 934.8h.01M495.7 825.6h.01M452.3 804.3h.01M473.6 837.9h.01M620.6 776.9h.01M492.3 822.3h.01M475.1 865.8h.01M651.9 922.9h.01M467.3 811.5h.01M464.3 858.3h.01M471.4 870.6h.01M490.7 822.2h.01M500.8 831.5h.01M636.0 783.3h.01M619.8 793.0h.01M495.2 819.6h.01M464.8 861.3h.01M488.0 861.6h.01M469.2 852.6h.01M480.2 822.1h.01M469.4 800.4h.01M630.7 763.4h.01M495.4 796.9h.01M497.5 814.4h.01M600.7 751.0h.01M486.2 838.5h.01M519.9 814.2h.01M466.2 814.4h.01M482.9 811.4h.01M495.0 808.9h.01M489.0 845.4h.01M466.0 857.3h.01M651.7 946.1h.01M479.1 861.6h.01M471.3 867.8h.01M623.2 764.9h.01M500.7 836.8h.01M632.1 746.8h.01M477.3 855.5h.01M473.5 874.8h.01M624.1 762.7h.01M472.2 786.5h.01M645.0 922.3h.01M489.9 852.2h.01M633.7 808.3h.01M640.2 803.8h.01M510.5 811.1h.01M463.0 845.4h.01M648.1 754.7h.01M473.0 863.0h.01M467.7 847.9h.01M472.8 852.5h.01M484.5 844.0h.01M485.2 844.0h.01M627.6 795.1h.01M465.3 825.0h.01M639.6 781.8h.01M476.6 863.2h.01M494.6 818.2h.01M480.8 819.1h.01M484.3 874.5h.01M475.4 820.4h.01M468.2 824.4h.01M614.3 742.1h.01M472.5 862.5h.01M474.0 866.7h.01M615.1 764.4h.01M487.9 844.0h.01M489.7 849.7h.01M464.8 824.2h.01M471.8 822.9h.01M481.3 864.3h.01M601.7 764.5h.01M478.9 831.3h.01M630.5 772.9h.01M633.8 777.0h.01M628.2 746.7h.01M464.2 829.7h.01M474.8 854.5h.01M474.2 854.4h.01M471.6 827.6h.01M452.8 811.2h.01M476.0 867.9h.01M622.2 750.0h.01M644.2 766.0h.01M471.2 815.1h.01M489.3 828.4h.01M473.5 798.2h.01M638.0 801.9h.01M617.4 772.7h.01M490.2 820.1h.01" stroke="#00BA38" stroke-width="3.7" stroke-linecap="round" fill="none"/>
<path d="M660.3 978.4h.01M659.9 989.2h.01M653.9 968.8h.01M651.9 981.2h.01M668.8 980.3h.01M639.1 1002.3h.01M602.5 985.3h.01M668.9 990.6h.01M624.3 980.6h.01M652.3 969.8h.01M638.0 1012.1h.01M659.3 992.8h.01M640.2 990.6h.01M598.7 987.0h.01M626.0 990.0h.01M633.0 985.0h.01M606.7 993.1h.01M642.5 979.6h.01M638.6 998.6h.01M621.0 990.1h.01M642.2 995.5h.01M638.6 971.3h.01M637.4 977.9h.01M658.1 975.4h.01M631.6 981.0h.01M660.2 965.6h.01M647.7 986.6h.01M660.1 1006.2h.01M660.9 986.5h.01M661.3 994.6h.01M636.3 1016.5h.01M641.6 973.4h.01M647.4 963.5h.01M654.8 982.3h.01M652.6 990.6h.01M627.4 997.2h.01M642.5 1009.3h.01M632.2 1009.4h.01M630.1 994.5h.01M652.5 1005.2h.01M656.7 957.3h.01M658.2 995.2h.01M624.4 999.6h.01M652.0 988.7h.01M644.7 987.1h.01M664.2 981.9h.01M629.7 1002.5h.01M621.3 969.5h.01M633.4 981.2h.01M642.0 965.3h.01M657.3 976.8h.01M640.7 992.8h.01M648.3 985.6h.01M660.7 997.7h.01M667.4 979.0h.01M620.2 972.4h.01M624.2 991.8h.01M667.7 977.0h.01M645.9 976.3h.01M638.4 995.4h.01M649.8 1023.3h.01M657.0 997.0h.01M627.8 978.8h.01M650.1 977.8h.01M667.8 959.8h.01M635.4 999.2h.01M653.7 989.1h.01M641.0 987.5h.01M629.6 1001.5h.01M654.8 984.3h.01M645.8 992.9h.01M644.7 1004.6h.01M648.5 1017.7h.01M657.9 1005.9h.01M635.7 995.8h.01M646.9 991.4h.01M643.8 986.8h.01M644.3 986.7h.01M648.1 979.8h.01M624.4 1003.6h.01M639.1 1005.5h.01M631.3 991.0h.01M627.8 985.2h.01M632.0 964.3h.01M666.8 966.2h.01M625.5 983.3h.01M638.1 1004.8h.01M649.6 990.9h.01M628.8 987.3h.01M644.0 1010.8h.01M664.8 970.6h.01M656.2 990.5h.01M644.6 1006.3h.01M628.1 1003.5h.01M664.1 986.7h.01M647.1 1002.4h.01M631.7 978.4h.01M640.0 977.8h.01M623.6 993.9h.01M632.0 982.2h.01M656.1 978.1h.01M664.3 997.1h.01M654.5 999.8h.01M656.7 971.3h.01M618.8 975.5h.01M655.4 988.5h.01M650.6 1020.6h.01M643.7 973.3h.01M621.8 990.4h.01M669.1 971.1h.01M652.5 968.8h.01M646.5 983.7h.01" stroke="#00C19F" stroke-width="3.7" stroke-linecap="round" fill="none"/>
<path d="M554.9 656.5h.01M521.2 663.1h.01M476.8 726.3h.01M500.5 678.3h.01M501.0 675.2h.01M532.8 665.4h.01M524.3 661.1h.01M498.3 670.2h.01M519.1 665.7h.01M506.2 673.3h.01M510.3 666.1h.01M659.5 722.6h.01M505.2 659.7h.01M517.4 669.1h.01M681.3 758.6h.01M527.6 668.8h.01M667.3 721.5h.01M501.6 681.1h.01M554.5 660.6h.01M511.3 679.6h.01M483.5 727.1h.01M529.8 680.5h.01M531.9 695.4h.01M546.3 655.7h.01M542.1 669.4h.01M522.5 672.7h.01M524.9 802.6h.01M546.4 668.3h.01M541.1 945.0h.01M663.5 726.6h.01M534.9 648.9h.01M502.9 667.0h.01M514.1 671.3h.01M499.6 672.5h.01M522.6 681.5h.01M481.0 723.2h.01M539.4 662.3h.01M534.4 675.0h.01M505.7 676.0h.01M487.5 716.2h.01M477.8 733.1h.01M544.7 652.5h.01M553.9 667.5h.01M502.2 680.9h.01M524.2 669.4h.01M499.8 679.0h.01M484.5 724.0h.01M483.2 720.2h.01M513.2 665.5h.01M516.2 683.8h.01M485.8 712.3h.01M507.8 699.5h.01M495.2 675.8h.01M504.2 672.6h.01M509.5 675.3h.01M507.7 670.4h.01M506.3 662.4h.01M516.8 690.9h.01M516.3 678.1h.01M512.9 675.1h.01M508.7 651.8h.01M558.5 658.9h.01M527.5 682.0h.01M533.5 653.8h.01M607.1 828.1h.01M498.4 684.2h.01M662.9 716.2h.01M672.0 724.9h.01M478.7 736.3h.01M480.1 737.9h.01M481.1 730.9h.01M516.9 693.1h.01M553.8 657.0h.01M523.3 933.7h.01M502.6 671.2h.01M614.5 749.1h.01M472.2 871.9h.01M506.1 659.0h.01M579.1 833.3h.01M523.9 664.8h.01M495.8 672.8h.01M531.1 940.3h.01M499.4 657.5h.01" stroke="#00B9E3" stroke-width="3.7" stroke-linecap="round" fill="none"/>
<path d="M630.6 685.0h.01M616.6 685.7h.01M528.8 894.0h.01M655.5 682.1h.01M527.4 899.1h.01M648.3 676.8h.01M615.1 808.7h.01M642.1 677.3h.01M623.8 687.0h.01M608.9 762.0h.01M522.5 885.0h.01M570.2 906.0h.01M526.5 732.8h.01M681.9 817.9h.01M604.9 744.4h.01M614.7 772.4h.01M634.3 693.7h.01M636.0 682.3h.01M607.2 773.4h.01M635.5 678.4h.01M624.6 687.0h.01M527.9 864.3h.01M635.2 684.7h.01M608.7 790.4h.01M518.5 869.7h.01M628.8 685.1h.01M631.9 694.0h.01M519.2 865.4h.01M626.1 679.3h.01M653.7 676.8h.01M605.7 888.1h.01M648.7 680.1h.01M642.1 682.2h.01M532.0 880.0h.01M616.0 680.9h.01M624.5 686.6h.01M522.5 860.3h.01M516.7 864.7h.01M588.1 923.6h.01M668.3 864.0h.01M515.8 855.3h.01M644.3 681.4h.01M620.6 692.0h.01M648.0 672.4h.01M531.4 880.9h.01M647.0 681.4h.01" stroke="#619CFF" stroke-width="3.7" stroke-linecap="round" fill="none"/>
<path d="M428.4 803.1h.01M430.1 799.3h.01M438.0 793.9h.01M433.6 790.9h.01M447.6 778.5h.01M430.0 785.5h.01M432.7 778.0h.01M424.0 785.9h.01M445.0 781.1h.01M422.6 792.6h.01M434.0 777.6h.01M426.5 787.1h.01M432.3 775.3h.01M427.3 788.3h.01M423.8 794.9h.01M429.1 782.0h.01M420.0 782.4h.01" stroke="#DB72FB" stroke-width="3.7" stroke-linecap="round" fill="none"/>
<path d="M527.3 959.8h.01M540.2 951.6h.01M527.1 963.0h.01M540.1 953.4h.01M534.2 954.4h.01" stroke="#FF61C3" stroke-width="3.7" stroke-linecap="round" fill="none"/>
<path d="M612.5 756.6h.01M586.4 685.4h.01M514.9 735.5h.01M555.1 726.4h.01M578.3 795.3h.01M566.8 781.9h.01M550.6 801.7h.01M569.3 727.9h.01M585.4 673.8h.01M532.5 778.2h.01M528.0 775.6h.01M607.8 730.0h.01M569.3 783.3h.01M513.5 784.6h.01M553.1 804.8h.01M621.3 724.1h.01M573.8 773.5h.01M539.4 733.4h.01M635.6 737.9h.01M534.5 690.8h.01M560.8 822.9h.01M510.1 736.1h.01M513.7 764.7h.01M512.9 753.2h.01M553.3 732.8h.01M518.4 697.3h.01M509.8 717.8h.01M560.4 777.8h.01M538.2 814.9h.01M505.7 722.5h.01M574.9 747.8h.01M481.1 749.9h.01M586.0 917.0h.01M568.5 806.0h.01M621.4 730.9h.01M498.6 764.4h.01M544.2 779.9h.01M549.3 821.5h.01M528.3 816.3h.01M588.5 786.3h.01M522.7 760.2h.01M592.4 744.9h.01M592.0 717.1h.01M575.0 804.8h.01M543.1 749.8h.01M567.0 799.6h.01M522.0 797.4h.01M519.7 777.5h.01M571.8 803.9h.01M559.6 824.0h.01M514.4 742.9h.01M521.7 749.4h.01M495.6 728.6h.01M488.7 756.3h.01M637.2 754.3h.01M555.7 800.9h.01M505.9 775.4h.01M563.5 789.4h.01M630.2 775.3h.01M530.1 754.5h.01M496.1 755.5h.01M526.7 741.6h.01M520.6 737.2h.01M542.8 740.8h.01M550.2 787.0h.01M576.7 802.9h.01M534.4 745.7h.01M586.2 757.0h.01M538.2 699.4h.01M535.0 787.0h.01M551.6 798.4h.01M499.5 741.4h.01M544.4 803.3h.01M546.1 742.0h.01M630.1 808.4h.01M539.8 787.0h.01M622.1 789.4h.01M615.5 712.2h.01M546.2 747.6h.01M575.7 773.5h.01M552.6 810.3h.01M566.5 770.0h.01M522.1 793.6h.01M583.8 756.0h.01M602.9 748.8h.01M544.8 752.8h.01M575.0 794.2h.01M585.6 788.5h.01M581.2 678.0h.01M526.3 800.3h.01M567.5 764.2h.01M587.4 734.0h.01M606.0 695.6h.01M540.2 817.3h.01M546.8 774.7h.01M504.1 723.7h.01M515.4 783.7h.01M526.0 686.4h.01M512.2 729.8h.01M553.1 745.3h.01M565.7 790.0h.01M555.0 818.6h.01M558.9 682.3h.01M569.8 677.5h.01M507.3 727.9h.01M535.6 816.6h.01M577.8 795.2h.01M564.0 786.4h.01M537.8 796.9h.01M594.7 776.3h.01M578.3 672.2h.01M522.9 779.1h.01M579.9 695.8h.01M504.9 756.2h.01M490.4 767.6h.01M573.1 796.4h.01M627.0 739.9h.01M519.5 746.0h.01M501.0 777.3h.01M615.6 777.8h.01M577.9 778.6h.01M557.3 778.9h.01M558.4 773.6h.01M563.4 819.2h.01M536.7 766.2h.01M510.9 773.2h.01M590.1 804.8h.01M575.9 778.3h.01M558.1 809.9h.01M541.8 760.3h.01M593.1 760.1h.01M507.8 712.9h.01M534.2 801.5h.01M538.2 806.0h.01M533.1 701.5h.01M540.9 742.4h.01M529.6 757.3h.01M559.6 672.8h.01M550.7 787.8h.01M543.7 770.7h.01M533.1 754.5h.01M538.1 772.8h.01M558.7 686.7h.01M624.7 754.6h.01M598.5 734.0h.01M538.3 818.7h.01M615.8 720.0h.01M491.3 742.8h.01M502.7 770.2h.01M501.7 735.6h.01M565.3 807.9h.01M516.9 769.9h.01M575.1 742.7h.01M547.6 747.9h.01M641.7 740.3h.01M531.5 784.0h.01M556.4 798.7h.01M546.6 810.1h.01M555.5 811.8h.01M581.9 774.3h.01M560.3 760.9h.01M537.8 743.4h.01M597.9 793.8h.01M566.3 839.0h.01M510.6 768.5h.01M587.0 750.4h.01M547.0 831.5h.01M568.0 685.0h.01M523.5 801.6h.01M541.1 830.5h.01M585.3 745.9h.01M547.0 806.7h.01M533.3 918.9h.01M569.0 829.3h.01M615.3 757.1h.01M546.8 824.6h.01M602.5 762.1h.01M564.7 674.0h.01M549.7 766.3h.01M606.5 737.5h.01M564.5 792.5h.01M497.3 718.7h.01M565.7 818.1h.01M619.9 771.6h.01M556.2 791.7h.01M565.5 712.5h.01M629.6 741.2h.01M567.8 794.2h.01M576.5 769.2h.01M588.9 709.5h.01M597.7 715.5h.01M543.1 794.2h.01M531.4 743.1h.01M548.1 683.6h.01M562.8 807.6h.01M539.1 783.2h.01M575.9 712.4h.01M553.5 760.1h.01M534.0 769.2h.01M591.3 786.6h.01M570.1 766.1h.01M572.7 730.9h.01M584.9 769.7h.01M564.0 755.6h.01M601.9 771.3h.01M574.5 731.3h.01M548.0 681.7h.01M513.1 721.1h.01M524.8 771.1h.01M504.0 762.9h.01M552.1 748.7h.01M557.8 807.2h.01M536.3 716.6h.01M556.0 798.5h.01M579.1 793.9h.01M567.5 809.8h.01M570.2 672.5h.01M560.7 777.9h.01M625.0 744.0h.01M633.1 798.5h.01M600.1 755.2h.01M553.9 807.6h.01M558.5 716.8h.01M520.6 697.8h.01M565.1 768.3h.01M575.7 783.0h.01M547.1 786.1h.01M587.8 799.7h.01M530.0 778.8h.01M526.3 709.8h.01M547.4 749.6h.01M554.2 799.9h.01M632.8 750.1h.01M619.6 707.7h.01M587.2 795.0h.01M621.6 730.7h.01M570.5 803.8h.01M557.7 803.0h.01M626.8 794.6h.01M494.0 731.9h.01M619.0 724.7h.01M584.6 755.5h.01M533.1 757.1h.01M583.8 691.5h.01M536.1 745.5h.01M544.3 834.4h.01M582.3 708.7h.01M550.3 786.9h.01M638.7 741.3h.01M591.1 800.7h.01M531.7 797.3h.01M558.5 776.8h.01M520.1 744.4h.01M504.7 770.8h.01M544.5 771.9h.01M596.2 746.0h.01M525.6 700.1h.01M527.8 755.2h.01M583.3 760.7h.01M615.7 767.0h.01M535.9 825.0h.01M557.4 794.3h.01M590.0 781.0h.01M587.2 811.8h.01M607.7 772.1h.01M552.1 716.1h.01M512.1 738.2h.01M534.8 712.5h.01M580.4 764.1h.01M594.5 771.1h.01M524.7 708.4h.01M577.7 734.1h.01M600.6 684.7h.01M528.9 783.8h.01M550.8 755.6h.01M546.6 766.7h.01M572.5 748.7h.01M500.0 761.7h.01M537.3 712.5h.01M571.2 752.4h.01M586.2 764.0h.01M583.0 698.0h.01M530.3 696.6h.01M600.9 697.3h.01M544.2 750.6h.01M567.5 773.9h.01M509.1 720.2h.01M498.9 806.4h.01M571.0 757.2h.01M575.2 809.6h.01M586.2 752.4h.01M509.9 722.9h.01M591.4 801.1h.01M533.5 773.6h.01M550.2 820.9h.01M515.7 699.9h.01M576.2 715.9h.01M522.7 785.7h.01M514.6 762.8h.01M634.1 751.8h.01M570.4 811.0h.01M539.2 790.0h.01M597.7 790.0h.01M549.0 790.3h.01M636.5 743.6h.01M621.6 739.4h.01M535.0 743.1h.01M592.2 687.1h.01M610.8 741.9h.01M473.5 859.1h.01M571.7 750.8h.01M505.8 760.8h.01M590.6 755.5h.01M572.6 780.4h.01M516.1 744.9h.01M554.8 790.8h.01M593.9 695.2h.01M584.0 742.0h.01M588.5 803.7h.01M624.2 714.0h.01M534.0 785.7h.01M581.9 673.7h.01M535.4 800.7h.01M550.8 771.9h.01M535.4 729.9h.01M647.9 775.8h.01M541.4 774.5h.01M548.7 672.0h.01M586.2 720.8h.01M521.2 771.4h.01M584.4 727.2h.01M621.6 779.3h.01M584.5 744.8h.01M562.5 797.4h.01M598.0 710.8h.01M560.9 783.3h.01M570.8 801.8h.01M627.7 812.4h.01M600.6 782.7h.01M550.3 832.1h.01M501.0 727.6h.01M537.7 793.3h.01M530.1 816.3h.01M527.2 803.2h.01M553.6 746.3h.01M541.7 800.4h.01M524.3 803.3h.01M591.2 732.3h.01M558.4 820.4h.01M543.2 797.8h.01M563.3 772.1h.01M562.1 766.7h.01M600.5 743.2h.01M508.2 753.3h.01M525.9 750.3h.01" stroke="#F8766D" stroke-width="3.7" stroke-linecap="round" fill="none"/>
<path d="M635.7 911.4h.01M583.7 962.3h.01M571.6 830.6h.01M563.6 884.2h.01M635.1 890.2h.01M617.3 936.1h.01M597.5 940.3h.01M617.1 935.6h.01M588.9 854.8h.01M599.7 828.3h.01M541.9 871.5h.01M574.5 856.0h.01M590.2 909.0h.01M534.7 904.9h.01M559.5 952.3h.01M588.7 862.9h.01M548.6 850.5h.01M550.8 868.8h.01M592.9 951.6h.01M608.4 959.7h.01M597.1 951.5h.01M632.6 818.3h.01M630.2 902.7h.01M563.5 897.8h.01M604.0 965.2h.01M595.8 810.9h.01M597.6 820.4h.01M593.8 930.0h.01M604.5 905.9h.01M571.6 851.9h.01M621.9 944.7h.01M615.1 903.6h.01M570.5 894.2h.01M600.6 943.7h.01M595.5 843.2h.01M547.8 938.4h.01M544.6 890.1h.01M554.0 859.2h.01M604.8 829.1h.01M630.4 832.1h.01M586.5 892.6h.01M578.9 897.0h.01M576.9 921.7h.01M677.5 798.3h.01M635.4 850.4h.01M611.3 807.7h.01M548.3 940.1h.01M548.2 884.7h.01M610.7 864.9h.01M575.2 920.4h.01M610.2 772.2h.01M598.0 890.7h.01M582.7 828.7h.01M534.7 899.9h.01M560.2 689.0h.01M627.3 871.1h.01M620.8 893.0h.01M599.9 962.5h.01M593.3 841.1h.01M607.0 879.2h.01M586.9 929.3h.01M606.7 792.4h.01M599.2 840.2h.01M581.9 925.2h.01M558.3 876.3h.01M546.9 874.5h.01M612.5 812.8h.01M621.7 929.6h.01M601.2 820.7h.01M617.2 926.8h.01M557.4 890.2h.01M626.5 864.8h.01M561.8 852.4h.01M594.6 966.2h.01M535.8 853.0h.01M556.6 927.1h.01M550.9 901.2h.01M576.4 889.6h.01M623.9 891.0h.01M609.3 968.2h.01M587.1 919.8h.01M610.4 945.2h.01M542.9 889.3h.01M591.9 949.1h.01M574.1 813.5h.01M603.0 822.1h.01M542.3 929.3h.01M594.4 930.3h.01M571.0 867.6h.01M618.7 873.1h.01M616.6 896.7h.01M551.4 932.6h.01M631.8 860.4h.01M564.7 859.6h.01M553.9 850.8h.01M620.5 946.2h.01M535.6 885.3h.01M583.3 952.6h.01M558.6 908.8h.01M571.6 944.3h.01M588.6 913.4h.01M607.0 927.3h.01M579.0 929.3h.01M568.0 952.1h.01M599.6 847.3h.01M535.1 842.6h.01M642.4 845.0h.01M542.9 919.5h.01M552.6 846.3h.01M604.3 818.8h.01M604.3 957.5h.01M594.7 965.6h.01M541.7 928.4h.01M557.4 838.3h.01M566.8 907.5h.01M530.8 921.1h.01M633.5 889.8h.01M634.0 915.9h.01M633.0 937.9h.01M580.5 966.1h.01M549.6 945.3h.01M635.6 853.4h.01M642.0 916.9h.01M571.1 928.7h.01M549.3 943.6h.01M577.1 870.6h.01M597.2 844.5h.01M586.4 851.6h.01M633.3 866.0h.01M622.9 904.0h.01M577.3 889.6h.01M599.7 836.0h.01M570.7 904.0h.01M548.6 917.8h.01M548.4 893.5h.01M640.1 938.6h.01M541.0 873.2h.01M567.0 888.6h.01M574.3 920.0h.01M623.5 871.8h.01M552.9 872.8h.01M575.8 883.0h.01M543.2 859.9h.01M544.5 936.0h.01M591.2 954.8h.01M556.0 927.3h.01M536.4 917.1h.01M574.2 928.4h.01M550.8 910.3h.01M542.4 888.0h.01M571.5 941.1h.01M606.6 866.7h.01M577.4 860.2h.01M573.3 931.8h.01M564.4 892.6h.01M598.3 847.7h.01M580.4 905.2h.01M589.5 948.3h.01M591.6 975.5h.01M645.1 892.6h.01M623.0 870.8h.01M614.4 835.7h.01M636.2 891.9h.01M581.0 930.4h.01M577.6 958.4h.01M612.7 878.5h.01M588.6 858.2h.01M579.4 906.5h.01M623.6 775.0h.01M579.1 941.5h.01M550.7 944.4h.01M582.4 940.2h.01M576.7 902.8h.01M622.5 949.0h.01M606.0 868.0h.01M593.0 837.0h.01M608.1 817.3h.01M571.4 938.3h.01M596.0 835.6h.01M564.3 887.0h.01M572.0 911.0h.01M620.1 772.4h.01M595.6 895.6h.01M578.3 905.4h.01M535.5 890.3h.01M579.7 973.5h.01M549.4 858.1h.01M580.6 853.5h.01M535.8 925.6h.01M570.7 948.1h.01M574.1 925.0h.01M625.0 952.7h.01M550.6 880.3h.01M573.5 887.2h.01M567.2 905.1h.01M595.6 956.3h.01M631.8 878.5h.01M581.6 974.6h.01M567.8 855.3h.01M559.8 877.1h.01M602.1 883.1h.01M621.2 875.7h.01M632.4 889.8h.01M560.4 896.6h.01M554.0 950.1h.01M613.2 925.2h.01M614.1 982.4h.01M582.7 889.3h.01M604.7 952.8h.01M607.6 957.6h.01M615.0 851.2h.01M596.4 914.1h.01M571.3 941.6h.01M563.3 942.2h.01M584.4 865.1h.01M548.4 925.1h.01M566.3 925.8h.01M553.7 867.3h.01M554.6 847.3h.01M599.5 960.9h.01M614.3 828.1h.01M543.1 866.0h.01M533.9 899.2h.01M561.5 899.7h.01M610.6 826.4h.01M600.7 844.1h.01M609.9 914.7h.01M612.8 848.1h.01M549.7 893.2h.01M544.4 848.6h.01M595.5 950.8h.01M590.1 839.1h.01M616.9 883.3h.01M629.9 827.7h.01M629.7 941.2h.01M639.9 795.9h.01M593.3 942.0h.01M619.6 952.3h.01M602.7 826.8h.01M623.1 929.9h.01M627.0 816.3h.01M580.5 905.8h.01M542.3 925.8h.01M557.8 857.7h.01M583.5 835.5h.01M589.3 914.7h.01M546.0 861.6h.01M611.7 892.6h.01M538.5 843.3h.01M610.3 879.9h.01M558.4 896.3h.01M602.4 899.6h.01M599.2 919.1h.01M543.7 888.5h.01M575.4 849.5h.01M565.9 915.4h.01M541.1 927.9h.01M569.4 904.3h.01M600.9 944.9h.01M575.8 843.9h.01M560.7 926.2h.01M561.7 868.4h.01M543.7 856.0h.01M553.0 847.1h.01M577.4 890.3h.01M588.6 960.1h.01M537.3 863.0h.01M594.7 968.3h.01M620.3 833.3h.01M540.5 938.2h.01M575.4 940.4h.01M532.6 877.8h.01M574.3 960.8h.01M537.8 857.7h.01M581.3 873.7h.01M602.6 896.9h.01M565.9 917.2h.01M567.7 972.4h.01M558.8 935.5h.01M593.8 908.2h.01M584.7 843.8h.01M605.2 919.5h.01M552.5 920.4h.01M625.2 947.2h.01M544.1 881.1h.01M546.7 917.7h.01M599.7 956.8h.01M583.4 867.2h.01M589.9 862.8h.01M578.0 895.1h.01M555.6 925.6h.01M563.4 920.4h.01M565.9 926.7h.01M622.5 943.3h.01M584.6 859.0h.01M601.3 826.7h.01M628.5 885.8h.01M598.2 892.6h.01M555.2 840.9h.01M580.7 964.2h.01M623.5 955.7h.01M560.0 881.3h.01M580.8 908.1h.01M551.3 847.9h.01M553.9 932.6h.01M630.0 955.1h.01M554.7 915.1h.01M599.0 892.7h.01M537.9 881.9h.01M605.7 968.4h.01M639.9 876.8h.01M618.1 808.8h.01M634.6 877.8h.01M560.0 927.2h.01M566.4 939.7h.01M599.3 939.5h.01M582.4 921.6h.01M644.5 787.5h.01M618.1 815.7h.01M570.6 945.8h.01M558.1 923.6h.01M609.9 934.5h.01M582.2 891.9h.01M591.2 963.0h.01M540.7 925.2h.01M570.6 932.8h.01M605.6 877.6h.01M561.7 863.0h.01M621.2 863.1h.01M578.1 921.5h.01M557.3 908.4h.01M630.6 803.7h.01M587.1 946.4h.01M588.4 949.5h.01M604.2 945.6h.01M554.7 880.1h.01M624.5 879.0h.01M624.3 906.6h.01M562.5 940.5h.01M548.8 963.2h.01M561.6 892.2h.01M559.8 876.3h.01M580.4 929.3h.01M599.3 875.0h.01M599.9 833.6h.01M591.9 813.8h.01M544.3 864.2h.01M619.2 962.6h.01M544.7 875.6h.01M537.7 891.6h.01M581.9 864.7h.01M601.2 939.0h.01M551.6 927.1h.01M599.9 947.4h.01M545.0 876.8h.01M619.5 896.4h.01M577.1 911.0h.01M564.3 913.5h.01M561.4 845.9h.01M543.6 935.7h.01M631.6 782.4h.01M607.3 961.9h.01M580.6 922.9h.01M562.7 858.5h.01M559.8 948.0h.01M572.5 871.6h.01M603.1 846.0h.01M592.6 905.1h.01M623.2 905.6h.01M604.4 973.6h.01M604.7 884.2h.01M555.5 955.6h.01M606.2 904.5h.01M616.9 841.0h.01M638.9 934.1h.01M578.2 890.3h.01M569.4 918.7h.01M589.4 914.1h.01M620.4 898.3h.01M583.9 885.6h.01M544.0 857.1h.01M556.9 947.1h.01M642.3 933.8h.01M603.6 906.0h.01M598.8 934.9h.01M569.9 951.7h.01M589.5 906.1h.01M569.1 850.6h.01M568.7 943.2h.01M549.7 876.6h.01M532.2 933.9h.01M565.8 891.9h.01M638.2 886.3h.01M591.3 830.1h.01M575.2 881.8h.01M609.1 938.4h.01M580.3 835.3h.01M544.8 942.8h.01M574.0 919.7h.01M584.1 880.6h.01M593.8 940.6h.01M549.3 938.3h.01M636.4 948.3h.01M605.9 899.4h.01M581.3 921.5h.01M557.4 958.6h.01M541.9 925.1h.01M582.2 875.5h.01M584.5 945.2h.01M573.6 920.1h.01M605.5 945.0h.01M572.0 952.3h.01M582.5 954.4h.01M609.2 935.8h.01M582.0 890.1h.01M551.9 921.0h.01M584.0 931.1h.01M556.9 887.9h.01M627.5 948.2h.01M578.5 901.0h.01M633.3 942.2h.01M614.5 868.9h.01M639.7 915.5h.01M592.7 969.1h.01M612.6 894.9h.01M580.2 958.1h.01M588.3 934.1h.01M584.6 896.2h.01M564.3 879.8h.01M622.8 935.1h.01M564.5 860.1h.01M576.5 868.8h.01M604.3 821.0h.01M600.4 858.5h.01M584.1 947.9h.01M571.1 826.8h.01M596.3 892.9h.01M562.3 919.6h.01M529.0 848.3h.01M642.5 913.3h.01M579.9 859.9h.01M536.2 927.2h.01M584.7 938.8h.01M583.3 839.8h.01M620.0 899.8h.01M565.7 834.5h.01M633.3 904.1h.01M620.6 855.3h.01M610.1 815.8h.01M552.9 868.7h.01M616.8 884.5h.01M578.1 940.9h.01M603.1 879.7h.01M583.4 944.6h.01M549.6 937.0h.01M593.9 834.2h.01M573.9 882.2h.01M579.8 857.6h.01M601.7 909.5h.01M551.0 921.7h.01M617.7 820.8h.01M633.7 946.2h.01M577.2 901.5h.01M542.3 902.8h.01M595.0 816.2h.01M620.4 885.2h.01M536.8 889.7h.01M607.9 924.8h.01M588.3 873.1h.01M631.4 884.0h.01M632.8 774.5h.01M617.3 805.2h.01M542.2 931.7h.01M554.2 888.5h.01M587.6 914.9h.01M580.1 952.8h.01" stroke="#D39200" stroke-width="3.7" stroke-linecap="round" fill="none"/>
<path d="M663.8 803.9h.01M628.4 769.4h.01M662.3 795.2h.01M680.6 828.0h.01M610.2 810.0h.01M643.3 884.0h.01M666.0 885.0h.01M646.1 807.1h.01M685.6 806.1h.01M672.3 848.9h.01M669.6 805.8h.01M649.2 867.5h.01M614.8 802.5h.01M671.4 828.5h.01M637.6 845.0h.01M653.5 897.0h.01M666.0 812.8h.01M681.6 881.0h.01M670.1 877.6h.01M663.4 766.6h.01M644.2 791.5h.01M660.3 800.9h.01M678.4 777.0h.01M654.3 829.3h.01M670.4 886.3h.01M654.2 845.1h.01M644.9 849.0h.01M641.9 891.9h.01M658.3 810.8h.01M657.9 779.2h.01M649.5 818.5h.01M684.1 777.2h.01M625.2 770.6h.01M665.2 808.6h.01M659.6 864.9h.01M664.9 845.1h.01M667.2 810.4h.01M676.2 813.1h.01M635.3 844.4h.01M680.9 864.6h.01M674.8 817.3h.01M640.2 793.6h.01M657.2 838.4h.01M665.9 858.4h.01M652.8 778.5h.01M663.1 779.0h.01M659.4 847.8h.01M674.6 808.3h.01M644.9 876.5h.01M553.6 838.6h.01M682.3 826.7h.01M641.4 815.2h.01M473.7 830.0h.01M650.0 793.7h.01M681.8 789.6h.01M648.3 855.5h.01M691.7 792.4h.01M634.4 864.7h.01M683.5 788.1h.01M688.0 800.0h.01M647.9 799.5h.01M662.5 859.8h.01M679.5 861.9h.01M676.8 808.1h.01M654.9 806.4h.01M676.2 796.2h.01M650.5 804.5h.01M675.1 823.2h.01M628.0 797.2h.01M676.5 798.9h.01M670.3 815.8h.01M694.5 829.5h.01M631.3 768.1h.01M637.4 806.1h.01M566.7 807.5h.01M542.8 886.2h.01M667.0 818.9h.01M650.9 808.9h.01M635.0 838.6h.01M640.6 881.4h.01M679.7 824.7h.01M664.4 853.8h.01M694.3 810.7h.01M674.0 833.5h.01M667.7 826.6h.01M641.2 817.8h.01M653.9 828.4h.01M642.3 851.2h.01M648.4 775.8h.01M667.5 875.8h.01M657.0 888.5h.01M660.6 884.5h.01M639.7 797.2h.01M679.1 818.1h.01M654.4 874.1h.01M664.6 823.7h.01M672.6 817.8h.01M655.6 850.6h.01M661.0 873.5h.01M660.7 865.0h.01M612.6 784.1h.01M645.2 856.4h.01M480.4 840.7h.01M604.2 790.9h.01M675.7 854.0h.01M563.2 914.8h.01M622.0 804.2h.01M649.7 885.2h.01M662.7 809.1h.01M671.8 768.9h.01M672.6 858.2h.01M676.8 842.8h.01M662.8 769.7h.01M670.2 804.8h.01M601.6 782.8h.01M678.8 789.8h.01M663.1 785.6h.01M646.2 779.1h.01M667.5 781.2h.01M657.9 892.6h.01M685.7 846.6h.01M674.1 833.2h.01M659.7 848.3h.01M652.1 841.0h.01M649.0 858.0h.01M652.2 806.1h.01M681.7 821.5h.01M682.3 872.5h.01M656.3 790.4h.01M678.0 835.9h.01M657.9 785.8h.01M619.0 803.3h.01M614.1 799.5h.01M661.7 785.9h.01M650.4 833.0h.01M664.4 810.3h.01M668.1 849.4h.01M675.1 832.4h.01M650.8 863.8h.01M639.2 788.0h.01M664.3 861.8h.01M655.7 778.1h.01M670.4 827.0h.01M681.1 868.9h.01M687.0 814.5h.01M658.5 818.9h.01M693.8 832.4h.01M667.1 888.2h.01M663.6 858.0h.01M632.4 792.6h.01M648.1 775.0h.01M682.5 789.4h.01M646.7 841.0h.01M665.0 890.8h.01M668.3 801.6h.01M662.8 767.7h.01M468.9 862.4h.01M680.7 789.2h.01M674.9 783.1h.01M650.5 857.3h.01M652.5 854.4h.01M647.1 835.4h.01M665.5 845.8h.01M606.1 924.2h.01M661.1 799.5h.01M679.3 858.8h.01M656.3 841.3h.01M678.2 772.8h.01M641.1 809.9h.01M675.6 879.5h.01M641.5 835.8h.01M645.0 857.1h.01M652.8 822.0h.01M647.4 874.7h.01M670.7 851.0h.01M666.9 838.5h.01M550.0 940.9h.01M673.7 874.8h.01M548.2 808.8h.01M668.6 876.5h.01M673.2 833.1h.01M682.9 840.3h.01M636.9 877.1h.01M659.8 769.9h.01M680.5 775.0h.01M684.1 816.3h.01M648.1 825.0h.01M648.6 836.5h.01M638.0 810.4h.01M666.1 848.4h.01M647.2 851.3h.01M675.2 807.5h.01M655.2 874.2h.01M690.3 815.8h.01M660.3 766.6h.01M664.8 880.5h.01M660.6 781.5h.01M659.4 803.6h.01M676.2 770.1h.01M623.5 801.8h.01M677.7 876.6h.01M646.6 841.6h.01M671.6 775.0h.01M663.9 860.2h.01M683.8 784.8h.01M663.1 886.5h.01M677.6 831.4h.01M689.1 843.4h.01M669.6 794.4h.01M679.2 854.5h.01M677.2 832.3h.01M653.2 792.6h.01M686.3 785.9h.01M686.3 822.2h.01M650.8 792.8h.01M661.2 839.6h.01M682.3 797.9h.01M663.4 767.9h.01M661.2 786.2h.01M662.4 813.2h.01M677.6 831.5h.01M668.3 854.7h.01M676.4 798.2h.01M679.0 827.8h.01M650.0 786.8h.01M648.7 793.1h.01M626.9 768.6h.01" stroke="#93AA00" stroke-width="3.7" stroke-linecap="round" fill="none"/>
<path d="M626.4 765.6h.01M477.0 845.1h.01M502.4 839.6h.01M483.5 813.3h.01M505.1 837.1h.01M473.8 811.5h.01M477.0 857.2h.01M494.6 827.4h.01M478.6 850.5h.01M501.5 856.8h.01M502.6 845.4h.01M623.1 750.2h.01M469.7 797.1h.01M476.5 868.6h.01M607.7 764.2h.01M480.0 858.3h.01M619.3 771.3h.01M473.4 836.0h.01M638.2 754.5h.01M476.5 806.8h.01M495.3 829.3h.01M475.4 823.4h.01M614.1 770.3h.01M479.2 856.3h.01M508.1 839.2h.01M637.5 757.0h.01M478.7 876.1h.01M460.3 824.6h.01M497.6 823.5h.01M477.5 874.0h.01M620.6 785.1h.01M461.4 814.6h.01M659.1 940.3h.01M487.9 839.2h.01M483.2 859.2h.01M496.9 826.1h.01M487.8 837.9h.01M596.2 752.1h.01M489.5 859.0h.01M629.3 778.2h.01M471.3 842.0h.01M485.6 866.9h.01M481.6 807.0h.01M480.7 811.1h.01M476.1 825.5h.01M480.0 854.8h.01M500.8 847.9h.01M490.3 829.3h.01M514.2 815.8h.01M632.3 770.4h.01M477.3 837.1h.01M488.6 811.7h.01M491.1 797.9h.01M504.9 827.4h.01M509.6 810.1h.01M464.5 848.2h.01M494.2 848.1h.01M495.0 799.0h.01M459.2 808.4h.01M510.3 798.6h.01M482.0 813.8h.01M481.4 869.6h.01M634.8 795.0h.01M618.9 751.8h.01M641.9 744.9h.01M487.6 837.1h.01M486.8 873.8h.01M481.2 862.8h.01M489.3 824.5h.01M477.3 864.8h.01M486.8 857.9h.01M470.0 789.2h.01M466.2 774.3h.01M625.4 774.8h.01M487.3 809.2h.01M469.8 815.7h.01M479.7 852.9h.01M600.5 765.2h.01M488.7 817.8h.01M476.7 837.4h.01M615.0 753.6h.01M642.7 779.0h.01M475.2 866.3h.01M608.7 760.6h.01M470.6 863.1h.01M617.9 770.3h.01M484.9 846.4h.01M492.2 828.9h.01M475.1 832.4h.01M688.7 825.1h.01M480.8 850.4h.01M490.9 852.4h.01M482.4 860.8h.01M607.5 748.6h.01M608.2 756.7h.01M485.6 847.9h.01M505.5 836.2h.01M481.2 803.8h.01M599.7 773.4h.01M639.2 756.9h.01M461.4 809.1h.01M492.8 858.1h.01M456.1 803.9h.01M617.2 762.4h.01M620.1 755.1h.01M479.3 858.6h.01M625.3 772.1h.01M487.2 838.5h.01M605.9 765.1h.01M479.5 827.2h.01M586.8 964.8h.01M630.7 772.5h.01M481.4 868.5h.01M643.0 764.0h.01M465.2 796.1h.01M465.5 781.7h.01M646.0 924.7h.01M606.7 747.3h.01M470.5 842.9h.01M488.0 840.5h.01M476.1 845.8h.01M487.0 834.4h.01M489.3 836.5h.01M470.3 853.6h.01M465.0 829.4h.01M469.3 814.1h.01M483.9 815.7h.01M619.1 905.8h.01M616.5 747.3h.01M493.3 803.0h.01M633.9 757.2h.01M614.6 753.3h.01M479.7 841.1h.01M617.1 802.3h.01M473.5 848.0h.01M508.9 809.6h.01M474.2 797.4h.01M472.1 834.6h.01M482.1 820.8h.01M497.7 833.8h.01M482.4 864.8h.01M470.4 844.5h.01M490.3 850.6h.01M652.9 935.5h.01M607.0 760.2h.01M490.0 821.8h.01M614.0 746.2h.01M609.7 744.2h.01M481.8 814.8h.01M474.9 864.4h.01M509.6 816.9h.01M458.8 805.0h.01M494.2 866.8h.01M491.8 842.0h.01M485.7 878.3h.01M485.4 853.6h.01" stroke="#00BA38" stroke-width="3.7" stroke-linecap="round" fill="none"/>
<path d="M659.1 973.0h.01M637.8 974.4h.01M638.6 990.7h.01M648.8 996.5h.01M651.8 966.7h.01M633.2 984.4h.01M653.2 983.8h.01M652.7 992.4h.01M664.7 975.5h.01M649.4 989.2h.01M612.0 973.2h.01M618.3 988.2h.01M633.2 992.9h.01M625.0 975.4h.01M644.3 992.2h.01M650.1 958.4h.01M644.6 951.3h.01M642.3 976.5h.01M653.9 972.5h.01M637.5 975.7h.01M646.0 975.1h.01M623.6 978.7h.01M605.0 973.4h.01M630.1 957.7h.01M644.2 978.4h.01M649.7 983.3h.01M648.8 1001.0h.01M657.1 976.1h.01M659.2 996.9h.01M631.3 968.0h.01M644.8 985.2h.01M635.8 971.9h.01M640.5 951.7h.01M618.3 983.4h.01M613.8 985.1h.01M657.1 972.8h.01M659.7 991.3h.01M640.3 998.7h.01M660.7 981.1h.01M647.5 974.3h.01M623.9 984.8h.01M631.2 991.3h.01M654.2 961.5h.01M666.4 1009.5h.01M627.4 971.1h.01M615.6 991.0h.01M650.8 980.6h.01M622.2 989.3h.01M639.4 987.6h.01M638.5 993.2h.01M634.5 1001.6h.01M657.1 983.6h.01M669.2 962.3h.01M657.8 989.7h.01M615.0 976.2h.01M618.6 973.2h.01M657.3 975.4h.01M662.5 991.6h.01M604.1 989.5h.01M649.1 969.1h.01M627.7 970.1h.01M635.4 959.8h.01M641.0 976.7h.01M629.4 968.1h.01M660.4 989.6h.01M609.6 994.8h.01M626.0 976.6h.01M638.1 974.5h.01M633.8 965.1h.01M619.5 969.4h.01M630.3 969.2h.01M650.6 977.4h.01M601.3 981.9h.01M634.4 995.7h.01M648.8 998.4h.01M636.5 968.0h.01M658.0 969.7h.01M651.0 986.9h.01M642.0 983.1h.01M649.0 973.7h.01M646.3 983.4h.01M620.4 990.0h.01M641.7 976.6h.01M614.5 972.4h.01M635.6 994.6h.01M635.7 965.8h.01M633.5 984.0h.01M623.5 998.0h.01M643.5 963.4h.01M649.7 981.5h.01M653.1 992.8h.01M660.1 959.7h.01M655.1 970.7h.01M661.3 992.8h.01M629.7 983.4h.01M648.1 982.8h.01M635.3 966.3h.01M633.7 963.8h.01M667.3 987.2h.01M662.9 978.8h.01M650.2 995.3h.01M647.4 1020.6h.01M629.7 984.1h.01M619.0 1001.5h.01M646.7 991.6h.01M641.2 990.2h.01M649.6 990.3h.01M636.5 973.7h.01M649.0 995.6h.01M672.6 961.8h.01M648.5 996.5h.01M629.5 981.6h.01M658.8 972.8h.01M639.4 990.4h.01M651.1 984.2h.01M661.2 988.7h.01M636.0 983.0h.01M652.3 990.9h.01M637.8 969.3h.01M641.3 1014.2h.01M650.8 985.2h.01M661.2 973.8h.01" stroke="#00C19F" stroke-width="3.7" stroke-linecap="round" fill="none"/>
<path d="M527.5 667.9h.01M502.4 674.5h.01M515.6 663.4h.01M542.3 662.0h.01M494.0 676.7h.01M540.5 717.8h.01M517.2 669.7h.01M502.8 684.9h.01M553.7 933.2h.01M677.4 745.0h.01M515.0 652.1h.01M509.2 675.8h.01M523.7 677.4h.01M517.6 660.7h.01M522.1 670.9h.01M511.5 662.9h.01M504.2 690.4h.01M542.5 669.2h.01M485.7 720.1h.01M488.3 710.5h.01M536.4 677.2h.01M508.4 649.4h.01M491.8 717.0h.01M495.6 662.2h.01M505.9 683.1h.01M509.2 674.7h.01M484.8 725.0h.01M516.2 669.8h.01M594.8 854.6h.01M668.7 726.3h.01M478.1 723.5h.01M491.9 686.1h.01M580.5 807.9h.01M626.4 753.0h.01M499.4 672.4h.01M514.3 667.3h.01M517.5 677.1h.01M473.2 731.4h.01M623.7 715.9h.01M521.1 662.1h.01M506.1 663.9h.01M536.5 685.8h.01M482.5 725.0h.01M542.9 769.6h.01M500.2 669.1h.01M515.1 682.0h.01M518.2 670.7h.01M513.9 654.7h.01M479.9 718.2h.01M507.0 664.7h.01M494.6 664.9h.01M627.8 777.9h.01M553.7 791.5h.01M555.0 655.8h.01M500.9 663.8h.01M484.6 734.9h.01M537.7 655.5h.01M496.4 674.7h.01M517.5 685.3h.01M661.1 777.9h.01M501.1 675.1h.01M483.9 735.6h.01M509.1 684.6h.01M508.1 694.4h.01M539.1 678.6h.01M667.1 725.1h.01M592.0 866.9h.01M506.9 686.9h.01M511.9 681.6h.01M513.1 673.0h.01M548.9 655.2h.01M474.4 731.4h.01M507.5 673.7h.01M492.7 674.5h.01M522.7 682.8h.01" stroke="#00B9E3" stroke-width="3.7" stroke-linecap="round" fill="none"/>
<path d="M630.9 690.3h.01M644.0 677.9h.01M519.2 883.0h.01M527.8 811.2h.01M637.5 679.2h.01M641.5 689.4h.01M522.9 870.0h.01M544.4 922.2h.01M650.2 681.6h.01M622.2 684.2h.01M559.0 865.1h.01M607.9 797.3h.01M566.0 947.8h.01M603.0 766.4h.01M651.4 777.7h.01M507.6 872.1h.01M615.7 786.7h.01M614.7 687.7h.01M626.1 678.8h.01M528.7 882.7h.01M615.3 692.3h.01M526.3 862.0h.01M603.1 968.1h.01M476.1 805.6h.01M527.9 857.6h.01M527.9 896.6h.01M629.3 682.6h.01M638.9 686.9h.01M527.9 878.4h.01M628.6 687.7h.01M600.1 921.1h.01M644.3 680.6h.01M636.2 677.3h.01M648.4 682.6h.01M634.6 687.7h.01M592.0 805.2h.01M556.2 909.9h.01M643.9 673.9h.01M607.1 810.4h.01M616.6 688.9h.01M519.8 869.7h.01M628.9 690.3h.01M524.3 860.3h.01M526.5 895.5h.01M505.4 746.1h.01M622.9 689.3h.01M526.6 877.4h.01M642.5 682.6h.01M620.0 680.8h.01M635.1 680.3h.01M647.3 670.1h.01M636.5 936.0h.01" stroke="#619CFF" stroke-width="3.7" stroke-linecap="round" fill="none"/>
<path d="M428.3 780.4h.01M425.9 785.4h.01M433.2 785.8h.01M429.4 774.5h.01M421.9 790.5h.01M426.2 798.9h.01M432.8 782.8h.01M419.7 785.3h.01M433.7 777.6h.01" stroke="#DB72FB" stroke-width="3.7" stroke-linecap="round" fill="none"/>
<path d="M533.8 962.1h.01M527.2 954.7h.01M536.7 959.7h.01M537.7 955.4h.01" stroke="#FF61C3" stroke-width="3.7" stroke-linecap="round" fill="none"/>
<circle cx="749.7" cy="720.2" r="8" fill="#F8766D"/>
<text x="778.8" y="727.8" font-size="23.1">Tex−term</text>
<circle cx="749.7" cy="750.4" r="8" fill="#D39200"/>
<text x="778.8" y="758" font-size="23.1">Tex−prolif</text>
<circle cx="749.7" cy="780.6" r="8" fill="#93AA00"/>
<text x="778.8" y="788.2" font-size="23.1">Tex−Prf1</text>
<circle cx="749.7" cy="810.8" r="8" fill="#00BA38"/>
<text x="778.8" y="818.4" font-size="23.1">Tem</text>
<circle cx="749.7" cy="841" r="8" fill="#00C19F"/>
<text x="778.8" y="848.6" font-size="23.1">Tprolif</text>
<circle cx="749.7" cy="871.2" r="8" fill="#00B9E3"/>
<text x="778.8" y="878.8" font-size="23.1">Tpex</text>
<circle cx="749.7" cy="901.4" r="8" fill="#619CFF"/>
<text x="778.8" y="909" font-size="23.1">Tex−early−prolif</text>
<circle cx="749.7" cy="931.6" r="8" fill="#DB72FB"/>
<text x="778.8" y="939.2" font-size="23.1">Tnaive−like</text>
<circle cx="749.7" cy="961.8" r="8" fill="#FF61C3"/>
<text x="778.8" y="969.4" font-size="23.1">Tcytokine</text>
<text x="924.2" y="561.5" font-size="47">e</text>
<line x1="1094.2" y1="628.5" x2="1094.2" y2="1110.8" stroke="#000" stroke-width="1.6"/>
<line x1="1093.4" y1="1110" x2="1762.4" y2="1110" stroke="#000" stroke-width="1.6"/>
<line x1="1088" y1="660.7" x2="1094.2" y2="660.7" stroke="#000" stroke-width="1.6"/>
<text x="1082.5" y="669" font-size="23.1" text-anchor="end">Tcytokine</text>
<circle cx="1115.1" cy="660.7" r="6.9" fill="#A1CAE1"/>
<circle cx="1149.83" cy="660.7" r="9.6" fill="#87BBD9"/>
<circle cx="1184.56" cy="660.7" r="5.9" fill="#BCD9E9"/>
<circle cx="1219.29" cy="660.7" r="12" fill="#3277B5"/>
<circle cx="1254.02" cy="660.7" r="8.8" fill="#97C4DE"/>
<circle cx="1288.75" cy="660.7" r="2" fill="#D1E5F0"/>
<circle cx="1323.48" cy="660.7" r="8.4" fill="#8CBEDB"/>
<circle cx="1358.21" cy="660.7" r="6.7" fill="#4B8EC1"/>
<circle cx="1392.94" cy="660.7" r="4.1" fill="#9CC7E0"/>
<circle cx="1427.67" cy="660.7" r="9.2" fill="#64A6CD"/>
<circle cx="1462.4" cy="660.7" r="2.7" fill="#91C1DC"/>
<circle cx="1497.13" cy="660.7" r="1.6" fill="#91C1DC"/>
<circle cx="1531.86" cy="660.7" r="12" fill="#CA4641"/>
<circle cx="1566.59" cy="660.7" r="2.7" fill="#C6DFED"/>
<circle cx="1601.32" cy="660.7" r="3.5" fill="#EAF1F5"/>
<circle cx="1636.05" cy="660.7" r="5.1" fill="#FBCFB8"/>
<circle cx="1670.78" cy="660.7" r="4.7" fill="#FBE6DA"/>
<circle cx="1705.51" cy="660.7" r="2.7" fill="#F8F1ED"/>
<circle cx="1740.24" cy="660.7" r="3.1" fill="#D5E7F1"/>
<line x1="1088" y1="712.99" x2="1094.2" y2="712.99" stroke="#000" stroke-width="1.6"/>
<text x="1082.5" y="721.29" font-size="23.1" text-anchor="end">Tnaive−like</text>
<circle cx="1115.1" cy="712.99" r="4.3" fill="#4E92C3"/>
<circle cx="1149.83" cy="712.99" r="5.9" fill="#276BAF"/>
<circle cx="1184.56" cy="712.99" r="2.7" fill="#286DB0"/>
<circle cx="1219.29" cy="712.99" r="12" fill="#D1E5F0"/>
<circle cx="1254.02" cy="712.99" r="6.9" fill="#91C1DC"/>
<circle cx="1288.75" cy="712.99" r="1.8" fill="#72AFD2"/>
<circle cx="1323.48" cy="712.99" r="5.1" fill="#5698C6"/>
<circle cx="1358.21" cy="712.99" r="9" fill="#6CACD1"/>
<circle cx="1392.94" cy="712.99" r="9" fill="#B2182B"/>
<circle cx="1427.67" cy="712.99" r="9.2" fill="#ECF2F5"/>
<circle cx="1462.4" cy="712.99" r="3.5" fill="#A7CDE3"/>
<circle cx="1497.13" cy="712.99" r="1.4" fill="#91C1DC"/>
<circle cx="1531.86" cy="712.99" r="8.4" fill="#74B0D3"/>
<circle cx="1566.59" cy="712.99" r="8.2" fill="#B2182B"/>
<circle cx="1601.32" cy="712.99" r="2.5" fill="#BCD9E9"/>
<circle cx="1636.05" cy="712.99" r="4.5" fill="#D7E8F1"/>
<circle cx="1670.78" cy="712.99" r="7.1" fill="#BB2933"/>
<circle cx="1705.51" cy="712.99" r="3.3" fill="#B82330"/>
<circle cx="1740.24" cy="712.99" r="2.5" fill="#E0ECF3"/>
<line x1="1088" y1="765.28" x2="1094.2" y2="765.28" stroke="#000" stroke-width="1.6"/>
<text x="1082.5" y="773.58" font-size="23.1" text-anchor="end">Tex−early−prolif</text>
<circle cx="1115.1" cy="765.28" r="8.6" fill="#F7F7F7"/>
<circle cx="1149.83" cy="765.28" r="11.2" fill="#E6EFF4"/>
<circle cx="1184.56" cy="765.28" r="8.2" fill="#F9EFE9"/>
<circle cx="1219.29" cy="765.28" r="12" fill="#B1D3E6"/>
<circle cx="1254.02" cy="765.28" r="10.2" fill="#DAEAF2"/>
<circle cx="1288.75" cy="765.28" r="3.3" fill="#B1D3E6"/>
<circle cx="1323.48" cy="765.28" r="10.8" fill="#E8F0F4"/>
<circle cx="1358.21" cy="765.28" r="11.6" fill="#D1E5F0"/>
<circle cx="1392.94" cy="765.28" r="4.7" fill="#A1CAE1"/>
<circle cx="1427.67" cy="765.28" r="10.8" fill="#D1E5F0"/>
<circle cx="1462.4" cy="765.28" r="11.4" fill="#B2182B"/>
<circle cx="1497.13" cy="765.28" r="9.6" fill="#FCDECC"/>
<circle cx="1531.86" cy="765.28" r="10.8" fill="#ACD0E4"/>
<circle cx="1566.59" cy="765.28" r="1.4" fill="#A7CDE3"/>
<circle cx="1601.32" cy="765.28" r="2.9" fill="#BCD9E9"/>
<circle cx="1636.05" cy="765.28" r="5.5" fill="#2166AC"/>
<circle cx="1670.78" cy="765.28" r="1.4" fill="#A7CDE3"/>
<circle cx="1705.51" cy="765.28" r="2.2" fill="#B6D6E8"/>
<circle cx="1740.24" cy="765.28" r="1.6" fill="#B6D6E8"/>
<line x1="1088" y1="817.57" x2="1094.2" y2="817.57" stroke="#000" stroke-width="1.6"/>
<text x="1082.5" y="825.87" font-size="23.1" text-anchor="end">Tpex</text>
<circle cx="1115.1" cy="817.57" r="9.2" fill="#FBE6DA"/>
<circle cx="1149.83" cy="817.57" r="11.8" fill="#F9ECE4"/>
<circle cx="1184.56" cy="817.57" r="3.3" fill="#4E92C3"/>
<circle cx="1219.29" cy="817.57" r="12" fill="#B6D6E8"/>
<circle cx="1254.02" cy="817.57" r="5.7" fill="#82B8D7"/>
<circle cx="1288.75" cy="817.57" r="2.7" fill="#F9EDE6"/>
<circle cx="1323.48" cy="817.57" r="8.4" fill="#ACD0E4"/>
<circle cx="1358.21" cy="817.57" r="9.6" fill="#599CC8"/>
<circle cx="1392.94" cy="817.57" r="4.9" fill="#D5E7F1"/>
<circle cx="1427.67" cy="817.57" r="10" fill="#B1D3E6"/>
<circle cx="1462.4" cy="817.57" r="5.3" fill="#BCD9E9"/>
<circle cx="1497.13" cy="817.57" r="2.4" fill="#B1D3E6"/>
<circle cx="1531.86" cy="817.57" r="11" fill="#BCD9E9"/>
<circle cx="1566.59" cy="817.57" r="5.3" fill="#F8F4F2"/>
<circle cx="1601.32" cy="817.57" r="6.5" fill="#C13439"/>
<circle cx="1636.05" cy="817.57" r="7.5" fill="#F19671"/>
<circle cx="1670.78" cy="817.57" r="4.5" fill="#DEEBF2"/>
<circle cx="1705.51" cy="817.57" r="1.8" fill="#82B8D7"/>
<circle cx="1740.24" cy="817.57" r="7.1" fill="#B2182B"/>
<line x1="1088" y1="869.86" x2="1094.2" y2="869.86" stroke="#000" stroke-width="1.6"/>
<text x="1082.5" y="878.16" font-size="23.1" text-anchor="end">Tprolif</text>
<circle cx="1115.1" cy="869.86" r="7.8" fill="#D9E9F1"/>
<circle cx="1149.83" cy="869.86" r="11.2" fill="#ACD0E4"/>
<circle cx="1184.56" cy="869.86" r="7.6" fill="#EEF2F5"/>
<circle cx="1219.29" cy="869.86" r="12" fill="#60A2CC"/>
<circle cx="1254.02" cy="869.86" r="9.6" fill="#D1E5F0"/>
<circle cx="1288.75" cy="869.86" r="3.9" fill="#D3E6F0"/>
<circle cx="1323.48" cy="869.86" r="10.6" fill="#D5E7F1"/>
<circle cx="1358.21" cy="869.86" r="11.8" fill="#F5F6F7"/>
<circle cx="1392.94" cy="869.86" r="4.9" fill="#C1DCEB"/>
<circle cx="1427.67" cy="869.86" r="10.6" fill="#BAD8E9"/>
<circle cx="1462.4" cy="869.86" r="9.8" fill="#ECF2F5"/>
<circle cx="1497.13" cy="869.86" r="11.4" fill="#C43A3B"/>
<circle cx="1531.86" cy="869.86" r="11" fill="#E2EDF3"/>
<circle cx="1566.59" cy="869.86" r="1.4" fill="#A7CDE3"/>
<circle cx="1601.32" cy="869.86" r="2" fill="#60A2CC"/>
<circle cx="1636.05" cy="869.86" r="6.5" fill="#F7F7F7"/>
<circle cx="1670.78" cy="869.86" r="1.4" fill="#A7CDE3"/>
<circle cx="1705.51" cy="869.86" r="2.2" fill="#CCE2EE"/>
<circle cx="1740.24" cy="869.86" r="1.4" fill="#A7CDE3"/>
<line x1="1088" y1="922.15" x2="1094.2" y2="922.15" stroke="#000" stroke-width="1.6"/>
<text x="1082.5" y="930.45" font-size="23.1" text-anchor="end">Tem</text>
<circle cx="1115.1" cy="922.15" r="3.5" fill="#2F73B3"/>
<circle cx="1149.83" cy="922.15" r="9.8" fill="#ACD0E4"/>
<circle cx="1184.56" cy="922.15" r="7.6" fill="#FAE8DD"/>
<circle cx="1219.29" cy="922.15" r="12" fill="#FCDECC"/>
<circle cx="1254.02" cy="922.15" r="11.4" fill="#C3383A"/>
<circle cx="1288.75" cy="922.15" r="5.1" fill="#B82330"/>
<circle cx="1323.48" cy="922.15" r="10.2" fill="#D5E7F1"/>
<circle cx="1358.21" cy="922.15" r="11.8" fill="#F1946E"/>
<circle cx="1392.94" cy="922.15" r="6.9" fill="#F9EFE9"/>
<circle cx="1427.67" cy="922.15" r="11.6" fill="#B2182B"/>
<circle cx="1462.4" cy="922.15" r="4.9" fill="#BCD9E9"/>
<circle cx="1497.13" cy="922.15" r="2.5" fill="#ACD0E4"/>
<circle cx="1531.86" cy="922.15" r="10.8" fill="#C6DFED"/>
<circle cx="1566.59" cy="922.15" r="1.4" fill="#A7CDE3"/>
<circle cx="1601.32" cy="922.15" r="2" fill="#82B8D7"/>
<circle cx="1636.05" cy="922.15" r="5.5" fill="#B6D6E8"/>
<circle cx="1670.78" cy="922.15" r="1.4" fill="#A7CDE3"/>
<circle cx="1705.51" cy="922.15" r="2.9" fill="#E6EFF4"/>
<circle cx="1740.24" cy="922.15" r="1.4" fill="#A7CDE3"/>
<line x1="1088" y1="974.44" x2="1094.2" y2="974.44" stroke="#000" stroke-width="1.6"/>
<text x="1082.5" y="982.74" font-size="23.1" text-anchor="end">Tex−Prf1</text>
<circle cx="1115.1" cy="974.44" r="7.6" fill="#D5E7F1"/>
<circle cx="1149.83" cy="974.44" r="11.6" fill="#FBE6DA"/>
<circle cx="1184.56" cy="974.44" r="8.6" fill="#F4A685"/>
<circle cx="1219.29" cy="974.44" r="12" fill="#FBE3D5"/>
<circle cx="1254.02" cy="974.44" r="10" fill="#FBE3D5"/>
<circle cx="1288.75" cy="974.44" r="3.9" fill="#D1E5F0"/>
<circle cx="1323.48" cy="974.44" r="11.4" fill="#C13439"/>
<circle cx="1358.21" cy="974.44" r="11.4" fill="#F9EFE9"/>
<circle cx="1392.94" cy="974.44" r="3.5" fill="#97C4DE"/>
<circle cx="1427.67" cy="974.44" r="10.6" fill="#C1DCEB"/>
<circle cx="1462.4" cy="974.44" r="5.1" fill="#C6DFED"/>
<circle cx="1497.13" cy="974.44" r="2.5" fill="#B6D6E8"/>
<circle cx="1531.86" cy="974.44" r="11" fill="#C6DFED"/>
<circle cx="1566.59" cy="974.44" r="1" fill="#A7CDE3"/>
<circle cx="1601.32" cy="974.44" r="2.7" fill="#C1DCEB"/>
<circle cx="1636.05" cy="974.44" r="5.7" fill="#82B8D7"/>
<circle cx="1670.78" cy="974.44" r="1.2" fill="#A7CDE3"/>
<circle cx="1705.51" cy="974.44" r="1.8" fill="#A7CDE3"/>
<circle cx="1740.24" cy="974.44" r="1.8" fill="#C1DCEB"/>
<line x1="1088" y1="1026.73" x2="1094.2" y2="1026.73" stroke="#000" stroke-width="1.6"/>
<text x="1082.5" y="1035.03" font-size="23.1" text-anchor="end">Tex−prolif</text>
<circle cx="1115.1" cy="1026.73" r="9" fill="#FBE5D8"/>
<circle cx="1149.83" cy="1026.73" r="11.6" fill="#E8F0F4"/>
<circle cx="1184.56" cy="1026.73" r="7.6" fill="#D1E5F0"/>
<circle cx="1219.29" cy="1026.73" r="12" fill="#FAEAE1"/>
<circle cx="1254.02" cy="1026.73" r="9.4" fill="#CEE3EF"/>
<circle cx="1288.75" cy="1026.73" r="2.7" fill="#A7CDE3"/>
<circle cx="1323.48" cy="1026.73" r="10.6" fill="#D7E8F1"/>
<circle cx="1358.21" cy="1026.73" r="11.6" fill="#F5F6F7"/>
<circle cx="1392.94" cy="1026.73" r="5.3" fill="#C4DEEC"/>
<circle cx="1427.67" cy="1026.73" r="10.6" fill="#D1E5F0"/>
<circle cx="1462.4" cy="1026.73" r="5.9" fill="#D1E5F0"/>
<circle cx="1497.13" cy="1026.73" r="2.9" fill="#BEDAEA"/>
<circle cx="1531.86" cy="1026.73" r="11.8" fill="#FCDECC"/>
<circle cx="1566.59" cy="1026.73" r="1.2" fill="#A7CDE3"/>
<circle cx="1601.32" cy="1026.73" r="2.5" fill="#A7CDE3"/>
<circle cx="1636.05" cy="1026.73" r="6.5" fill="#D5E7F1"/>
<circle cx="1670.78" cy="1026.73" r="1" fill="#A7CDE3"/>
<circle cx="1705.51" cy="1026.73" r="1.8" fill="#9CC7E0"/>
<circle cx="1740.24" cy="1026.73" r="1.4" fill="#A7CDE3"/>
<line x1="1088" y1="1079.02" x2="1094.2" y2="1079.02" stroke="#000" stroke-width="1.6"/>
<text x="1082.5" y="1087.32" font-size="23.1" text-anchor="end">Tex−term</text>
<circle cx="1115.1" cy="1079.02" r="9.6" fill="#F29A76"/>
<circle cx="1149.83" cy="1079.02" r="11.8" fill="#F08E67"/>
<circle cx="1184.56" cy="1079.02" r="7.8" fill="#FBE6DA"/>
<circle cx="1219.29" cy="1079.02" r="12" fill="#F6B294"/>
<circle cx="1254.02" cy="1079.02" r="9.6" fill="#CAE1EE"/>
<circle cx="1288.75" cy="1079.02" r="2.5" fill="#9AC6DF"/>
<circle cx="1323.48" cy="1079.02" r="11" fill="#F7F7F7"/>
<circle cx="1358.21" cy="1079.02" r="11.6" fill="#FAEAE1"/>
<circle cx="1392.94" cy="1079.02" r="4.9" fill="#C6DFED"/>
<circle cx="1427.67" cy="1079.02" r="10.6" fill="#E6EFF4"/>
<circle cx="1462.4" cy="1079.02" r="5.5" fill="#CAE1EE"/>
<circle cx="1497.13" cy="1079.02" r="2.2" fill="#A7CDE3"/>
<circle cx="1531.86" cy="1079.02" r="10.4" fill="#8FC0DC"/>
<circle cx="1566.59" cy="1079.02" r="1.2" fill="#A7CDE3"/>
<circle cx="1601.32" cy="1079.02" r="4.1" fill="#FBE6DA"/>
<circle cx="1636.05" cy="1079.02" r="5.9" fill="#D6E7F1"/>
<circle cx="1670.78" cy="1079.02" r="1.2" fill="#A7CDE3"/>
<circle cx="1705.51" cy="1079.02" r="1.6" fill="#82B8D7"/>
<circle cx="1740.24" cy="1079.02" r="1.4" fill="#A7CDE3"/>
<line x1="1115.1" y1="1110" x2="1115.1" y2="1116.5" stroke="#000" stroke-width="1.6"/>
<text font-size="23.1" text-anchor="end" transform="translate(1127.1 1135) rotate(-45)">Tox</text>
<line x1="1149.83" y1="1110" x2="1149.83" y2="1116.5" stroke="#000" stroke-width="1.6"/>
<text font-size="23.1" text-anchor="end" transform="translate(1161.83 1135) rotate(-45)">Lag3</text>
<line x1="1184.56" y1="1110" x2="1184.56" y2="1116.5" stroke="#000" stroke-width="1.6"/>
<text font-size="23.1" text-anchor="end" transform="translate(1196.56 1135) rotate(-45)">Havcr2</text>
<line x1="1219.29" y1="1110" x2="1219.29" y2="1116.5" stroke="#000" stroke-width="1.6"/>
<text font-size="23.1" text-anchor="end" transform="translate(1231.29 1135) rotate(-45)">Nkg7</text>
<line x1="1254.02" y1="1110" x2="1254.02" y2="1116.5" stroke="#000" stroke-width="1.6"/>
<text font-size="23.1" text-anchor="end" transform="translate(1266.02 1135) rotate(-45)">Gzmb</text>
<line x1="1288.75" y1="1110" x2="1288.75" y2="1116.5" stroke="#000" stroke-width="1.6"/>
<text font-size="23.1" text-anchor="end" transform="translate(1300.75 1135) rotate(-45)">Gzmc</text>
<line x1="1323.48" y1="1110" x2="1323.48" y2="1116.5" stroke="#000" stroke-width="1.6"/>
<text font-size="23.1" text-anchor="end" transform="translate(1335.48 1135) rotate(-45)">Prf1</text>
<line x1="1358.21" y1="1110" x2="1358.21" y2="1116.5" stroke="#000" stroke-width="1.6"/>
<text font-size="23.1" text-anchor="end" transform="translate(1370.21 1135) rotate(-45)">Cxcr6</text>
<line x1="1392.94" y1="1110" x2="1392.94" y2="1116.5" stroke="#000" stroke-width="1.6"/>
<text font-size="23.1" text-anchor="end" transform="translate(1404.94 1135) rotate(-45)">Cxcr3</text>
<line x1="1427.67" y1="1110" x2="1427.67" y2="1116.5" stroke="#000" stroke-width="1.6"/>
<text font-size="23.1" text-anchor="end" transform="translate(1439.67 1135) rotate(-45)">Ly6c2</text>
<line x1="1462.4" y1="1110" x2="1462.4" y2="1116.5" stroke="#000" stroke-width="1.6"/>
<text font-size="23.1" text-anchor="end" transform="translate(1474.4 1135) rotate(-45)">Mki67</text>
<line x1="1497.13" y1="1110" x2="1497.13" y2="1116.5" stroke="#000" stroke-width="1.6"/>
<text font-size="23.1" text-anchor="end" transform="translate(1509.13 1135) rotate(-45)">Ccnb2</text>
<line x1="1531.86" y1="1110" x2="1531.86" y2="1116.5" stroke="#000" stroke-width="1.6"/>
<text font-size="23.1" text-anchor="end" transform="translate(1543.86 1135) rotate(-45)">Nme1</text>
<line x1="1566.59" y1="1110" x2="1566.59" y2="1116.5" stroke="#000" stroke-width="1.6"/>
<text font-size="23.1" text-anchor="end" transform="translate(1578.59 1135) rotate(-45)">Tcf7</text>
<line x1="1601.32" y1="1110" x2="1601.32" y2="1116.5" stroke="#000" stroke-width="1.6"/>
<text font-size="23.1" text-anchor="end" transform="translate(1613.32 1135) rotate(-45)">Bach2</text>
<line x1="1636.05" y1="1110" x2="1636.05" y2="1116.5" stroke="#000" stroke-width="1.6"/>
<text font-size="23.1" text-anchor="end" transform="translate(1648.05 1135) rotate(-45)">Batf</text>
<line x1="1670.78" y1="1110" x2="1670.78" y2="1116.5" stroke="#000" stroke-width="1.6"/>
<text font-size="23.1" text-anchor="end" transform="translate(1682.78 1135) rotate(-45)">Slamf6</text>
<line x1="1705.51" y1="1110" x2="1705.51" y2="1116.5" stroke="#000" stroke-width="1.6"/>
<text font-size="23.1" text-anchor="end" transform="translate(1717.51 1135) rotate(-45)">Lef1</text>
<line x1="1740.24" y1="1110" x2="1740.24" y2="1116.5" stroke="#000" stroke-width="1.6"/>
<text font-size="23.1" text-anchor="end" transform="translate(1752.24 1135) rotate(-45)">Ccr7</text>
<line x1="1105.2" y1="612.1" x2="1190.2" y2="612.1" stroke="#000" stroke-width="1.5"/>
<text font-size="25" transform="translate(1137.5 596) rotate(-26)">exhaustion</text>
<line x1="1208.2" y1="612.1" x2="1336.6" y2="612.1" stroke="#000" stroke-width="1.5"/>
<text font-size="25" transform="translate(1268.6 596.3) rotate(-26)">effector</text>
<line x1="1350.3" y1="612.1" x2="1438.8" y2="612.1" stroke="#000" stroke-width="1.5"/>
<text font-size="25" transform="translate(1378.5 595.7) rotate(-26)">differentiation</text>
<line x1="1459" y1="612.1" x2="1542.4" y2="612.1" stroke="#000" stroke-width="1.5"/>
<text font-size="25" transform="translate(1499.8 592.5) rotate(-26)">proliferation</text>
<line x1="1556.2" y1="612.1" x2="1747.9" y2="612.1" stroke="#000" stroke-width="1.5"/>
<text font-size="25" transform="translate(1633.5 592.5) rotate(-26)">progenitor</text>
<text x="1786" y="727" font-size="20.1">Percent Expressed</text>
<circle cx="1799.5" cy="752.6" r="3.9" fill="#000"/>
<text x="1824.6" y="758.7" font-size="17.6">25</text>
<circle cx="1799.5" cy="778.6" r="6.6" fill="#000"/>
<text x="1824.6" y="784.7" font-size="17.6">50</text>
<circle cx="1799.5" cy="804.7" r="9.3" fill="#000"/>
<text x="1824.6" y="810.8" font-size="17.6">75</text>
<circle cx="1799.5" cy="832" r="12.2" fill="#000"/>
<text x="1824.6" y="838.1" font-size="17.6">100</text>
<text x="1786" y="887.6" font-size="20.1">Average Expression</text>
<defs><linearGradient id="eg" x1="0" y1="0" x2="0" y2="1"><stop offset="0" stop-color="#B2182B"/><stop offset="0.17" stop-color="#EF8A62"/><stop offset="0.33" stop-color="#FDDBC7"/><stop offset="0.5" stop-color="#F7F7F7"/><stop offset="0.67" stop-color="#D1E5F0"/><stop offset="0.83" stop-color="#67A9CF"/><stop offset="1" stop-color="#2166AC"/></linearGradient></defs>
<rect x="1785.1" y="899.7" width="26.6" height="130.9" fill="url(#eg)"/>
<line x1="1785.1" y1="915.4" x2="1790.3" y2="915.4" stroke="#fff" stroke-width="0.8"/>
<line x1="1806.5" y1="915.4" x2="1811.7" y2="915.4" stroke="#fff" stroke-width="0.8"/>
<text x="1822" y="921.5" font-size="17.6">2</text>
<line x1="1785.1" y1="946.6" x2="1790.3" y2="946.6" stroke="#fff" stroke-width="0.8"/>
<line x1="1806.5" y1="946.6" x2="1811.7" y2="946.6" stroke="#fff" stroke-width="0.8"/>
<text x="1822" y="952.7" font-size="17.6">1</text>
<line x1="1785.1" y1="978.1" x2="1790.3" y2="978.1" stroke="#fff" stroke-width="0.8"/>
<line x1="1806.5" y1="978.1" x2="1811.7" y2="978.1" stroke="#fff" stroke-width="0.8"/>
<text x="1822" y="984.2" font-size="17.6">0</text>
<line x1="1785.1" y1="1009.4" x2="1790.3" y2="1009.4" stroke="#fff" stroke-width="0.8"/>
<line x1="1806.5" y1="1009.4" x2="1811.7" y2="1009.4" stroke="#fff" stroke-width="0.8"/>
<text x="1822" y="1015.5" font-size="17.6">−1</text>
<text x="12.2" y="1244" font-size="47">f</text>
<text x="92" y="1254.5" font-size="31.2">Cluster Proportions</text>
<line x1="92.2" y1="1270.7" x2="92.2" y2="1650.3" stroke="#000" stroke-width="1.6"/>
<line x1="92.2" y1="1649.5" x2="572.2" y2="1649.5" stroke="#000" stroke-width="1.6"/>
<line x1="85.5" y1="1633" x2="92.2" y2="1633" stroke="#000" stroke-width="1.6"/>
<text x="81" y="1642.2" font-size="25.5" text-anchor="end">0.0</text>
<line x1="85.5" y1="1533.27" x2="92.2" y2="1533.27" stroke="#000" stroke-width="1.6"/>
<text x="81" y="1542.47" font-size="25.5" text-anchor="end">0.1</text>
<line x1="85.5" y1="1433.54" x2="92.2" y2="1433.54" stroke="#000" stroke-width="1.6"/>
<text x="81" y="1442.74" font-size="25.5" text-anchor="end">0.2</text>
<line x1="85.5" y1="1333.81" x2="92.2" y2="1333.81" stroke="#000" stroke-width="1.6"/>
<text x="81" y="1343.01" font-size="25.5" text-anchor="end">0.3</text>
<text font-size="25.5" text-anchor="middle" transform="translate(36 1459) rotate(-90)">Frequency of cells</text>
<rect x="99.55" y="1287.54" width="23.5" height="345.46" fill="#a9a9a9"/>
<rect x="123.05" y="1362.13" width="23.5" height="270.87" fill="#12807f"/>
<line x1="123.05" y1="1649.5" x2="123.05" y2="1656.5" stroke="#000" stroke-width="1.6"/>
<text font-size="25.5" text-anchor="end" transform="translate(136.05 1673.5) rotate(-45)">Tex−term</text>
<rect x="151.8" y="1345.28" width="23.5" height="287.72" fill="#a9a9a9"/>
<rect x="175.3" y="1310.87" width="23.5" height="322.13" fill="#12807f"/>
<line x1="175.3" y1="1649.5" x2="175.3" y2="1656.5" stroke="#000" stroke-width="1.6"/>
<text font-size="25.5" text-anchor="end" transform="translate(188.3 1673.5) rotate(-45)">Tex−prolif</text>
<rect x="204.05" y="1517.81" width="23.5" height="115.19" fill="#a9a9a9"/>
<rect x="227.55" y="1534.37" width="23.5" height="98.63" fill="#12807f"/>
<line x1="227.55" y1="1649.5" x2="227.55" y2="1656.5" stroke="#000" stroke-width="1.6"/>
<text font-size="25.5" text-anchor="end" transform="translate(240.55 1673.5) rotate(-45)">Tex−Prf1</text>
<rect x="256.3" y="1581.34" width="23.5" height="51.66" fill="#a9a9a9"/>
<rect x="279.8" y="1513.92" width="23.5" height="119.08" fill="#12807f"/>
<line x1="279.8" y1="1649.5" x2="279.8" y2="1656.5" stroke="#000" stroke-width="1.6"/>
<text font-size="25.5" text-anchor="end" transform="translate(292.8 1673.5) rotate(-45)">Tem</text>
<rect x="308.55" y="1571.67" width="23.5" height="61.33" fill="#a9a9a9"/>
<rect x="332.05" y="1548.33" width="23.5" height="84.67" fill="#12807f"/>
<line x1="332.05" y1="1649.5" x2="332.05" y2="1656.5" stroke="#000" stroke-width="1.6"/>
<text font-size="25.5" text-anchor="end" transform="translate(345.05 1673.5) rotate(-45)">Tprolif</text>
<rect x="360.8" y="1554.81" width="23.5" height="78.19" fill="#a9a9a9"/>
<rect x="384.3" y="1575.26" width="23.5" height="57.74" fill="#12807f"/>
<line x1="384.3" y1="1649.5" x2="384.3" y2="1656.5" stroke="#000" stroke-width="1.6"/>
<text font-size="25.5" text-anchor="end" transform="translate(397.3 1673.5) rotate(-45)">Tpex</text>
<rect x="413.05" y="1590.71" width="23.5" height="42.29" fill="#a9a9a9"/>
<rect x="436.55" y="1601.09" width="23.5" height="31.91" fill="#12807f"/>
<line x1="436.55" y1="1649.5" x2="436.55" y2="1656.5" stroke="#000" stroke-width="1.6"/>
<text font-size="25.5" text-anchor="end" transform="translate(449.55 1673.5) rotate(-45)">Tex−early−prolif</text>
<rect x="465.3" y="1618.64" width="23.5" height="14.36" fill="#a9a9a9"/>
<rect x="488.8" y="1622.23" width="23.5" height="10.77" fill="#12807f"/>
<line x1="488.8" y1="1649.5" x2="488.8" y2="1656.5" stroke="#000" stroke-width="1.6"/>
<text font-size="25.5" text-anchor="end" transform="translate(501.8 1673.5) rotate(-45)">Tnaive−like</text>
<rect x="517.55" y="1629.41" width="23.5" height="3.59" fill="#a9a9a9"/>
<rect x="541.05" y="1629.01" width="23.5" height="3.99" fill="#12807f"/>
<line x1="541.05" y1="1649.5" x2="541.05" y2="1656.5" stroke="#000" stroke-width="1.6"/>
<text font-size="25.5" text-anchor="end" transform="translate(554.05 1673.5) rotate(-45)">Tcytokine</text>
<rect x="436.3" y="1388.3" width="27.6" height="27.6" fill="#a9a9a9"/>
<rect x="436.3" y="1418.2" width="27.6" height="27.6" fill="#12807f"/>
<text x="476" y="1412" font-size="24.9">intergenic</text>
<text x="476" y="1441.5" font-size="24.8"><tspan font-style="italic">Snx9</tspan> KO</text>
<text x="620.2" y="1243.5" font-size="47">g</text>
<text x="717.5" y="1256.1" font-size="28.6"><tspan font-style="italic">Snx9</tspan> KO vs intergenic OTI</text>
<line x1="747" y1="1277.3" x2="747" y2="1680.5" stroke="#e7e7e7" stroke-width="1.4"/>
<line x1="776.3" y1="1277.3" x2="776.3" y2="1680.5" stroke="#e7e7e7" stroke-width="1.4"/>
<line x1="805.6" y1="1277.3" x2="805.6" y2="1680.5" stroke="#e7e7e7" stroke-width="1.4"/>
<line x1="834.9" y1="1277.3" x2="834.9" y2="1680.5" stroke="#e7e7e7" stroke-width="1.4"/>
<line x1="864.2" y1="1277.3" x2="864.2" y2="1680.5" stroke="#e7e7e7" stroke-width="1.4"/>
<line x1="893.5" y1="1277.3" x2="893.5" y2="1680.5" stroke="#e7e7e7" stroke-width="1.4"/>
<line x1="922.8" y1="1277.3" x2="922.8" y2="1680.5" stroke="#e7e7e7" stroke-width="1.4"/>
<line x1="952.1" y1="1277.3" x2="952.1" y2="1680.5" stroke="#e7e7e7" stroke-width="1.4"/>
<line x1="981.4" y1="1277.3" x2="981.4" y2="1680.5" stroke="#e7e7e7" stroke-width="1.4"/>
<line x1="1010.7" y1="1277.3" x2="1010.7" y2="1680.5" stroke="#e7e7e7" stroke-width="1.4"/>
<line x1="730" y1="1309.8" x2="1028.2" y2="1309.8" stroke="#e7e7e7" stroke-width="1.4"/>
<line x1="730" y1="1366.05" x2="1028.2" y2="1366.05" stroke="#e7e7e7" stroke-width="1.4"/>
<line x1="730" y1="1422.3" x2="1028.2" y2="1422.3" stroke="#e7e7e7" stroke-width="1.4"/>
<line x1="730" y1="1478.55" x2="1028.2" y2="1478.55" stroke="#e7e7e7" stroke-width="1.4"/>
<line x1="730" y1="1534.8" x2="1028.2" y2="1534.8" stroke="#e7e7e7" stroke-width="1.4"/>
<line x1="730" y1="1591.05" x2="1028.2" y2="1591.05" stroke="#e7e7e7" stroke-width="1.4"/>
<line x1="730" y1="1647.3" x2="1028.2" y2="1647.3" stroke="#e7e7e7" stroke-width="1.4"/>
<circle cx="747" cy="1309.8" r="6.8" fill="#DCEAF2"/>
<circle cx="747" cy="1366.05" r="6" fill="#DEEBF2"/>
<circle cx="776.3" cy="1366.05" r="6.8" fill="#6FAED2"/>
<circle cx="747" cy="1422.3" r="10.2" fill="#DAEAF2"/>
<circle cx="776.3" cy="1422.3" r="5.8" fill="#E2EDF3"/>
<circle cx="805.6" cy="1422.3" r="6.8" fill="#F8BCA1"/>
<circle cx="834.9" cy="1422.3" r="6.4" fill="#F5AA8A"/>
<circle cx="864.2" cy="1422.3" r="7.9" fill="#DD6852"/>
<circle cx="893.5" cy="1422.3" r="6.8" fill="#87BBD9"/>
<circle cx="922.8" cy="1422.3" r="6.4" fill="#FBE3D5"/>
<circle cx="747" cy="1478.55" r="10.4" fill="#DAEAF2"/>
<circle cx="776.3" cy="1478.55" r="7.7" fill="#E2EDF3"/>
<circle cx="864.2" cy="1478.55" r="7.7" fill="#E97F5D"/>
<circle cx="893.5" cy="1478.55" r="8.3" fill="#84B9D8"/>
<circle cx="922.8" cy="1478.55" r="7.1" fill="#FBE5D8"/>
<circle cx="952.1" cy="1478.55" r="5.6" fill="#DEEBF2"/>
<circle cx="1010.7" cy="1478.55" r="8.9" fill="#FDDCC9"/>
<circle cx="747" cy="1534.8" r="7.3" fill="#DAEAF2"/>
<circle cx="1010.7" cy="1591.05" r="6.8" fill="#C9E0ED"/>
<circle cx="747" cy="1647.3" r="14.1" fill="#DAEAF2"/>
<circle cx="776.3" cy="1647.3" r="9.5" fill="#DEEBF2"/>
<circle cx="864.2" cy="1647.3" r="8.9" fill="#F4A685"/>
<circle cx="893.5" cy="1647.3" r="10" fill="#9CC7E0"/>
<circle cx="922.8" cy="1647.3" r="9.8" fill="#FCE1D1"/>
<circle cx="952.1" cy="1647.3" r="10.4" fill="#D3E6F0"/>
<circle cx="981.4" cy="1647.3" r="7.5" fill="#E8F0F4"/>
<rect x="730" y="1277.3" width="298.2" height="403.2" fill="none" stroke="#666" stroke-width="1.4"/>
<line x1="724" y1="1309.8" x2="729.3" y2="1309.8" stroke="#333" stroke-width="1.6"/>
<text x="719" y="1318.8" font-size="25.2" text-anchor="end">Tprolif</text>
<line x1="724" y1="1366.05" x2="729.3" y2="1366.05" stroke="#333" stroke-width="1.6"/>
<text x="719" y="1375.05" font-size="25.2" text-anchor="end">Tpex</text>
<line x1="724" y1="1422.3" x2="729.3" y2="1422.3" stroke="#333" stroke-width="1.6"/>
<text x="719" y="1431.3" font-size="25.2" text-anchor="end">Tex−term</text>
<line x1="724" y1="1478.55" x2="729.3" y2="1478.55" stroke="#333" stroke-width="1.6"/>
<text x="719" y="1487.55" font-size="25.2" text-anchor="end">Tex−prolif</text>
<line x1="724" y1="1534.8" x2="729.3" y2="1534.8" stroke="#333" stroke-width="1.6"/>
<text x="719" y="1543.8" font-size="25.2" text-anchor="end">Tex−Prf1</text>
<line x1="724" y1="1591.05" x2="729.3" y2="1591.05" stroke="#333" stroke-width="1.6"/>
<text x="719" y="1600.05" font-size="25.2" text-anchor="end">Tem</text>
<line x1="724" y1="1647.3" x2="729.3" y2="1647.3" stroke="#333" stroke-width="1.6"/>
<text x="719" y="1656.3" font-size="25.2" text-anchor="end">all_cells</text>
<line x1="747" y1="1681.2" x2="747" y2="1686.8" stroke="#333" stroke-width="1.6"/>
<text font-size="25.2" text-anchor="end" transform="translate(759.5 1706) rotate(-45)">Snx9</text>
<line x1="776.3" y1="1681.2" x2="776.3" y2="1686.8" stroke="#333" stroke-width="1.6"/>
<text font-size="25.2" text-anchor="end" transform="translate(788.8 1706) rotate(-45)">Il2ra</text>
<line x1="805.6" y1="1681.2" x2="805.6" y2="1686.8" stroke="#333" stroke-width="1.6"/>
<text font-size="25.2" text-anchor="end" transform="translate(818.1 1706) rotate(-45)">Ccl3</text>
<line x1="834.9" y1="1681.2" x2="834.9" y2="1686.8" stroke="#333" stroke-width="1.6"/>
<text font-size="25.2" text-anchor="end" transform="translate(847.4 1706) rotate(-45)">Ccl4</text>
<line x1="864.2" y1="1681.2" x2="864.2" y2="1686.8" stroke="#333" stroke-width="1.6"/>
<text font-size="25.2" text-anchor="end" transform="translate(876.7 1706) rotate(-45)">Ccl5</text>
<line x1="893.5" y1="1681.2" x2="893.5" y2="1686.8" stroke="#333" stroke-width="1.6"/>
<text font-size="25.2" text-anchor="end" transform="translate(906 1706) rotate(-45)">Xcl1</text>
<line x1="922.8" y1="1681.2" x2="922.8" y2="1686.8" stroke="#333" stroke-width="1.6"/>
<text font-size="25.2" text-anchor="end" transform="translate(935.3 1706) rotate(-45)">Cxcr6</text>
<line x1="952.1" y1="1681.2" x2="952.1" y2="1686.8" stroke="#333" stroke-width="1.6"/>
<text font-size="25.2" text-anchor="end" transform="translate(964.6 1706) rotate(-45)">Nr4a2</text>
<line x1="981.4" y1="1681.2" x2="981.4" y2="1686.8" stroke="#333" stroke-width="1.6"/>
<text font-size="25.2" text-anchor="end" transform="translate(993.9 1706) rotate(-45)">Nr4a3</text>
<line x1="1010.7" y1="1681.2" x2="1010.7" y2="1686.8" stroke="#333" stroke-width="1.6"/>
<text font-size="25.2" text-anchor="end" transform="translate(1023.2 1706) rotate(-45)">Tox</text>
<text x="1061.5" y="1292.6" font-size="25.2">−log10(adj. p value)</text>
<circle cx="1077.7" cy="1321.9" r="9.6" fill="#000"/>
<text x="1107.6" y="1330" font-size="25.2">20</text>
<circle cx="1077.7" cy="1355.7" r="11.3" fill="#000"/>
<text x="1107.6" y="1363.8" font-size="25.2">40</text>
<circle cx="1077.7" cy="1389.3" r="12.7" fill="#000"/>
<text x="1107.6" y="1397.4" font-size="25.2">60</text>
<circle cx="1077.7" cy="1423.5" r="14.1" fill="#000"/>
<text x="1107.6" y="1431.6" font-size="25.2">80</text>
<text x="1061" y="1504.1" font-size="25.2">log2 fold change</text>
<defs><linearGradient id="gg" x1="0" y1="0" x2="0" y2="1"><stop offset="0" stop-color="#B2182B"/><stop offset="0.17" stop-color="#EF8A62"/><stop offset="0.33" stop-color="#FDDBC7"/><stop offset="0.5" stop-color="#F7F7F7"/><stop offset="0.67" stop-color="#D1E5F0"/><stop offset="0.83" stop-color="#67A9CF"/><stop offset="1" stop-color="#2166AC"/></linearGradient></defs>
<rect x="1060.4" y="1520.4" width="34.5" height="169.3" fill="url(#gg)"/>
<line x1="1060.4" y1="1520.4" x2="1067" y2="1520.4" stroke="#fff" stroke-width="0.9"/>
<line x1="1088.3" y1="1520.4" x2="1094.9" y2="1520.4" stroke="#fff" stroke-width="0.9"/>
<text x="1107.6" y="1528.5" font-size="25.2">1.0</text>
<line x1="1060.4" y1="1562.6" x2="1067" y2="1562.6" stroke="#fff" stroke-width="0.9"/>
<line x1="1088.3" y1="1562.6" x2="1094.9" y2="1562.6" stroke="#fff" stroke-width="0.9"/>
<text x="1107.6" y="1570.7" font-size="25.2">0.5</text>
<line x1="1060.4" y1="1605" x2="1067" y2="1605" stroke="#fff" stroke-width="0.9"/>
<line x1="1088.3" y1="1605" x2="1094.9" y2="1605" stroke="#fff" stroke-width="0.9"/>
<text x="1107.6" y="1613.1" font-size="25.2">0.0</text>
<line x1="1060.4" y1="1647.5" x2="1067" y2="1647.5" stroke="#fff" stroke-width="0.9"/>
<line x1="1088.3" y1="1647.5" x2="1094.9" y2="1647.5" stroke="#fff" stroke-width="0.9"/>
<text x="1107.6" y="1655.6" font-size="25.2">−0.5</text>
<line x1="1060.4" y1="1689.7" x2="1067" y2="1689.7" stroke="#fff" stroke-width="0.9"/>
<line x1="1088.3" y1="1689.7" x2="1094.9" y2="1689.7" stroke="#fff" stroke-width="0.9"/>
<text x="1107.6" y="1697.8" font-size="25.2">−1.0</text>
<text x="1309.2" y="1246.1" font-size="47">h</text>
<line x1="1465.9" y1="1650.5" x2="1465.9" y2="1345.7" stroke="#000" stroke-width="1.6"/>
<line x1="1454.4" y1="1649.7" x2="1465.9" y2="1649.7" stroke="#000" stroke-width="1.6"/>
<text x="1449.6" y="1657.3" font-size="23" text-anchor="end">0.0</text>
<line x1="1454.4" y1="1573.9" x2="1465.9" y2="1573.9" stroke="#000" stroke-width="1.6"/>
<text x="1439.62" y="1583.3" font-size="23" text-anchor="end">5.0×10</text>
<text x="1449.6" y="1574.8" font-size="16.5" text-anchor="end">5</text>
<line x1="1454.4" y1="1498.1" x2="1465.9" y2="1498.1" stroke="#000" stroke-width="1.6"/>
<text x="1439.62" y="1507.5" font-size="23" text-anchor="end">1.0×10</text>
<text x="1449.6" y="1499" font-size="16.5" text-anchor="end">6</text>
<line x1="1454.4" y1="1422.3" x2="1465.9" y2="1422.3" stroke="#000" stroke-width="1.6"/>
<text x="1439.62" y="1431.7" font-size="23" text-anchor="end">1.5×10</text>
<text x="1449.6" y="1423.2" font-size="16.5" text-anchor="end">6</text>
<line x1="1454.4" y1="1346.5" x2="1465.9" y2="1346.5" stroke="#000" stroke-width="1.6"/>
<text x="1439.62" y="1355.9" font-size="23" text-anchor="end">2.0×10</text>
<text x="1449.6" y="1347.4" font-size="16.5" text-anchor="end">6</text>
<rect x="1482" y="1578.6" width="29.6" height="71.1" fill="#fff" stroke="#000" stroke-width="1.4"/>
<rect x="1528.9" y="1465.2" width="29.6" height="184.5" fill="#fff" stroke="#000" stroke-width="1.4"/>
<circle cx="1496.8" cy="1487.9" r="4.3" fill="#c4c4c4" stroke="#000" stroke-width="1.2"/>
<circle cx="1496.8" cy="1549.2" r="4.3" fill="#c4c4c4" stroke="#000" stroke-width="1.2"/>
<circle cx="1496.8" cy="1581.9" r="4.3" fill="#c4c4c4" stroke="#000" stroke-width="1.2"/>
<circle cx="1485.8" cy="1610.6" r="4.3" fill="#c4c4c4" stroke="#000" stroke-width="1.2"/>
<circle cx="1508.1" cy="1616.7" r="4.3" fill="#c4c4c4" stroke="#000" stroke-width="1.2"/>
<circle cx="1485.8" cy="1623.1" r="4.3" fill="#c4c4c4" stroke="#000" stroke-width="1.2"/>
<circle cx="1543.7" cy="1380" r="4.3" fill="#0a8a8c" stroke="#000" stroke-width="1.2"/>
<circle cx="1543.7" cy="1389.1" r="4.3" fill="#0a8a8c" stroke="#000" stroke-width="1.2"/>
<circle cx="1543.7" cy="1461.3" r="4.3" fill="#0a8a8c" stroke="#000" stroke-width="1.2"/>
<circle cx="1543.7" cy="1482.9" r="4.3" fill="#0a8a8c" stroke="#000" stroke-width="1.2"/>
<circle cx="1543.7" cy="1529" r="4.3" fill="#0a8a8c" stroke="#000" stroke-width="1.2"/>
<circle cx="1543.7" cy="1546" r="4.3" fill="#0a8a8c" stroke="#000" stroke-width="1.2"/>
<line x1="1454.4" y1="1649.7" x2="1575.4" y2="1649.7" stroke="#000" stroke-width="1.6"/>
<line x1="1496.8" y1="1649.7" x2="1496.8" y2="1661.5" stroke="#000" stroke-width="1.6"/>
<text font-size="24" text-anchor="end" transform="translate(1504.8 1679.7) rotate(-45)">OTI intergenic</text>
<line x1="1543.7" y1="1649.7" x2="1543.7" y2="1661.5" stroke="#000" stroke-width="1.6"/>
<text font-size="24" text-anchor="end" transform="translate(1551.7 1679.7) rotate(-45)">OTI <tspan font-style="italic">Snx9</tspan> KO</text>
<text x="1519.7" y="1321.1" font-size="28.2" text-anchor="middle">endo. CD8 T</text>
<line x1="1496.3" y1="1364.6" x2="1544.4" y2="1364.6" stroke="#000" stroke-width="1.5"/>
<text x="1520.35" y="1362.4" font-size="26.5" text-anchor="middle" font-weight="bold">**</text>
<line x1="1496.8" y1="1525.9" x2="1496.8" y2="1630.3" stroke="#000" stroke-width="1.3"/>
<line x1="1488.55" y1="1525.9" x2="1505.05" y2="1525.9" stroke="#000" stroke-width="1.3"/>
<line x1="1488.55" y1="1630.3" x2="1505.05" y2="1630.3" stroke="#000" stroke-width="1.3"/>
<line x1="1543.7" y1="1395.5" x2="1543.7" y2="1534" stroke="#000" stroke-width="1.3"/>
<line x1="1535.45" y1="1395.5" x2="1551.95" y2="1395.5" stroke="#000" stroke-width="1.3"/>
<line x1="1535.45" y1="1534" x2="1551.95" y2="1534" stroke="#000" stroke-width="1.3"/>
<circle cx="1496.8" cy="1487.9" r="4.3" fill="#c4c4c4" stroke="#000" stroke-width="1.2"/>
<circle cx="1496.8" cy="1549.2" r="4.3" fill="#c4c4c4" stroke="#000" stroke-width="1.2"/>
<circle cx="1496.8" cy="1581.9" r="4.3" fill="#c4c4c4" stroke="#000" stroke-width="1.2"/>
<circle cx="1485.8" cy="1610.6" r="4.3" fill="#c4c4c4" stroke="#000" stroke-width="1.2"/>
<circle cx="1508.1" cy="1616.7" r="4.3" fill="#c4c4c4" stroke="#000" stroke-width="1.2"/>
<circle cx="1485.8" cy="1623.1" r="4.3" fill="#c4c4c4" stroke="#000" stroke-width="1.2"/>
<circle cx="1543.7" cy="1380" r="4.3" fill="#0a8a8c" stroke="#000" stroke-width="1.2"/>
<circle cx="1543.7" cy="1389.1" r="4.3" fill="#0a8a8c" stroke="#000" stroke-width="1.2"/>
<circle cx="1543.7" cy="1461.3" r="4.3" fill="#0a8a8c" stroke="#000" stroke-width="1.2"/>
<circle cx="1543.7" cy="1482.9" r="4.3" fill="#0a8a8c" stroke="#000" stroke-width="1.2"/>
<circle cx="1543.7" cy="1529" r="4.3" fill="#0a8a8c" stroke="#000" stroke-width="1.2"/>
<circle cx="1543.7" cy="1546" r="4.3" fill="#0a8a8c" stroke="#000" stroke-width="1.2"/>
<text font-size="24.2" text-anchor="middle" transform="translate(1327.7 1498) rotate(-90)">endo. CD8+ T cells</text>
<text font-size="24.2" text-anchor="middle" transform="translate(1357 1498) rotate(-90)">per g tumor</text>
<line x1="1730.4" y1="1650.1" x2="1730.4" y2="1344" stroke="#000" stroke-width="1.6"/>
<line x1="1718.9" y1="1649.3" x2="1730.4" y2="1649.3" stroke="#000" stroke-width="1.6"/>
<text x="1713.8" y="1656.9" font-size="23" text-anchor="end">0.0</text>
<line x1="1718.9" y1="1573.17" x2="1730.4" y2="1573.17" stroke="#000" stroke-width="1.6"/>
<text x="1703.82" y="1582.58" font-size="23" text-anchor="end">5.0×10</text>
<text x="1713.8" y="1574.08" font-size="16.5" text-anchor="end">3</text>
<line x1="1718.9" y1="1497.05" x2="1730.4" y2="1497.05" stroke="#000" stroke-width="1.6"/>
<text x="1703.82" y="1506.45" font-size="23" text-anchor="end">1.0×10</text>
<text x="1713.8" y="1497.95" font-size="16.5" text-anchor="end">4</text>
<line x1="1718.9" y1="1420.92" x2="1730.4" y2="1420.92" stroke="#000" stroke-width="1.6"/>
<text x="1703.82" y="1430.33" font-size="23" text-anchor="end">1.5×10</text>
<text x="1713.8" y="1421.83" font-size="16.5" text-anchor="end">4</text>
<line x1="1718.9" y1="1344.8" x2="1730.4" y2="1344.8" stroke="#000" stroke-width="1.6"/>
<text x="1703.82" y="1354.2" font-size="23" text-anchor="end">2.0×10</text>
<text x="1713.8" y="1345.7" font-size="16.5" text-anchor="end">4</text>
<rect x="1746.6" y="1575.5" width="29.6" height="73.8" fill="#fff" stroke="#000" stroke-width="1.4"/>
<rect x="1793.8" y="1512.5" width="29.6" height="136.8" fill="#fff" stroke="#000" stroke-width="1.4"/>
<circle cx="1761.4" cy="1525.3" r="4.3" fill="#c4c4c4" stroke="#000" stroke-width="1.2"/>
<circle cx="1761.4" cy="1564.7" r="4.3" fill="#c4c4c4" stroke="#000" stroke-width="1.2"/>
<circle cx="1772.7" cy="1578.1" r="4.3" fill="#c4c4c4" stroke="#000" stroke-width="1.2"/>
<circle cx="1750.2" cy="1585" r="4.3" fill="#c4c4c4" stroke="#000" stroke-width="1.2"/>
<circle cx="1772.7" cy="1589.6" r="4.3" fill="#c4c4c4" stroke="#000" stroke-width="1.2"/>
<circle cx="1761.4" cy="1607.3" r="4.3" fill="#c4c4c4" stroke="#000" stroke-width="1.2"/>
<circle cx="1808.6" cy="1431.1" r="4.3" fill="#0a8a8c" stroke="#000" stroke-width="1.2"/>
<circle cx="1808.6" cy="1480.5" r="4.3" fill="#0a8a8c" stroke="#000" stroke-width="1.2"/>
<circle cx="1808.6" cy="1526.1" r="4.3" fill="#0a8a8c" stroke="#000" stroke-width="1.2"/>
<circle cx="1797.8" cy="1539.5" r="4.3" fill="#0a8a8c" stroke="#000" stroke-width="1.2"/>
<circle cx="1820.3" cy="1545" r="4.3" fill="#0a8a8c" stroke="#000" stroke-width="1.2"/>
<circle cx="1797.8" cy="1550.9" r="4.3" fill="#0a8a8c" stroke="#000" stroke-width="1.2"/>
<line x1="1718.4" y1="1649.3" x2="1840.3" y2="1649.3" stroke="#000" stroke-width="1.6"/>
<line x1="1761.4" y1="1649.3" x2="1761.4" y2="1661.1" stroke="#000" stroke-width="1.6"/>
<text font-size="24" text-anchor="end" transform="translate(1769.4 1679.3) rotate(-45)">OTI intergenic</text>
<line x1="1808.6" y1="1649.3" x2="1808.6" y2="1661.1" stroke="#000" stroke-width="1.6"/>
<text font-size="24" text-anchor="end" transform="translate(1816.6 1679.3) rotate(-45)">OTI Snx9 KO</text>
<text x="1783.7" y="1323" font-size="28.2" text-anchor="middle">cDC1</text>
<line x1="1761" y1="1391" x2="1809.1" y2="1391" stroke="#000" stroke-width="1.5"/>
<text x="1785.05" y="1388.8" font-size="26.5" text-anchor="middle" font-weight="bold">*</text>
<line x1="1761.4" y1="1546.9" x2="1761.4" y2="1602.7" stroke="#000" stroke-width="1.3"/>
<line x1="1753.15" y1="1546.9" x2="1769.65" y2="1546.9" stroke="#000" stroke-width="1.3"/>
<line x1="1753.15" y1="1602.7" x2="1769.65" y2="1602.7" stroke="#000" stroke-width="1.3"/>
<line x1="1808.6" y1="1465.2" x2="1808.6" y2="1559.4" stroke="#000" stroke-width="1.3"/>
<line x1="1800.35" y1="1465.2" x2="1816.85" y2="1465.2" stroke="#000" stroke-width="1.3"/>
<line x1="1800.35" y1="1559.4" x2="1816.85" y2="1559.4" stroke="#000" stroke-width="1.3"/>
<circle cx="1761.4" cy="1525.3" r="4.3" fill="#c4c4c4" stroke="#000" stroke-width="1.2"/>
<circle cx="1761.4" cy="1564.7" r="4.3" fill="#c4c4c4" stroke="#000" stroke-width="1.2"/>
<circle cx="1772.7" cy="1578.1" r="4.3" fill="#c4c4c4" stroke="#000" stroke-width="1.2"/>
<circle cx="1750.2" cy="1585" r="4.3" fill="#c4c4c4" stroke="#000" stroke-width="1.2"/>
<circle cx="1772.7" cy="1589.6" r="4.3" fill="#c4c4c4" stroke="#000" stroke-width="1.2"/>
<circle cx="1761.4" cy="1607.3" r="4.3" fill="#c4c4c4" stroke="#000" stroke-width="1.2"/>
<circle cx="1808.6" cy="1431.1" r="4.3" fill="#0a8a8c" stroke="#000" stroke-width="1.2"/>
<circle cx="1808.6" cy="1480.5" r="4.3" fill="#0a8a8c" stroke="#000" stroke-width="1.2"/>
<circle cx="1808.6" cy="1526.1" r="4.3" fill="#0a8a8c" stroke="#000" stroke-width="1.2"/>
<circle cx="1797.8" cy="1539.5" r="4.3" fill="#0a8a8c" stroke="#000" stroke-width="1.2"/>
<circle cx="1820.3" cy="1545" r="4.3" fill="#0a8a8c" stroke="#000" stroke-width="1.2"/>
<circle cx="1797.8" cy="1550.9" r="4.3" fill="#0a8a8c" stroke="#000" stroke-width="1.2"/>
<text font-size="24.4" text-anchor="middle" transform="translate(1628 1497) rotate(-90)">cDC1s per g tumor</text>
<text x="15.7" y="1845.9" font-size="47">i</text>
<line x1="90.35" y1="2205.3" x2="90.35" y2="1906.4" stroke="#000" stroke-width="1.6"/>
<line x1="78.85" y1="2204.5" x2="90.35" y2="2204.5" stroke="#000" stroke-width="1.6"/>
<text x="72.8" y="2212.7" font-size="22.8" text-anchor="end">0</text>
<line x1="78.85" y1="2145.04" x2="90.35" y2="2145.04" stroke="#000" stroke-width="1.6"/>
<text x="72.8" y="2153.24" font-size="22.8" text-anchor="end">2</text>
<line x1="78.85" y1="2085.58" x2="90.35" y2="2085.58" stroke="#000" stroke-width="1.6"/>
<text x="72.8" y="2093.78" font-size="22.8" text-anchor="end">4</text>
<line x1="78.85" y1="2026.12" x2="90.35" y2="2026.12" stroke="#000" stroke-width="1.6"/>
<text x="72.8" y="2034.32" font-size="22.8" text-anchor="end">6</text>
<line x1="78.85" y1="1966.66" x2="90.35" y2="1966.66" stroke="#000" stroke-width="1.6"/>
<text x="72.8" y="1974.86" font-size="22.8" text-anchor="end">8</text>
<line x1="78.85" y1="1907.2" x2="90.35" y2="1907.2" stroke="#000" stroke-width="1.6"/>
<text x="72.8" y="1915.4" font-size="22.8" text-anchor="end">10</text>
<rect x="104.12" y="2077.75" width="24.8" height="126.75" fill="#fff" stroke="#000" stroke-width="1.4"/>
<rect x="142.69" y="2030.58" width="24.8" height="173.92" fill="#fff" stroke="#000" stroke-width="1.4"/>
<rect x="207.62" y="2081.08" width="24.8" height="123.42" fill="#fff" stroke="#000" stroke-width="1.4"/>
<rect x="246.28" y="2023.19" width="24.8" height="181.31" fill="#fff" stroke="#000" stroke-width="1.4"/>
<rect x="311.21" y="2066.1" width="24.8" height="138.4" fill="#fff" stroke="#000" stroke-width="1.4"/>
<rect x="349.87" y="2007.09" width="24.8" height="197.41" fill="#fff" stroke="#000" stroke-width="1.4"/>
<circle cx="116.43" cy="2036.5" r="4.6" fill="#c4c4c4" stroke="#000" stroke-width="1.2"/>
<circle cx="116.43" cy="2067.21" r="4.6" fill="#c4c4c4" stroke="#000" stroke-width="1.2"/>
<circle cx="107.92" cy="2075.35" r="4.6" fill="#c4c4c4" stroke="#000" stroke-width="1.2"/>
<circle cx="124.94" cy="2075.35" r="4.6" fill="#c4c4c4" stroke="#000" stroke-width="1.2"/>
<circle cx="116.43" cy="2081.08" r="4.6" fill="#c4c4c4" stroke="#000" stroke-width="1.2"/>
<circle cx="116.43" cy="2119.37" r="4.6" fill="#c4c4c4" stroke="#000" stroke-width="1.2"/>
<circle cx="155.09" cy="1987.48" r="4.6" fill="#0a8a8c" stroke="#000" stroke-width="1.2"/>
<circle cx="146.58" cy="2019.3" r="4.6" fill="#0a8a8c" stroke="#000" stroke-width="1.2"/>
<circle cx="163.6" cy="2019.3" r="4.6" fill="#0a8a8c" stroke="#000" stroke-width="1.2"/>
<circle cx="155.09" cy="2042.05" r="4.6" fill="#0a8a8c" stroke="#000" stroke-width="1.2"/>
<circle cx="163.6" cy="2053.15" r="4.6" fill="#0a8a8c" stroke="#000" stroke-width="1.2"/>
<circle cx="146.58" cy="2058.89" r="4.6" fill="#0a8a8c" stroke="#000" stroke-width="1.2"/>
<circle cx="220.02" cy="2024.85" r="4.6" fill="#c4c4c4" stroke="#000" stroke-width="1.2"/>
<circle cx="220.02" cy="2042.05" r="4.6" fill="#c4c4c4" stroke="#000" stroke-width="1.2"/>
<circle cx="220.02" cy="2058.89" r="4.6" fill="#c4c4c4" stroke="#000" stroke-width="1.2"/>
<circle cx="220.02" cy="2075.35" r="4.6" fill="#c4c4c4" stroke="#000" stroke-width="1.2"/>
<circle cx="220.02" cy="2119.37" r="4.6" fill="#c4c4c4" stroke="#000" stroke-width="1.2"/>
<circle cx="220.02" cy="2163.95" r="4.6" fill="#c4c4c4" stroke="#000" stroke-width="1.2"/>
<circle cx="258.68" cy="1996.36" r="4.6" fill="#0a8a8c" stroke="#000" stroke-width="1.2"/>
<circle cx="258.68" cy="2013.57" r="4.6" fill="#0a8a8c" stroke="#000" stroke-width="1.2"/>
<circle cx="250.17" cy="2024.85" r="4.6" fill="#0a8a8c" stroke="#000" stroke-width="1.2"/>
<circle cx="258.68" cy="2030.58" r="4.6" fill="#0a8a8c" stroke="#000" stroke-width="1.2"/>
<circle cx="267.19" cy="2033.54" r="4.6" fill="#0a8a8c" stroke="#000" stroke-width="1.2"/>
<circle cx="250.17" cy="2036.5" r="4.6" fill="#0a8a8c" stroke="#000" stroke-width="1.2"/>
<circle cx="323.61" cy="1961.59" r="4.6" fill="#c4c4c4" stroke="#000" stroke-width="1.2"/>
<circle cx="323.61" cy="2039.28" r="4.6" fill="#c4c4c4" stroke="#000" stroke-width="1.2"/>
<circle cx="315.1" cy="2091.81" r="4.6" fill="#c4c4c4" stroke="#000" stroke-width="1.2"/>
<circle cx="323.61" cy="2091.81" r="4.6" fill="#c4c4c4" stroke="#000" stroke-width="1.2"/>
<circle cx="331.93" cy="2100.14" r="4.6" fill="#c4c4c4" stroke="#000" stroke-width="1.2"/>
<circle cx="315.1" cy="2108.46" r="4.6" fill="#c4c4c4" stroke="#000" stroke-width="1.2"/>
<circle cx="362.27" cy="1961.59" r="4.6" fill="#0a8a8c" stroke="#000" stroke-width="1.2"/>
<circle cx="362.27" cy="1979.53" r="4.6" fill="#0a8a8c" stroke="#000" stroke-width="1.2"/>
<circle cx="370.59" cy="2001.91" r="4.6" fill="#0a8a8c" stroke="#000" stroke-width="1.2"/>
<circle cx="353.76" cy="2008.02" r="4.6" fill="#0a8a8c" stroke="#000" stroke-width="1.2"/>
<circle cx="370.59" cy="2042.05" r="4.6" fill="#0a8a8c" stroke="#000" stroke-width="1.2"/>
<circle cx="353.76" cy="2047.79" r="4.6" fill="#0a8a8c" stroke="#000" stroke-width="1.2"/>
<line x1="116.52" y1="2049.08" x2="116.52" y2="2101.99" stroke="#000" stroke-width="1.3"/>
<line x1="109.52" y1="2049.08" x2="123.52" y2="2049.08" stroke="#000" stroke-width="1.3"/>
<line x1="109.52" y1="2101.99" x2="123.52" y2="2101.99" stroke="#000" stroke-width="1.3"/>
<line x1="155.09" y1="2003.39" x2="155.09" y2="2056.48" stroke="#000" stroke-width="1.3"/>
<line x1="148.09" y1="2003.39" x2="162.09" y2="2003.39" stroke="#000" stroke-width="1.3"/>
<line x1="148.09" y1="2056.48" x2="162.09" y2="2056.48" stroke="#000" stroke-width="1.3"/>
<line x1="220.02" y1="2028.73" x2="220.02" y2="2132.51" stroke="#000" stroke-width="1.3"/>
<line x1="213.02" y1="2028.73" x2="227.02" y2="2028.73" stroke="#000" stroke-width="1.3"/>
<line x1="213.02" y1="2132.51" x2="227.02" y2="2132.51" stroke="#000" stroke-width="1.3"/>
<line x1="258.68" y1="2007.46" x2="258.68" y2="2037.43" stroke="#000" stroke-width="1.3"/>
<line x1="251.68" y1="2007.46" x2="265.68" y2="2007.46" stroke="#000" stroke-width="1.3"/>
<line x1="251.68" y1="2037.43" x2="265.68" y2="2037.43" stroke="#000" stroke-width="1.3"/>
<line x1="323.61" y1="2008.94" x2="323.61" y2="2121.59" stroke="#000" stroke-width="1.3"/>
<line x1="316.61" y1="2008.94" x2="330.61" y2="2008.94" stroke="#000" stroke-width="1.3"/>
<line x1="316.61" y1="2121.59" x2="330.61" y2="2121.59" stroke="#000" stroke-width="1.3"/>
<line x1="362.27" y1="1972.69" x2="362.27" y2="2040.39" stroke="#000" stroke-width="1.3"/>
<line x1="355.27" y1="1972.69" x2="369.27" y2="1972.69" stroke="#000" stroke-width="1.3"/>
<line x1="355.27" y1="2040.39" x2="369.27" y2="2040.39" stroke="#000" stroke-width="1.3"/>
<circle cx="116.43" cy="2036.5" r="4.6" fill="#c4c4c4" stroke="#000" stroke-width="1.2"/>
<circle cx="116.43" cy="2067.21" r="4.6" fill="#c4c4c4" stroke="#000" stroke-width="1.2"/>
<circle cx="107.92" cy="2075.35" r="4.6" fill="#c4c4c4" stroke="#000" stroke-width="1.2"/>
<circle cx="124.94" cy="2075.35" r="4.6" fill="#c4c4c4" stroke="#000" stroke-width="1.2"/>
<circle cx="116.43" cy="2081.08" r="4.6" fill="#c4c4c4" stroke="#000" stroke-width="1.2"/>
<circle cx="116.43" cy="2119.37" r="4.6" fill="#c4c4c4" stroke="#000" stroke-width="1.2"/>
<circle cx="155.09" cy="1987.48" r="4.6" fill="#0a8a8c" stroke="#000" stroke-width="1.2"/>
<circle cx="146.58" cy="2019.3" r="4.6" fill="#0a8a8c" stroke="#000" stroke-width="1.2"/>
<circle cx="163.6" cy="2019.3" r="4.6" fill="#0a8a8c" stroke="#000" stroke-width="1.2"/>
<circle cx="155.09" cy="2042.05" r="4.6" fill="#0a8a8c" stroke="#000" stroke-width="1.2"/>
<circle cx="163.6" cy="2053.15" r="4.6" fill="#0a8a8c" stroke="#000" stroke-width="1.2"/>
<circle cx="146.58" cy="2058.89" r="4.6" fill="#0a8a8c" stroke="#000" stroke-width="1.2"/>
<circle cx="220.02" cy="2024.85" r="4.6" fill="#c4c4c4" stroke="#000" stroke-width="1.2"/>
<circle cx="220.02" cy="2042.05" r="4.6" fill="#c4c4c4" stroke="#000" stroke-width="1.2"/>
<circle cx="220.02" cy="2058.89" r="4.6" fill="#c4c4c4" stroke="#000" stroke-width="1.2"/>
<circle cx="220.02" cy="2075.35" r="4.6" fill="#c4c4c4" stroke="#000" stroke-width="1.2"/>
<circle cx="220.02" cy="2119.37" r="4.6" fill="#c4c4c4" stroke="#000" stroke-width="1.2"/>
<circle cx="220.02" cy="2163.95" r="4.6" fill="#c4c4c4" stroke="#000" stroke-width="1.2"/>
<circle cx="258.68" cy="1996.36" r="4.6" fill="#0a8a8c" stroke="#000" stroke-width="1.2"/>
<circle cx="258.68" cy="2013.57" r="4.6" fill="#0a8a8c" stroke="#000" stroke-width="1.2"/>
<circle cx="250.17" cy="2024.85" r="4.6" fill="#0a8a8c" stroke="#000" stroke-width="1.2"/>
<circle cx="258.68" cy="2030.58" r="4.6" fill="#0a8a8c" stroke="#000" stroke-width="1.2"/>
<circle cx="267.19" cy="2033.54" r="4.6" fill="#0a8a8c" stroke="#000" stroke-width="1.2"/>
<circle cx="250.17" cy="2036.5" r="4.6" fill="#0a8a8c" stroke="#000" stroke-width="1.2"/>
<circle cx="323.61" cy="1961.59" r="4.6" fill="#c4c4c4" stroke="#000" stroke-width="1.2"/>
<circle cx="323.61" cy="2039.28" r="4.6" fill="#c4c4c4" stroke="#000" stroke-width="1.2"/>
<circle cx="315.1" cy="2091.81" r="4.6" fill="#c4c4c4" stroke="#000" stroke-width="1.2"/>
<circle cx="323.61" cy="2091.81" r="4.6" fill="#c4c4c4" stroke="#000" stroke-width="1.2"/>
<circle cx="331.93" cy="2100.14" r="4.6" fill="#c4c4c4" stroke="#000" stroke-width="1.2"/>
<circle cx="315.1" cy="2108.46" r="4.6" fill="#c4c4c4" stroke="#000" stroke-width="1.2"/>
<circle cx="362.27" cy="1961.59" r="4.6" fill="#0a8a8c" stroke="#000" stroke-width="1.2"/>
<circle cx="362.27" cy="1979.53" r="4.6" fill="#0a8a8c" stroke="#000" stroke-width="1.2"/>
<circle cx="370.59" cy="2001.91" r="4.6" fill="#0a8a8c" stroke="#000" stroke-width="1.2"/>
<circle cx="353.76" cy="2008.02" r="4.6" fill="#0a8a8c" stroke="#000" stroke-width="1.2"/>
<circle cx="370.59" cy="2042.05" r="4.6" fill="#0a8a8c" stroke="#000" stroke-width="1.2"/>
<circle cx="353.76" cy="2047.79" r="4.6" fill="#0a8a8c" stroke="#000" stroke-width="1.2"/>
<line x1="78.9" y1="2204.5" x2="388.2" y2="2204.5" stroke="#000" stroke-width="1.6"/>
<line x1="89.4" y1="2184.3" x2="385.5" y2="2184.3" stroke="#000" stroke-width="2.5" stroke-dasharray="2.5 2.92"/>
<text x="394.6" y="2191.2" font-size="21.2">LOD</text>
<line x1="135.7" y1="2204.5" x2="135.7" y2="2216.5" stroke="#000" stroke-width="1.6"/>
<text x="135.7" y="2239.9" font-size="23" text-anchor="middle">day 2</text>
<line x1="238.7" y1="2204.5" x2="238.7" y2="2216.5" stroke="#000" stroke-width="1.6"/>
<text x="238.7" y="2239.9" font-size="23" text-anchor="middle">day 8</text>
<line x1="342.1" y1="2204.5" x2="342.1" y2="2216.5" stroke="#000" stroke-width="1.6"/>
<text x="342.1" y="2239.9" font-size="23" text-anchor="middle">day 15</text>
<line x1="115.9" y1="1926.3" x2="155.6" y2="1926.3" stroke="#000" stroke-width="1.5"/>
<text x="136.05" y="1923.8" font-size="25.5" text-anchor="middle" font-weight="bold">*</text>
<line x1="219.5" y1="1926.3" x2="259.2" y2="1926.3" stroke="#000" stroke-width="1.5"/>
<text x="239.65" y="1923.8" font-size="25.5" text-anchor="middle" font-weight="bold">*</text>
<line x1="322.9" y1="1926.3" x2="362.6" y2="1926.3" stroke="#000" stroke-width="1.5"/>
<text x="343.05" y="1923.8" font-size="25.5" text-anchor="middle" font-weight="bold">*</text>
<text x="166" y="1867.9" font-size="27.6">Serum IFN<tspan font-family="'Liberation Serif',serif" font-size="26">γ</tspan></text>
<text x="239.7" y="2275.3" font-size="23.9" text-anchor="middle">time post transfer</text>
<text font-size="23.8" text-anchor="middle" transform="translate(40.8 2058.6) rotate(-90)">Concentration [pg/ml]</text>
<line x1="558.1" y1="2206.4" x2="558.1" y2="1906.2" stroke="#000" stroke-width="1.6"/>
<line x1="546.6" y1="2205.6" x2="558.1" y2="2205.6" stroke="#000" stroke-width="1.6"/>
<text x="541" y="2213.8" font-size="22.8" text-anchor="end">0</text>
<line x1="546.6" y1="2106.1" x2="558.1" y2="2106.1" stroke="#000" stroke-width="1.6"/>
<text x="541" y="2114.3" font-size="22.8" text-anchor="end">200</text>
<line x1="546.6" y1="2006.6" x2="558.1" y2="2006.6" stroke="#000" stroke-width="1.6"/>
<text x="541" y="2014.8" font-size="22.8" text-anchor="end">400</text>
<line x1="546.6" y1="1907.1" x2="558.1" y2="1907.1" stroke="#000" stroke-width="1.6"/>
<text x="541" y="1915.3" font-size="22.8" text-anchor="end">600</text>
<rect x="571.48" y="2064.25" width="25.1" height="141.35" fill="#fff" stroke="#000" stroke-width="1.4"/>
<rect x="610.51" y="2134.17" width="25.1" height="71.43" fill="#fff" stroke="#000" stroke-width="1.4"/>
<rect x="675.43" y="2082.75" width="25.1" height="122.85" fill="#fff" stroke="#000" stroke-width="1.4"/>
<rect x="714.65" y="2130.47" width="25.1" height="75.13" fill="#fff" stroke="#000" stroke-width="1.4"/>
<rect x="779.58" y="2037.43" width="25.1" height="168.17" fill="#fff" stroke="#000" stroke-width="1.4"/>
<rect x="818.61" y="2124.55" width="25.1" height="81.05" fill="#fff" stroke="#000" stroke-width="1.4"/>
<circle cx="584.03" cy="1960.48" r="4.6" fill="#c4c4c4" stroke="#000" stroke-width="1.2"/>
<circle cx="584.03" cy="2033.91" r="4.6" fill="#c4c4c4" stroke="#000" stroke-width="1.2"/>
<circle cx="584.03" cy="2053.15" r="4.6" fill="#c4c4c4" stroke="#000" stroke-width="1.2"/>
<circle cx="584.03" cy="2072.2" r="4.6" fill="#c4c4c4" stroke="#000" stroke-width="1.2"/>
<circle cx="592.72" cy="2129.55" r="4.6" fill="#c4c4c4" stroke="#000" stroke-width="1.2"/>
<circle cx="575.7" cy="2135.1" r="4.6" fill="#c4c4c4" stroke="#000" stroke-width="1.2"/>
<circle cx="614.55" cy="2109.57" r="4.6" fill="#0a8a8c" stroke="#000" stroke-width="1.2"/>
<circle cx="631.56" cy="2108.46" r="4.6" fill="#0a8a8c" stroke="#000" stroke-width="1.2"/>
<circle cx="631.56" cy="2128.07" r="4.6" fill="#0a8a8c" stroke="#000" stroke-width="1.2"/>
<circle cx="614.55" cy="2131.4" r="4.6" fill="#0a8a8c" stroke="#000" stroke-width="1.2"/>
<circle cx="631.56" cy="2156.56" r="4.6" fill="#0a8a8c" stroke="#000" stroke-width="1.2"/>
<circle cx="614.55" cy="2164.14" r="4.6" fill="#0a8a8c" stroke="#000" stroke-width="1.2"/>
<circle cx="687.98" cy="1997.47" r="4.6" fill="#c4c4c4" stroke="#000" stroke-width="1.2"/>
<circle cx="679.29" cy="2050.75" r="4.6" fill="#c4c4c4" stroke="#000" stroke-width="1.2"/>
<circle cx="696.68" cy="2054.08" r="4.6" fill="#c4c4c4" stroke="#000" stroke-width="1.2"/>
<circle cx="687.98" cy="2066.1" r="4.6" fill="#c4c4c4" stroke="#000" stroke-width="1.2"/>
<circle cx="687.98" cy="2142.13" r="4.6" fill="#c4c4c4" stroke="#000" stroke-width="1.2"/>
<circle cx="687.98" cy="2184.49" r="4.6" fill="#c4c4c4" stroke="#000" stroke-width="1.2"/>
<circle cx="727.2" cy="2083.67" r="4.6" fill="#0a8a8c" stroke="#000" stroke-width="1.2"/>
<circle cx="727.2" cy="2126.22" r="4.6" fill="#0a8a8c" stroke="#000" stroke-width="1.2"/>
<circle cx="718.51" cy="2132.32" r="4.6" fill="#0a8a8c" stroke="#000" stroke-width="1.2"/>
<circle cx="735.89" cy="2138.24" r="4.6" fill="#0a8a8c" stroke="#000" stroke-width="1.2"/>
<circle cx="727.2" cy="2141.2" r="4.6" fill="#0a8a8c" stroke="#000" stroke-width="1.2"/>
<circle cx="727.2" cy="2157.67" r="4.6" fill="#0a8a8c" stroke="#000" stroke-width="1.2"/>
<circle cx="792.13" cy="1962.14" r="4.6" fill="#c4c4c4" stroke="#000" stroke-width="1.2"/>
<circle cx="792.13" cy="1974.54" r="4.6" fill="#c4c4c4" stroke="#000" stroke-width="1.2"/>
<circle cx="792.13" cy="1996.36" r="4.6" fill="#c4c4c4" stroke="#000" stroke-width="1.2"/>
<circle cx="792.13" cy="2033.91" r="4.6" fill="#c4c4c4" stroke="#000" stroke-width="1.2"/>
<circle cx="800.64" cy="2124.92" r="4.6" fill="#c4c4c4" stroke="#000" stroke-width="1.2"/>
<circle cx="783.8" cy="2131.95" r="4.6" fill="#c4c4c4" stroke="#000" stroke-width="1.2"/>
<circle cx="831.16" cy="2079.79" r="4.6" fill="#0a8a8c" stroke="#000" stroke-width="1.2"/>
<circle cx="822.46" cy="2118.63" r="4.6" fill="#0a8a8c" stroke="#000" stroke-width="1.2"/>
<circle cx="839.67" cy="2122.7" r="4.6" fill="#0a8a8c" stroke="#000" stroke-width="1.2"/>
<circle cx="822.46" cy="2131.58" r="4.6" fill="#0a8a8c" stroke="#000" stroke-width="1.2"/>
<circle cx="839.67" cy="2138.8" r="4.6" fill="#0a8a8c" stroke="#000" stroke-width="1.2"/>
<circle cx="831.16" cy="2151.19" r="4.6" fill="#0a8a8c" stroke="#000" stroke-width="1.2"/>
<line x1="584.03" y1="1998.77" x2="584.03" y2="2128.25" stroke="#000" stroke-width="1.3"/>
<line x1="577.03" y1="1998.77" x2="591.03" y2="1998.77" stroke="#000" stroke-width="1.3"/>
<line x1="577.03" y1="2128.25" x2="591.03" y2="2128.25" stroke="#000" stroke-width="1.3"/>
<line x1="623.06" y1="2110.13" x2="623.06" y2="2156" stroke="#000" stroke-width="1.3"/>
<line x1="616.06" y1="2110.13" x2="630.06" y2="2110.13" stroke="#000" stroke-width="1.3"/>
<line x1="616.06" y1="2156" x2="630.06" y2="2156" stroke="#000" stroke-width="1.3"/>
<line x1="687.98" y1="2013.94" x2="687.98" y2="2150.27" stroke="#000" stroke-width="1.3"/>
<line x1="680.98" y1="2013.94" x2="694.98" y2="2013.94" stroke="#000" stroke-width="1.3"/>
<line x1="680.98" y1="2150.27" x2="694.98" y2="2150.27" stroke="#000" stroke-width="1.3"/>
<line x1="727.2" y1="2104.95" x2="727.2" y2="2155.08" stroke="#000" stroke-width="1.3"/>
<line x1="720.2" y1="2104.95" x2="734.2" y2="2104.95" stroke="#000" stroke-width="1.3"/>
<line x1="720.2" y1="2155.08" x2="734.2" y2="2155.08" stroke="#000" stroke-width="1.3"/>
<line x1="792.13" y1="1962.14" x2="792.13" y2="2111.42" stroke="#000" stroke-width="1.3"/>
<line x1="785.13" y1="1962.14" x2="799.13" y2="1962.14" stroke="#000" stroke-width="1.3"/>
<line x1="785.13" y1="2111.42" x2="799.13" y2="2111.42" stroke="#000" stroke-width="1.3"/>
<line x1="831.16" y1="2099.4" x2="831.16" y2="2148.23" stroke="#000" stroke-width="1.3"/>
<line x1="824.16" y1="2099.4" x2="838.16" y2="2099.4" stroke="#000" stroke-width="1.3"/>
<line x1="824.16" y1="2148.23" x2="838.16" y2="2148.23" stroke="#000" stroke-width="1.3"/>
<circle cx="584.03" cy="1960.48" r="4.6" fill="#c4c4c4" stroke="#000" stroke-width="1.2"/>
<circle cx="584.03" cy="2033.91" r="4.6" fill="#c4c4c4" stroke="#000" stroke-width="1.2"/>
<circle cx="584.03" cy="2053.15" r="4.6" fill="#c4c4c4" stroke="#000" stroke-width="1.2"/>
<circle cx="584.03" cy="2072.2" r="4.6" fill="#c4c4c4" stroke="#000" stroke-width="1.2"/>
<circle cx="592.72" cy="2129.55" r="4.6" fill="#c4c4c4" stroke="#000" stroke-width="1.2"/>
<circle cx="575.7" cy="2135.1" r="4.6" fill="#c4c4c4" stroke="#000" stroke-width="1.2"/>
<circle cx="614.55" cy="2109.57" r="4.6" fill="#0a8a8c" stroke="#000" stroke-width="1.2"/>
<circle cx="631.56" cy="2108.46" r="4.6" fill="#0a8a8c" stroke="#000" stroke-width="1.2"/>
<circle cx="631.56" cy="2128.07" r="4.6" fill="#0a8a8c" stroke="#000" stroke-width="1.2"/>
<circle cx="614.55" cy="2131.4" r="4.6" fill="#0a8a8c" stroke="#000" stroke-width="1.2"/>
<circle cx="631.56" cy="2156.56" r="4.6" fill="#0a8a8c" stroke="#000" stroke-width="1.2"/>
<circle cx="614.55" cy="2164.14" r="4.6" fill="#0a8a8c" stroke="#000" stroke-width="1.2"/>
<circle cx="687.98" cy="1997.47" r="4.6" fill="#c4c4c4" stroke="#000" stroke-width="1.2"/>
<circle cx="679.29" cy="2050.75" r="4.6" fill="#c4c4c4" stroke="#000" stroke-width="1.2"/>
<circle cx="696.68" cy="2054.08" r="4.6" fill="#c4c4c4" stroke="#000" stroke-width="1.2"/>
<circle cx="687.98" cy="2066.1" r="4.6" fill="#c4c4c4" stroke="#000" stroke-width="1.2"/>
<circle cx="687.98" cy="2142.13" r="4.6" fill="#c4c4c4" stroke="#000" stroke-width="1.2"/>
<circle cx="687.98" cy="2184.49" r="4.6" fill="#c4c4c4" stroke="#000" stroke-width="1.2"/>
<circle cx="727.2" cy="2083.67" r="4.6" fill="#0a8a8c" stroke="#000" stroke-width="1.2"/>
<circle cx="727.2" cy="2126.22" r="4.6" fill="#0a8a8c" stroke="#000" stroke-width="1.2"/>
<circle cx="718.51" cy="2132.32" r="4.6" fill="#0a8a8c" stroke="#000" stroke-width="1.2"/>
<circle cx="735.89" cy="2138.24" r="4.6" fill="#0a8a8c" stroke="#000" stroke-width="1.2"/>
<circle cx="727.2" cy="2141.2" r="4.6" fill="#0a8a8c" stroke="#000" stroke-width="1.2"/>
<circle cx="727.2" cy="2157.67" r="4.6" fill="#0a8a8c" stroke="#000" stroke-width="1.2"/>
<circle cx="792.13" cy="1962.14" r="4.6" fill="#c4c4c4" stroke="#000" stroke-width="1.2"/>
<circle cx="792.13" cy="1974.54" r="4.6" fill="#c4c4c4" stroke="#000" stroke-width="1.2"/>
<circle cx="792.13" cy="1996.36" r="4.6" fill="#c4c4c4" stroke="#000" stroke-width="1.2"/>
<circle cx="792.13" cy="2033.91" r="4.6" fill="#c4c4c4" stroke="#000" stroke-width="1.2"/>
<circle cx="800.64" cy="2124.92" r="4.6" fill="#c4c4c4" stroke="#000" stroke-width="1.2"/>
<circle cx="783.8" cy="2131.95" r="4.6" fill="#c4c4c4" stroke="#000" stroke-width="1.2"/>
<circle cx="831.16" cy="2079.79" r="4.6" fill="#0a8a8c" stroke="#000" stroke-width="1.2"/>
<circle cx="822.46" cy="2118.63" r="4.6" fill="#0a8a8c" stroke="#000" stroke-width="1.2"/>
<circle cx="839.67" cy="2122.7" r="4.6" fill="#0a8a8c" stroke="#000" stroke-width="1.2"/>
<circle cx="822.46" cy="2131.58" r="4.6" fill="#0a8a8c" stroke="#000" stroke-width="1.2"/>
<circle cx="839.67" cy="2138.8" r="4.6" fill="#0a8a8c" stroke="#000" stroke-width="1.2"/>
<circle cx="831.16" cy="2151.19" r="4.6" fill="#0a8a8c" stroke="#000" stroke-width="1.2"/>
<line x1="546.5" y1="2205.6" x2="857.2" y2="2205.6" stroke="#000" stroke-width="1.6"/>
<line x1="603.4" y1="2205.6" x2="603.4" y2="2217.6" stroke="#000" stroke-width="1.6"/>
<text x="603.4" y="2240.6" font-size="23" text-anchor="middle">day 2</text>
<line x1="707.4" y1="2205.6" x2="707.4" y2="2217.6" stroke="#000" stroke-width="1.6"/>
<text x="707.4" y="2240.6" font-size="23" text-anchor="middle">day 8</text>
<line x1="811.2" y1="2205.6" x2="811.2" y2="2217.6" stroke="#000" stroke-width="1.6"/>
<text x="811.2" y="2240.6" font-size="23" text-anchor="middle">day 15</text>
<line x1="583.7" y1="1924.8" x2="623.6" y2="1924.8" stroke="#000" stroke-width="1.5"/>
<text x="603.65" y="1913.7" font-size="15.3" text-anchor="middle">ns</text>
<line x1="687.4" y1="1924.8" x2="727.6" y2="1924.8" stroke="#000" stroke-width="1.5"/>
<text x="707.5" y="1913.7" font-size="15.3" text-anchor="middle">ns</text>
<line x1="791.6" y1="1924.8" x2="831.7" y2="1924.8" stroke="#000" stroke-width="1.5"/>
<text x="811.85" y="1922.2" font-size="25.5" text-anchor="middle" font-weight="bold">*</text>
<text x="707.9" y="1868.8" font-size="28" text-anchor="middle">Serum Il-10</text>
<text x="708.2" y="2277.6" font-size="24.2" text-anchor="middle">time post transfer</text>
<text font-size="23.8" text-anchor="middle" transform="translate(488.1 2056) rotate(-90)">Concentration [pg/ml]</text>
<circle cx="858.2" cy="1943.1" r="4.6" fill="#c4c4c4" stroke="#000" stroke-width="1.2"/>
<circle cx="858.2" cy="1981.9" r="4.6" fill="#0a8a8c" stroke="#000" stroke-width="1.2"/>
<text x="892" y="1950.9" font-size="24.2">OTI intergenic</text>
<text x="892" y="1989.8" font-size="24.2">OTI <tspan font-style="italic">Snx9</tspan> KO</text>
<text x="1108.2" y="1844.7" font-size="47">j</text>
<line x1="1222.7" y1="2204.6" x2="1222.7" y2="1904.4" stroke="#000" stroke-width="1.6"/>
<line x1="1211.7" y1="2203.8" x2="1623.8" y2="2203.8" stroke="#000" stroke-width="1.6"/>
<line x1="1211.7" y1="2203.8" x2="1222.7" y2="2203.8" stroke="#000" stroke-width="1.6"/>
<text x="1205.8" y="2212.1" font-size="23.5" text-anchor="end">0</text>
<line x1="1211.7" y1="2104.3" x2="1222.7" y2="2104.3" stroke="#000" stroke-width="1.6"/>
<text x="1205.8" y="2112.6" font-size="23.5" text-anchor="end">500</text>
<line x1="1211.7" y1="2004.8" x2="1222.7" y2="2004.8" stroke="#000" stroke-width="1.6"/>
<text x="1205.8" y="2013.1" font-size="23.5" text-anchor="end">1000</text>
<line x1="1211.7" y1="1905.3" x2="1222.7" y2="1905.3" stroke="#000" stroke-width="1.6"/>
<text x="1205.8" y="1913.6" font-size="23.5" text-anchor="end">1500</text>
<line x1="1222.7" y1="2203.8" x2="1222.7" y2="2214.2" stroke="#000" stroke-width="1.6"/>
<text x="1222.7" y="2240.6" font-size="23.5" text-anchor="middle">0</text>
<line x1="1302.76" y1="2203.8" x2="1302.76" y2="2214.2" stroke="#000" stroke-width="1.6"/>
<text x="1302.76" y="2240.6" font-size="23.5" text-anchor="middle">10</text>
<line x1="1382.82" y1="2203.8" x2="1382.82" y2="2214.2" stroke="#000" stroke-width="1.6"/>
<text x="1382.82" y="2240.6" font-size="23.5" text-anchor="middle">20</text>
<line x1="1462.88" y1="2203.8" x2="1462.88" y2="2214.2" stroke="#000" stroke-width="1.6"/>
<text x="1462.88" y="2240.6" font-size="23.5" text-anchor="middle">30</text>
<line x1="1542.94" y1="2203.8" x2="1542.94" y2="2214.2" stroke="#000" stroke-width="1.6"/>
<text x="1542.94" y="2240.6" font-size="23.5" text-anchor="middle">40</text>
<line x1="1623" y1="2203.8" x2="1623" y2="2214.2" stroke="#000" stroke-width="1.6"/>
<text x="1623" y="2240.6" font-size="23.5" text-anchor="middle">50</text>
<text x="1334.3" y="1882.5" font-size="28.1" text-anchor="middle">NSG MC38-OVA</text>
<text x="1422.6" y="2275.7" font-size="23.9" text-anchor="middle">days post tumor cell injection</text>
<text transform="translate(1142.9 2054.7) rotate(-90)" font-size="24" text-anchor="middle">tumor volume mm<tspan font-size="15" dy="-9">3</tspan></text>
<line x1="1318.4" y1="2145.6" x2="1318.4" y2="2180" stroke="#000" stroke-width="1.5"/>
<path d="M1312.4 2177.9 L1324.4 2177.9 L1318.4 2188.3 Z" fill="#000"/>
<text font-size="23.6" transform="translate(1325.8 2132.8) rotate(-90)">1.5 Mio OTI</text>
<path d="M1222.7 2203.8 L1310.77 2202.81 L1326.78 2196.84 L1342.79 2194.45 L1366.81 2176.34 L1382.82 2126.19 L1398.83 2091.56 L1422.85 2035.45" fill="none" stroke="#000" stroke-width="1.6" stroke-linejoin="round"/>
<line x1="1366.81" y1="2168.98" x2="1366.81" y2="2183.7" stroke="#000" stroke-width="1.5"/>
<line x1="1360.41" y1="2168.98" x2="1373.21" y2="2168.98" stroke="#000" stroke-width="1.5"/>
<line x1="1360.41" y1="2183.7" x2="1373.21" y2="2183.7" stroke="#000" stroke-width="1.5"/>
<line x1="1382.82" y1="2100.12" x2="1382.82" y2="2152.26" stroke="#000" stroke-width="1.5"/>
<line x1="1376.42" y1="2100.12" x2="1389.22" y2="2100.12" stroke="#000" stroke-width="1.5"/>
<line x1="1376.42" y1="2152.26" x2="1389.22" y2="2152.26" stroke="#000" stroke-width="1.5"/>
<line x1="1398.83" y1="2064.1" x2="1398.83" y2="2119.03" stroke="#000" stroke-width="1.5"/>
<line x1="1392.43" y1="2064.1" x2="1405.23" y2="2064.1" stroke="#000" stroke-width="1.5"/>
<line x1="1392.43" y1="2119.03" x2="1405.23" y2="2119.03" stroke="#000" stroke-width="1.5"/>
<line x1="1422.85" y1="1993.46" x2="1422.85" y2="2077.44" stroke="#000" stroke-width="1.5"/>
<line x1="1416.45" y1="1993.46" x2="1429.25" y2="1993.46" stroke="#000" stroke-width="1.5"/>
<line x1="1416.45" y1="2077.44" x2="1429.25" y2="2077.44" stroke="#000" stroke-width="1.5"/>
<circle cx="1222.7" cy="2203.8" r="5.8" fill="#000" stroke="#000" stroke-width="1.5"/>
<circle cx="1310.77" cy="2202.81" r="5.8" fill="#000" stroke="#000" stroke-width="1.5"/>
<circle cx="1326.78" cy="2196.84" r="5.8" fill="#000" stroke="#000" stroke-width="1.5"/>
<circle cx="1342.79" cy="2194.45" r="5.8" fill="#000" stroke="#000" stroke-width="1.5"/>
<circle cx="1366.81" cy="2176.34" r="5.8" fill="#000" stroke="#000" stroke-width="1.5"/>
<circle cx="1382.82" cy="2126.19" r="5.8" fill="#000" stroke="#000" stroke-width="1.5"/>
<circle cx="1398.83" cy="2091.56" r="5.8" fill="#000" stroke="#000" stroke-width="1.5"/>
<circle cx="1422.85" cy="2035.45" r="5.8" fill="#000" stroke="#000" stroke-width="1.5"/>
<path d="M1326.78 2202.61 L1342.79 2201.41 L1366.81 2202.01 L1382.82 2203 L1398.83 2203.8 L1422.85 2203.6 L1438.86 2202.81 L1454.87 2200.62 L1478.89 2194.25 L1494.9 2178.13 L1510.92 2165.39 L1534.93 2150.07 L1550.95 2116.24 L1566.96 2086.59 L1590.98 1981.32" fill="none" stroke="#000" stroke-width="1.6" stroke-linejoin="round"/>
<line x1="1534.93" y1="2143.7" x2="1534.93" y2="2156.44" stroke="#000" stroke-width="1.5"/>
<line x1="1528.53" y1="2143.7" x2="1541.33" y2="2143.7" stroke="#000" stroke-width="1.5"/>
<line x1="1528.53" y1="2156.44" x2="1541.33" y2="2156.44" stroke="#000" stroke-width="1.5"/>
<line x1="1550.95" y1="2103.5" x2="1550.95" y2="2128.98" stroke="#000" stroke-width="1.5"/>
<line x1="1544.55" y1="2103.5" x2="1557.35" y2="2103.5" stroke="#000" stroke-width="1.5"/>
<line x1="1544.55" y1="2128.98" x2="1557.35" y2="2128.98" stroke="#000" stroke-width="1.5"/>
<line x1="1566.96" y1="2073.26" x2="1566.96" y2="2099.92" stroke="#000" stroke-width="1.5"/>
<line x1="1560.56" y1="2073.26" x2="1573.36" y2="2073.26" stroke="#000" stroke-width="1.5"/>
<line x1="1560.56" y1="2099.92" x2="1573.36" y2="2099.92" stroke="#000" stroke-width="1.5"/>
<line x1="1590.98" y1="1965" x2="1590.98" y2="1997.64" stroke="#000" stroke-width="1.5"/>
<line x1="1584.58" y1="1965" x2="1597.38" y2="1965" stroke="#000" stroke-width="1.5"/>
<line x1="1584.58" y1="1997.64" x2="1597.38" y2="1997.64" stroke="#000" stroke-width="1.5"/>
<circle cx="1326.78" cy="2202.61" r="5.8" fill="#0a8a8c" stroke="#000" stroke-width="1.5"/>
<circle cx="1342.79" cy="2201.41" r="5.8" fill="#0a8a8c" stroke="#000" stroke-width="1.5"/>
<circle cx="1366.81" cy="2202.01" r="5.8" fill="#0a8a8c" stroke="#000" stroke-width="1.5"/>
<circle cx="1382.82" cy="2203" r="5.8" fill="#0a8a8c" stroke="#000" stroke-width="1.5"/>
<circle cx="1398.83" cy="2203.8" r="5.8" fill="#0a8a8c" stroke="#000" stroke-width="1.5"/>
<circle cx="1422.85" cy="2203.6" r="5.8" fill="#0a8a8c" stroke="#000" stroke-width="1.5"/>
<circle cx="1438.86" cy="2202.81" r="5.8" fill="#0a8a8c" stroke="#000" stroke-width="1.5"/>
<circle cx="1454.87" cy="2200.62" r="5.8" fill="#0a8a8c" stroke="#000" stroke-width="1.5"/>
<circle cx="1478.89" cy="2194.25" r="5.8" fill="#0a8a8c" stroke="#000" stroke-width="1.5"/>
<circle cx="1494.9" cy="2178.13" r="5.8" fill="#0a8a8c" stroke="#000" stroke-width="1.5"/>
<circle cx="1510.92" cy="2165.39" r="5.8" fill="#0a8a8c" stroke="#000" stroke-width="1.5"/>
<circle cx="1534.93" cy="2150.07" r="5.8" fill="#0a8a8c" stroke="#000" stroke-width="1.5"/>
<circle cx="1550.95" cy="2116.24" r="5.8" fill="#0a8a8c" stroke="#000" stroke-width="1.5"/>
<circle cx="1566.96" cy="2086.59" r="5.8" fill="#0a8a8c" stroke="#000" stroke-width="1.5"/>
<circle cx="1590.98" cy="1981.32" r="5.8" fill="#0a8a8c" stroke="#000" stroke-width="1.5"/>
<path d="M1222.7 2203.8 L1310.77 2202.41 L1326.78 2201.01 L1342.79 2196.44 L1366.81 2190.67 L1382.82 2194.85 L1398.83 2201.41 L1422.85 2197.83 L1438.86 2192.66 L1454.87 2163.2 L1478.89 2089.57" fill="none" stroke="#000" stroke-width="1.6" stroke-linejoin="round"/>
<line x1="1454.87" y1="2151.07" x2="1454.87" y2="2175.34" stroke="#000" stroke-width="1.5"/>
<line x1="1448.47" y1="2151.07" x2="1461.27" y2="2151.07" stroke="#000" stroke-width="1.5"/>
<line x1="1448.47" y1="2175.34" x2="1461.27" y2="2175.34" stroke="#000" stroke-width="1.5"/>
<line x1="1478.89" y1="2058.33" x2="1478.89" y2="2120.82" stroke="#000" stroke-width="1.5"/>
<line x1="1472.49" y1="2058.33" x2="1485.29" y2="2058.33" stroke="#000" stroke-width="1.5"/>
<line x1="1472.49" y1="2120.82" x2="1485.29" y2="2120.82" stroke="#000" stroke-width="1.5"/>
<circle cx="1222.7" cy="2203.8" r="5.8" fill="#c4c4c4" stroke="#000" stroke-width="1.5"/>
<circle cx="1310.77" cy="2202.41" r="5.8" fill="#c4c4c4" stroke="#000" stroke-width="1.5"/>
<circle cx="1326.78" cy="2201.01" r="5.8" fill="#c4c4c4" stroke="#000" stroke-width="1.5"/>
<circle cx="1342.79" cy="2196.44" r="5.8" fill="#c4c4c4" stroke="#000" stroke-width="1.5"/>
<circle cx="1366.81" cy="2190.67" r="5.8" fill="#c4c4c4" stroke="#000" stroke-width="1.5"/>
<circle cx="1382.82" cy="2194.85" r="5.8" fill="#c4c4c4" stroke="#000" stroke-width="1.5"/>
<circle cx="1398.83" cy="2201.41" r="5.8" fill="#c4c4c4" stroke="#000" stroke-width="1.5"/>
<circle cx="1422.85" cy="2197.83" r="5.8" fill="#c4c4c4" stroke="#000" stroke-width="1.5"/>
<circle cx="1438.86" cy="2192.66" r="5.8" fill="#c4c4c4" stroke="#000" stroke-width="1.5"/>
<circle cx="1454.87" cy="2163.2" r="5.8" fill="#c4c4c4" stroke="#000" stroke-width="1.5"/>
<circle cx="1478.89" cy="2089.57" r="5.8" fill="#c4c4c4" stroke="#000" stroke-width="1.5"/>
<line x1="1232.8" y1="1909.1" x2="1265.4" y2="1909.1" stroke="#000" stroke-width="1.5"/>
<circle cx="1248.8" cy="1909.1" r="5.8" fill="#000" stroke="#000" stroke-width="1.4"/>
<line x1="1232.8" y1="1939.7" x2="1265.4" y2="1939.7" stroke="#000" stroke-width="1.5"/>
<circle cx="1248.8" cy="1939.7" r="5.8" fill="#c4c4c4" stroke="#000" stroke-width="1.4"/>
<line x1="1232.8" y1="1970.5" x2="1265.4" y2="1970.5" stroke="#000" stroke-width="1.5"/>
<circle cx="1248.8" cy="1970.5" r="5.8" fill="#0a8a8c" stroke="#000" stroke-width="1.4"/>
<text x="1283.9" y="1917" font-size="24">untreated</text>
<text x="1283.9" y="1947.3" font-size="24">OTI intergenic</text>
<text x="1283.9" y="1978.2" font-size="24">OTI <tspan font-style="italic">Snx9</tspan> KO</text>
<line x1="1450.3" y1="1900.2" x2="1450.3" y2="1946.1" stroke="#000" stroke-width="1.4"/>
<line x1="1478.9" y1="1900.2" x2="1478.9" y2="1979.9" stroke="#000" stroke-width="1.4"/>
<line x1="1503.4" y1="1934.3" x2="1503.4" y2="1979.9" stroke="#000" stroke-width="1.4"/>
<text font-size="23" text-anchor="middle" font-weight="bold" transform="translate(1446.6 1923.2) rotate(90)">***</text>
<text font-size="23" text-anchor="middle" font-weight="bold" transform="translate(1475.7 1939.2) rotate(90)">***</text>
<text font-size="23" text-anchor="middle" font-weight="bold" transform="translate(1499.7 1957.2) rotate(90)">***</text>
</svg>
</body></html>
